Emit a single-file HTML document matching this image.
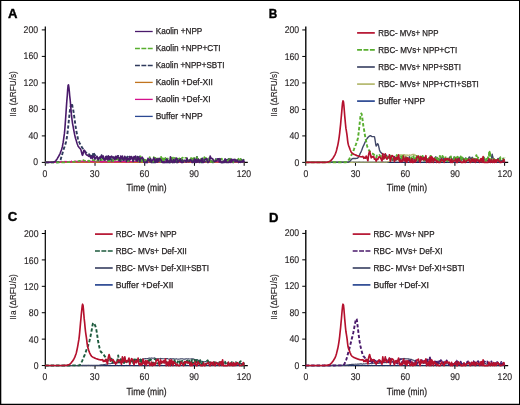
<!DOCTYPE html>
<html><head><meta charset="utf-8"><title>Figure</title>
<style>
html,body{margin:0;padding:0;background:#fff;}
body{width:520px;height:405px;overflow:hidden;position:relative;}
svg{display:block;position:absolute;left:0;top:0;}
svg text{font-family:"Liberation Sans",sans-serif;fill:#231f20;stroke:#231f20;stroke-width:0.25px;}
svg text.ti{text-rendering:geometricPrecision;}
svg text.tk{stroke-width:0.14px;text-rendering:geometricPrecision;}
</style></head><body>
<svg width="520" height="405" viewBox="0 0 520 405">
<rect x="0" y="0" width="520" height="405" fill="#fff"/>
<path d="M45.3,26.5 V162.4 H247.8" fill="none" stroke="#000" stroke-width="1.20"/>
<path d="M45.30,162.40 h-3.5 M45.30,135.90 h-3.5 M45.30,109.40 h-3.5 M45.30,82.90 h-3.5 M45.30,56.40 h-3.5 M45.30,29.90 h-3.5 M45.30,162.40 v3.4 M95.02,162.40 v3.4 M144.73,162.40 v3.4 M194.45,162.40 v3.4 M244.16,162.40 v3.4" fill="none" stroke="#000" stroke-width="1"/>
<path d="M45.3,162.4 L45.7,162.4 L46.1,162.4 L46.5,162.4 L47.0,162.4 L47.4,162.4 L47.8,162.4 L48.2,162.4 L48.6,162.4 L49.0,162.4 L49.4,162.4 L49.9,162.4 L50.3,162.4 L50.7,162.4 L51.1,162.4 L51.5,162.4 L51.9,162.4 L52.3,162.4 L52.8,162.4 L53.2,162.4 L53.6,162.4 L54.0,162.4 L54.4,162.4 L54.8,162.4 L55.2,162.4 L55.7,162.4 L56.1,162.4 L56.5,162.4 L56.9,162.4 L57.3,162.4 L57.7,162.3 L58.1,162.4 L58.6,162.4 L59.0,162.4 L59.4,162.4 L59.8,162.3 L60.2,162.3 L60.6,162.3 L61.0,162.3 L61.5,162.2 L61.9,162.4 L62.3,162.4 L62.7,162.3 L63.1,162.3 L63.5,162.3 L63.9,162.2 L64.4,162.2 L64.8,162.3 L65.2,162.3 L65.6,162.3 L66.0,162.2 L66.4,162.3 L66.8,162.4 L67.3,162.4 L67.7,162.4 L68.1,162.2 L68.5,162.3 L68.9,162.0 L69.3,162.2 L69.7,162.3 L70.2,162.3 L70.6,162.2 L71.0,162.3 L71.4,162.4 L71.8,162.2 L72.2,162.3 L72.6,162.1 L73.1,162.3 L73.5,162.4 L73.9,162.2 L74.3,162.4 L74.7,162.1 L75.1,162.0 L75.5,162.3 L76.0,162.4 L76.4,162.4 L76.8,162.2 L77.2,162.3 L77.6,162.4 L78.0,162.3 L78.4,162.0 L78.9,162.2 L79.3,162.2 L79.7,162.2 L80.1,162.1 L80.5,162.1 L80.9,162.4 L81.3,162.3 L81.8,162.4 L82.2,162.4 L82.6,162.1 L83.0,162.3 L83.4,162.3 L83.8,162.4 L84.2,162.3 L84.7,162.2 L85.1,162.3 L85.5,162.3 L85.9,162.2 L86.3,162.2 L86.7,162.2 L87.1,162.2 L87.6,162.4 L88.0,162.2 L88.4,162.2 L88.8,162.1 L89.2,162.4 L89.6,161.9 L90.0,162.4 L90.5,162.2 L90.9,162.3 L91.3,162.3 L91.7,162.2 L92.1,162.3 L92.5,162.4 L92.9,162.4 L93.4,162.2 L93.8,162.0 L94.2,162.4 L94.6,162.3 L95.0,162.1 L95.4,162.2 L95.8,162.3 L96.3,162.4 L96.7,162.4 L97.1,162.4 L97.5,162.3 L97.9,162.4 L98.3,162.4 L98.7,162.2 L99.2,162.3 L99.6,162.4 L100.0,162.3 L100.4,162.4 L100.8,162.1 L101.2,162.1 L101.6,162.0 L102.1,162.2 L102.5,162.2 L102.9,162.1 L103.3,162.0 L103.7,162.1 L104.1,162.1 L104.5,162.4 L105.0,162.4 L105.4,162.2 L105.8,162.3 L106.2,162.3 L106.6,162.4 L107.0,162.4 L107.4,162.1 L107.9,162.2 L108.3,162.4 L108.7,162.2 L109.1,162.2 L109.5,162.2 L109.9,162.0 L110.3,162.3 L110.8,162.4 L111.2,162.3 L111.6,162.4 L112.0,162.2 L112.4,162.2 L112.8,162.2 L113.2,162.3 L113.7,162.2 L114.1,162.3 L114.5,162.2 L114.9,162.3 L115.3,162.4 L115.7,162.2 L116.1,162.4 L116.6,162.1 L117.0,162.2 L117.4,162.2 L117.8,162.3 L118.2,162.3 L118.6,162.4 L119.0,162.1 L119.5,162.4 L119.9,162.1 L120.3,162.4 L120.7,162.3 L121.1,162.3 L121.5,162.4 L121.9,162.3 L122.4,162.2 L122.8,162.3 L123.2,162.4 L123.6,162.3 L124.0,162.2 L124.4,162.1 L124.8,162.2 L125.3,162.2 L125.7,162.4 L126.1,162.1 L126.5,162.3 L126.9,162.3 L127.3,162.1 L127.7,162.2 L128.2,162.2 L128.6,162.4 L129.0,162.3 L129.4,162.4 L129.8,162.2 L130.2,162.3 L130.6,162.1 L131.1,162.2 L131.5,162.3 L131.9,162.0 L132.3,162.4 L132.7,162.4 L133.1,162.3 L133.5,162.2 L134.0,162.3 L134.4,162.3 L134.8,162.4 L135.2,162.1 L135.6,162.4 L136.0,162.4 L136.4,162.3 L136.9,162.4 L137.3,162.3 L137.7,162.1 L138.1,162.3 L138.5,162.3 L138.9,162.3 L139.3,162.3 L139.8,162.2 L140.2,162.2 L140.6,162.3 L141.0,162.4 L141.4,162.3 L141.8,162.2 L142.2,162.3 L142.7,162.3 L143.1,162.4 L143.5,162.1 L143.9,162.4 L144.3,162.4 L144.7,162.3 L145.1,162.3 L145.6,162.3 L146.0,162.4 L146.4,162.3 L146.8,162.3 L147.2,162.4 L147.6,162.3 L148.0,162.4 L148.5,162.2 L148.9,162.3 L149.3,162.1 L149.7,162.2 L150.1,162.1 L150.5,162.1 L150.9,162.2 L151.4,162.3 L151.8,162.1 L152.2,162.4 L152.6,162.3 L153.0,162.2 L153.4,162.3 L153.8,162.2 L154.3,162.4 L154.7,162.3 L155.1,162.2 L155.5,162.2 L155.9,162.1 L156.3,162.3 L156.7,162.2 L157.2,162.2 L157.6,162.2 L158.0,162.4 L158.4,162.3 L158.8,162.1 L159.2,162.4 L159.6,162.2 L160.1,162.3 L160.5,162.1 L160.9,162.4 L161.3,162.3 L161.7,162.4 L162.1,162.3 L162.5,162.1 L163.0,162.4 L163.4,162.1 L163.8,162.4 L164.2,162.3 L164.6,162.4 L165.0,162.1 L165.4,162.4 L165.9,162.3 L166.3,162.4 L166.7,162.4 L167.1,162.1 L167.5,162.3 L167.9,162.1 L168.3,162.3 L168.8,162.2 L169.2,162.3 L169.6,162.2 L170.0,161.9 L170.4,162.2 L170.8,162.2 L171.2,162.3 L171.7,162.1 L172.1,162.1 L172.5,162.4 L172.9,162.4 L173.3,162.0 L173.7,162.2 L174.1,162.3 L174.6,162.2 L175.0,162.1 L175.4,162.2 L175.8,162.3 L176.2,162.0 L176.6,162.3 L177.0,162.4 L177.5,162.3 L177.9,162.3 L178.3,162.3 L178.7,162.3 L179.1,162.2 L179.5,162.4 L179.9,162.4 L180.4,162.1 L180.8,162.2 L181.2,162.4 L181.6,162.4 L182.0,162.1 L182.4,162.3 L182.8,162.3 L183.3,162.0 L183.7,162.3 L184.1,162.2 L184.5,162.3 L184.9,162.3 L185.3,162.4 L185.7,162.4 L186.2,162.1 L186.6,162.4 L187.0,162.2 L187.4,162.4 L187.8,162.3 L188.2,162.3 L188.6,162.4 L189.1,162.1 L189.5,162.3 L189.9,162.1 L190.3,162.4 L190.7,162.1 L191.1,162.0 L191.5,162.2 L192.0,162.4 L192.4,162.2 L192.8,162.2 L193.2,162.3 L193.6,162.3 L194.0,162.3 L194.4,162.2 L194.9,162.3 L195.3,162.4 L195.7,162.2 L196.1,162.3 L196.5,161.9 L196.9,162.3 L197.3,162.4 L197.8,162.3 L198.2,162.2 L198.6,162.4 L199.0,162.4 L199.4,162.1 L199.8,162.4 L200.2,162.1 L200.7,162.2 L201.1,162.4 L201.5,162.0 L201.9,162.3 L202.3,162.4 L202.7,162.3 L203.1,162.1 L203.6,162.2 L204.0,162.2 L204.4,162.0 L204.8,162.2 L205.2,162.2 L205.6,162.3 L206.0,162.4 L206.5,162.3 L206.9,162.1 L207.3,162.4 L207.7,162.1 L208.1,162.2 L208.5,162.4 L208.9,162.3 L209.4,162.0 L209.8,162.3 L210.2,162.2 L210.6,162.1 L211.0,162.4 L211.4,162.2 L211.8,162.2 L212.3,162.3 L212.7,162.2 L213.1,162.3 L213.5,162.3 L213.9,162.4 L214.3,162.2 L214.7,162.3 L215.2,162.3 L215.6,162.4 L216.0,162.4 L216.4,162.4 L216.8,162.2 L217.2,162.4 L217.6,162.1 L218.1,162.2 L218.5,162.2 L218.9,162.4 L219.3,162.0 L219.7,162.4 L220.1,162.2 L220.5,162.0 L221.0,162.3 L221.4,162.4 L221.8,162.3 L222.2,162.1 L222.6,162.1 L223.0,162.2 L223.4,162.4 L223.9,162.4 L224.3,162.2 L224.7,162.4 L225.1,162.3 L225.5,162.0 L225.9,162.4 L226.3,162.1 L226.8,162.4 L227.2,162.3 L227.6,162.3 L228.0,162.4 L228.4,162.3 L228.8,162.1 L229.2,162.2 L229.7,162.2 L230.1,162.4 L230.5,162.3 L230.9,162.2 L231.3,162.2 L231.7,162.1 L232.1,162.4 L232.6,162.0 L233.0,162.3 L233.4,162.3 L233.8,162.4 L234.2,162.3 L234.6,162.3 L235.0,162.4 L235.5,162.3 L235.9,162.3 L236.3,162.3 L236.7,162.2 L237.1,162.4 L237.5,162.1 L237.9,162.3 L238.4,162.2 L238.8,162.4 L239.2,162.3 L239.6,162.3 L240.0,162.1 L240.4,162.4 L240.8,162.1 L241.3,162.4 L241.7,162.1 L242.1,162.2 L242.5,162.4 L242.9,162.0 L243.3,162.4 L243.7,162.3 L244.2,162.2" fill="none" stroke="#2b4892" stroke-width="1.30" stroke-linejoin="round"/>
<path d="M45.3,162.4 L45.7,162.4 L46.1,162.4 L46.5,162.4 L47.0,162.4 L47.4,162.4 L47.8,162.4 L48.2,162.4 L48.6,162.4 L49.0,162.4 L49.4,162.4 L49.9,162.4 L50.3,162.4 L50.7,162.4 L51.1,162.4 L51.5,162.4 L51.9,162.4 L52.3,162.4 L52.8,162.4 L53.2,162.4 L53.6,162.4 L54.0,162.4 L54.4,162.4 L54.8,162.4 L55.2,162.4 L55.7,162.4 L56.1,162.4 L56.5,162.4 L56.9,162.4 L57.3,162.4 L57.7,162.4 L58.1,162.4 L58.6,162.4 L59.0,162.3 L59.4,162.4 L59.8,162.4 L60.2,162.4 L60.6,162.4 L61.0,162.4 L61.5,162.4 L61.9,162.3 L62.3,162.4 L62.7,162.4 L63.1,162.3 L63.5,162.4 L63.9,162.4 L64.4,162.2 L64.8,162.4 L65.2,162.4 L65.6,162.4 L66.0,162.3 L66.4,162.2 L66.8,162.4 L67.3,162.3 L67.7,162.4 L68.1,162.0 L68.5,162.1 L68.9,162.4 L69.3,162.3 L69.7,162.2 L70.2,162.3 L70.6,162.4 L71.0,162.4 L71.4,162.3 L71.8,162.3 L72.2,162.4 L72.6,162.3 L73.1,162.4 L73.5,162.4 L73.9,162.4 L74.3,162.2 L74.7,162.3 L75.1,162.1 L75.5,162.1 L76.0,162.3 L76.4,162.4 L76.8,162.4 L77.2,162.4 L77.6,162.4 L78.0,162.4 L78.4,162.4 L78.9,162.2 L79.3,162.4 L79.7,162.3 L80.1,162.4 L80.5,162.2 L80.9,162.4 L81.3,162.4 L81.8,162.2 L82.2,162.4 L82.6,162.3 L83.0,162.4 L83.4,162.4 L83.8,162.4 L84.2,162.0 L84.7,162.3 L85.1,162.4 L85.5,162.1 L85.9,162.4 L86.3,162.4 L86.7,162.4 L87.1,162.4 L87.6,162.4 L88.0,162.4 L88.4,162.4 L88.8,162.4 L89.2,162.4 L89.6,162.4 L90.0,162.4 L90.5,162.4 L90.9,162.4 L91.3,162.1 L91.7,162.4 L92.1,162.4 L92.5,162.3 L92.9,162.4 L93.4,161.9 L93.8,162.4 L94.2,162.4 L94.6,162.4 L95.0,162.3 L95.4,162.4 L95.8,162.4 L96.3,162.4 L96.7,162.4 L97.1,162.4 L97.5,162.4 L97.9,162.4 L98.3,162.4 L98.7,162.4 L99.2,162.4 L99.6,162.4 L100.0,162.3 L100.4,162.4 L100.8,162.4 L101.2,162.3 L101.6,162.4 L102.1,162.4 L102.5,162.3 L102.9,162.4 L103.3,162.3 L103.7,162.4 L104.1,162.4 L104.5,162.3 L105.0,162.4 L105.4,162.2 L105.8,162.4 L106.2,162.4 L106.6,162.3 L107.0,162.4 L107.4,162.4 L107.9,162.4 L108.3,162.1 L108.7,162.2 L109.1,162.1 L109.5,162.3 L109.9,162.3 L110.3,162.2 L110.8,162.3 L111.2,162.4 L111.6,162.2 L112.0,162.4 L112.4,162.4 L112.8,162.4 L113.2,162.4 L113.7,162.2 L114.1,162.3 L114.5,162.4 L114.9,162.4 L115.3,162.4 L115.7,162.4 L116.1,162.1 L116.6,162.3 L117.0,162.4 L117.4,162.4 L117.8,162.4 L118.2,162.4 L118.6,162.4 L119.0,162.3 L119.5,162.4 L119.9,162.3 L120.3,162.2 L120.7,162.3 L121.1,162.4 L121.5,162.4 L121.9,162.2 L122.4,162.2 L122.8,162.4 L123.2,162.4 L123.6,162.2 L124.0,162.4 L124.4,162.0 L124.8,162.3 L125.3,162.2 L125.7,162.4 L126.1,162.4 L126.5,162.4 L126.9,162.4 L127.3,162.2 L127.7,162.2 L128.2,162.4 L128.6,162.2 L129.0,162.4 L129.4,162.1 L129.8,162.3 L130.2,162.1 L130.6,162.4 L131.1,162.1 L131.5,162.2 L131.9,162.3 L132.3,162.4 L132.7,162.3 L133.1,162.3 L133.5,162.4 L134.0,162.4 L134.4,162.4 L134.8,162.4 L135.2,162.2 L135.6,162.2 L136.0,162.1 L136.4,162.3 L136.9,162.4 L137.3,162.4 L137.7,162.4 L138.1,162.4 L138.5,162.1 L138.9,162.4 L139.3,162.4 L139.8,162.3 L140.2,162.3 L140.6,162.2 L141.0,162.4 L141.4,162.4 L141.8,162.4 L142.2,162.3 L142.7,162.4 L143.1,162.4 L143.5,162.0 L143.9,162.4 L144.3,162.4 L144.7,162.4 L145.1,162.4 L145.6,162.4 L146.0,162.4 L146.4,162.3 L146.8,162.3 L147.2,162.4 L147.6,162.4 L148.0,162.2 L148.5,162.4 L148.9,162.2 L149.3,162.3 L149.7,161.9 L150.1,162.4 L150.5,162.4 L150.9,162.4 L151.4,162.2 L151.8,162.0 L152.2,162.1 L152.6,162.3 L153.0,162.1 L153.4,162.4 L153.8,162.4 L154.3,162.4 L154.7,162.3 L155.1,162.1 L155.5,162.4 L155.9,162.3 L156.3,162.4 L156.7,162.4 L157.2,162.4 L157.6,162.1 L158.0,162.3 L158.4,162.3 L158.8,162.2 L159.2,162.3 L159.6,162.4 L160.1,162.0 L160.5,162.4 L160.9,162.4 L161.3,162.4 L161.7,162.3 L162.1,162.4 L162.5,162.3 L163.0,162.1 L163.4,162.4 L163.8,162.4 L164.2,162.1 L164.6,162.3 L165.0,162.3 L165.4,162.3 L165.9,162.4 L166.3,162.4 L166.7,162.4 L167.1,162.4 L167.5,162.4 L167.9,162.4 L168.3,162.4 L168.8,162.4 L169.2,162.3 L169.6,162.4 L170.0,162.1 L170.4,162.3 L170.8,162.2 L171.2,162.4 L171.7,162.4 L172.1,162.4 L172.5,162.4 L172.9,162.4 L173.3,162.4 L173.7,162.4 L174.1,162.4 L174.6,162.4 L175.0,162.4 L175.4,162.4 L175.8,162.2 L176.2,162.3 L176.6,162.2 L177.0,162.3 L177.5,162.4 L177.9,162.4 L178.3,162.0 L178.7,162.4 L179.1,162.2 L179.5,162.4 L179.9,162.4 L180.4,162.4 L180.8,162.4 L181.2,162.4 L181.6,162.2 L182.0,162.4 L182.4,162.4 L182.8,162.1 L183.3,162.4 L183.7,162.4 L184.1,161.9 L184.5,162.3 L184.9,162.4 L185.3,162.4 L185.7,162.1 L186.2,162.2 L186.6,162.4 L187.0,162.4 L187.4,162.3 L187.8,162.3 L188.2,162.4 L188.6,162.4 L189.1,162.0 L189.5,162.2 L189.9,162.4 L190.3,162.3 L190.7,162.4 L191.1,162.2 L191.5,162.4 L192.0,162.2 L192.4,162.3 L192.8,162.2 L193.2,162.4 L193.6,162.4 L194.0,162.4 L194.4,162.3 L194.9,162.3 L195.3,162.0 L195.7,162.2 L196.1,162.4 L196.5,162.3 L196.9,162.4 L197.3,162.2 L197.8,162.2 L198.2,162.4 L198.6,162.4 L199.0,162.2 L199.4,162.4 L199.8,162.3 L200.2,162.4 L200.7,162.2 L201.1,162.1 L201.5,162.4 L201.9,162.4 L202.3,162.4 L202.7,162.4 L203.1,162.4 L203.6,162.3 L204.0,162.4 L204.4,162.4 L204.8,162.4 L205.2,162.2 L205.6,162.4 L206.0,162.4 L206.5,162.2 L206.9,162.4 L207.3,162.4 L207.7,162.4 L208.1,162.3 L208.5,162.3 L208.9,162.4 L209.4,162.4 L209.8,162.4 L210.2,162.4 L210.6,162.3 L211.0,162.4 L211.4,162.4 L211.8,162.1 L212.3,162.4 L212.7,162.4 L213.1,162.3 L213.5,162.2 L213.9,162.4 L214.3,162.4 L214.7,162.4 L215.2,162.3 L215.6,162.4 L216.0,162.2 L216.4,162.0 L216.8,162.4 L217.2,162.4 L217.6,162.0 L218.1,162.4 L218.5,162.2 L218.9,162.2 L219.3,162.4 L219.7,162.3 L220.1,162.1 L220.5,162.4 L221.0,162.4 L221.4,162.4 L221.8,162.0 L222.2,162.4 L222.6,162.2 L223.0,162.4 L223.4,162.4 L223.9,162.4 L224.3,162.4 L224.7,162.3 L225.1,162.4 L225.5,162.4 L225.9,162.4 L226.3,162.4 L226.8,162.4 L227.2,162.4 L227.6,162.4 L228.0,162.4 L228.4,162.0 L228.8,162.4 L229.2,162.4 L229.7,162.4 L230.1,162.4 L230.5,162.1 L230.9,162.4 L231.3,162.3 L231.7,162.2 L232.1,162.4 L232.6,162.2 L233.0,162.3 L233.4,162.3 L233.8,162.4 L234.2,162.4 L234.6,162.4 L235.0,162.4 L235.5,162.4 L235.9,162.4 L236.3,162.3 L236.7,162.4 L237.1,162.4 L237.5,162.4 L237.9,162.4 L238.4,162.4 L238.8,162.2 L239.2,162.4 L239.6,162.3 L240.0,162.4 L240.4,162.4 L240.8,162.3 L241.3,162.1 L241.7,162.2 L242.1,162.4 L242.5,162.3 L242.9,162.4 L243.3,162.4 L243.7,162.4 L244.2,162.2" fill="none" stroke="#c1741f" stroke-width="1.40" stroke-linejoin="round"/>
<path d="M45.3,162.4 L45.7,162.4 L46.1,162.4 L46.5,162.4 L47.0,162.4 L47.4,162.4 L47.8,162.4 L48.2,162.4 L48.6,162.3 L49.0,162.3 L49.4,162.3 L49.9,162.3 L50.3,162.3 L50.7,162.3 L51.1,162.3 L51.5,162.3 L51.9,162.3 L52.3,162.3 L52.8,162.3 L53.2,162.3 L53.6,162.2 L54.0,162.2 L54.4,162.3 L54.8,162.2 L55.2,162.2 L55.7,162.3 L56.1,162.2 L56.5,162.3 L56.9,162.1 L57.3,162.2 L57.7,162.2 L58.1,162.0 L58.6,162.3 L59.0,162.0 L59.4,162.3 L59.8,162.1 L60.2,162.2 L60.6,161.8 L61.0,161.7 L61.5,162.0 L61.9,161.8 L62.3,162.0 L62.7,161.8 L63.1,162.1 L63.5,162.3 L63.9,162.3 L64.4,161.8 L64.8,161.3 L65.2,161.8 L65.6,161.9 L66.0,161.3 L66.4,161.7 L66.8,161.7 L67.3,161.7 L67.7,161.8 L68.1,161.8 L68.5,162.1 L68.9,161.6 L69.3,161.7 L69.7,161.3 L70.2,161.8 L70.6,162.3 L71.0,161.7 L71.4,161.1 L71.8,161.8 L72.2,161.9 L72.6,162.0 L73.1,162.0 L73.5,161.7 L73.9,162.0 L74.3,161.1 L74.7,161.7 L75.1,161.6 L75.5,161.1 L76.0,161.1 L76.4,161.7 L76.8,161.5 L77.2,161.3 L77.6,161.6 L78.0,162.2 L78.4,161.4 L78.9,161.3 L79.3,161.4 L79.7,161.9 L80.1,161.6 L80.5,161.8 L80.9,161.7 L81.3,161.1 L81.8,161.0 L82.2,161.3 L82.6,161.4 L83.0,161.3 L83.4,161.6 L83.8,161.6 L84.2,161.8 L84.7,161.6 L85.1,160.8 L85.5,161.3 L85.9,161.7 L86.3,161.7 L86.7,161.8 L87.1,161.4 L87.6,161.4 L88.0,162.0 L88.4,161.4 L88.8,161.7 L89.2,161.1 L89.6,161.5 L90.0,161.0 L90.5,161.7 L90.9,161.6 L91.3,161.4 L91.7,161.2 L92.1,161.4 L92.5,161.9 L92.9,161.5 L93.4,161.5 L93.8,161.7 L94.2,161.8 L94.6,161.0 L95.0,161.7 L95.4,161.8 L95.8,161.3 L96.3,161.5 L96.7,161.6 L97.1,161.3 L97.5,161.4 L97.9,161.4 L98.3,161.2 L98.7,161.4 L99.2,161.7 L99.6,161.7 L100.0,161.7 L100.4,161.5 L100.8,161.9 L101.2,162.1 L101.6,161.5 L102.1,162.0 L102.5,162.2 L102.9,161.4 L103.3,161.8 L103.7,161.4 L104.1,161.7 L104.5,161.9 L105.0,162.0 L105.4,161.7 L105.8,161.6 L106.2,161.8 L106.6,161.6 L107.0,162.0 L107.4,161.5 L107.9,162.1 L108.3,161.6 L108.7,161.3 L109.1,161.2 L109.5,161.0 L109.9,162.1 L110.3,161.3 L110.8,161.1 L111.2,161.2 L111.6,161.8 L112.0,161.4 L112.4,160.9 L112.8,162.0 L113.2,161.4 L113.7,161.2 L114.1,161.8 L114.5,161.3 L114.9,161.9 L115.3,161.8 L115.7,161.8 L116.1,161.5 L116.6,161.6 L117.0,161.2 L117.4,161.9 L117.8,161.6 L118.2,161.2 L118.6,161.4 L119.0,162.0 L119.5,161.3 L119.9,161.7 L120.3,161.4 L120.7,161.4 L121.1,161.1 L121.5,161.5 L121.9,162.2 L122.4,162.0 L122.8,161.3 L123.2,161.6 L123.6,161.2 L124.0,161.4 L124.4,161.8 L124.8,161.2 L125.3,161.8 L125.7,162.2 L126.1,160.9 L126.5,162.2 L126.9,161.3 L127.3,161.2 L127.7,161.5 L128.2,162.1 L128.6,161.2 L129.0,162.0 L129.4,162.0 L129.8,161.7 L130.2,161.3 L130.6,161.4 L131.1,161.3 L131.5,161.7 L131.9,161.6 L132.3,161.9 L132.7,161.6 L133.1,161.3 L133.5,161.6 L134.0,161.4 L134.4,161.7 L134.8,161.7 L135.2,161.5 L135.6,161.6 L136.0,161.3 L136.4,161.5 L136.9,161.0 L137.3,161.6 L137.7,161.6 L138.1,161.9 L138.5,161.5 L138.9,161.3 L139.3,161.8 L139.8,161.6 L140.2,161.3 L140.6,161.6 L141.0,161.7 L141.4,161.2 L141.8,161.5 L142.2,161.4 L142.7,161.2 L143.1,161.2 L143.5,161.7 L143.9,161.7 L144.3,161.4 L144.7,161.6 L145.1,162.2 L145.6,161.1 L146.0,161.5 L146.4,161.3 L146.8,161.9 L147.2,161.1 L147.6,161.7 L148.0,161.6 L148.5,162.0 L148.9,161.6 L149.3,161.6 L149.7,161.6 L150.1,161.4 L150.5,161.5 L150.9,161.2 L151.4,161.7 L151.8,161.9 L152.2,161.5 L152.6,161.3 L153.0,161.1 L153.4,161.3 L153.8,162.1 L154.3,161.4 L154.7,161.1 L155.1,161.5 L155.5,161.7 L155.9,161.4 L156.3,161.7 L156.7,161.3 L157.2,161.5 L157.6,161.1 L158.0,161.4 L158.4,161.8 L158.8,161.3 L159.2,161.2 L159.6,161.7 L160.1,161.7 L160.5,162.3 L160.9,161.2 L161.3,161.7 L161.7,162.2 L162.1,162.1 L162.5,161.6 L163.0,161.3 L163.4,161.6 L163.8,161.4 L164.2,161.9 L164.6,162.0 L165.0,161.2 L165.4,161.4 L165.9,161.5 L166.3,161.1 L166.7,161.9 L167.1,161.7 L167.5,161.2 L167.9,160.9 L168.3,161.5 L168.8,161.0 L169.2,161.7 L169.6,161.4 L170.0,161.6 L170.4,162.1 L170.8,161.5 L171.2,161.2 L171.7,161.6 L172.1,161.6 L172.5,161.1 L172.9,162.0 L173.3,162.0 L173.7,161.8 L174.1,161.9 L174.6,161.1 L175.0,161.4 L175.4,161.8 L175.8,161.7 L176.2,160.6 L176.6,161.7 L177.0,161.8 L177.5,161.4 L177.9,161.3 L178.3,161.5 L178.7,161.8 L179.1,161.9 L179.5,161.3 L179.9,161.6 L180.4,162.1 L180.8,161.2 L181.2,161.3 L181.6,161.6 L182.0,161.6 L182.4,161.5 L182.8,161.8 L183.3,162.0 L183.7,161.4 L184.1,162.0 L184.5,161.4 L184.9,162.0 L185.3,161.6 L185.7,161.6 L186.2,160.9 L186.6,161.9 L187.0,162.0 L187.4,161.8 L187.8,161.9 L188.2,161.7 L188.6,161.4 L189.1,161.3 L189.5,161.0 L189.9,161.8 L190.3,160.7 L190.7,160.9 L191.1,161.6 L191.5,162.3 L192.0,161.6 L192.4,161.5 L192.8,162.3 L193.2,161.5 L193.6,161.6 L194.0,161.8 L194.4,161.3 L194.9,161.2 L195.3,161.7 L195.7,161.5 L196.1,161.8 L196.5,161.8 L196.9,161.5 L197.3,161.4 L197.8,161.7 L198.2,162.3 L198.6,161.3 L199.0,162.1 L199.4,161.5 L199.8,160.9 L200.2,161.5 L200.7,161.9 L201.1,162.0 L201.5,161.2 L201.9,161.5 L202.3,161.4 L202.7,161.2 L203.1,161.6 L203.6,161.6 L204.0,161.9 L204.4,162.4 L204.8,162.0 L205.2,161.6 L205.6,161.6 L206.0,161.4 L206.5,161.6 L206.9,161.5 L207.3,161.3 L207.7,161.8 L208.1,161.6 L208.5,162.1 L208.9,161.2 L209.4,161.5 L209.8,161.4 L210.2,161.0 L210.6,161.2 L211.0,161.6 L211.4,161.3 L211.8,162.0 L212.3,161.4 L212.7,161.5 L213.1,162.1 L213.5,161.1 L213.9,161.8 L214.3,161.3 L214.7,161.7 L215.2,161.2 L215.6,161.1 L216.0,161.8 L216.4,162.0 L216.8,161.6 L217.2,161.3 L217.6,161.7 L218.1,161.7 L218.5,161.4 L218.9,162.4 L219.3,161.8 L219.7,162.0 L220.1,161.4 L220.5,161.8 L221.0,161.9 L221.4,161.7 L221.8,162.0 L222.2,161.5 L222.6,161.8 L223.0,161.7 L223.4,161.8 L223.9,161.2 L224.3,161.6 L224.7,161.4 L225.1,161.4 L225.5,161.8 L225.9,161.3 L226.3,161.4 L226.8,161.4 L227.2,161.7 L227.6,161.7 L228.0,161.3 L228.4,160.8 L228.8,161.8 L229.2,161.4 L229.7,161.7 L230.1,161.3 L230.5,161.4 L230.9,161.2 L231.3,162.4 L231.7,161.7 L232.1,161.9 L232.6,161.6 L233.0,161.8 L233.4,161.8 L233.8,161.3 L234.2,160.9 L234.6,162.4 L235.0,161.6 L235.5,161.4 L235.9,161.5 L236.3,161.7 L236.7,162.0 L237.1,161.9 L237.5,161.3 L237.9,161.2 L238.4,161.5 L238.8,161.8 L239.2,161.5 L239.6,161.6 L240.0,161.4 L240.4,161.5 L240.8,161.7 L241.3,161.5 L241.7,161.9 L242.1,161.3 L242.5,161.1 L242.9,161.9 L243.3,161.4 L243.7,161.9 L244.2,161.2" fill="none" stroke="#d4118c" stroke-width="1.20" stroke-linejoin="round"/>
<path d="M45.3,162.4 L45.7,162.4 L46.1,162.4 L46.5,162.4 L47.0,162.4 L47.4,162.4 L47.8,162.4 L48.2,162.4 L48.6,162.4 L49.0,162.4 L49.4,162.4 L49.9,162.4 L50.3,162.4 L50.7,162.4 L51.1,162.4 L51.5,162.4 L51.9,162.4 L52.3,162.4 L52.8,162.4 L53.2,162.4 L53.6,162.4 L54.0,162.3 L54.4,162.3 L54.8,162.3 L55.2,162.3 L55.7,162.3 L56.1,162.3 L56.5,162.3 L56.9,162.3 L57.3,162.3 L57.7,162.3 L58.1,162.2 L58.6,162.1 L59.0,161.9 L59.4,161.6 L59.8,161.3 L60.2,160.9 L60.6,159.8 L61.0,158.3 L61.5,156.7 L61.9,155.4 L62.3,154.0 L62.7,152.6 L63.1,151.2 L63.5,149.8 L63.9,148.4 L64.4,147.1 L64.8,145.9 L65.2,144.7 L65.6,143.4 L66.0,142.0 L66.4,140.2 L66.8,137.8 L67.3,134.6 L67.7,131.3 L68.1,127.7 L68.5,123.8 L68.9,119.8 L69.3,116.0 L69.7,112.2 L70.2,108.9 L70.6,106.6 L71.0,104.6 L71.4,103.3 L71.8,103.4 L72.2,104.9 L72.6,107.0 L73.1,109.1 L73.5,111.6 L73.9,114.4 L74.3,117.1 L74.7,120.0 L75.1,122.9 L75.5,125.9 L76.0,128.6 L76.4,131.1 L76.8,133.3 L77.2,135.3 L77.6,137.1 L78.0,138.8 L78.4,140.1 L78.9,141.3 L79.3,142.3 L79.7,143.2 L80.1,144.0 L80.5,144.8 L80.9,145.6 L81.3,146.3 L81.8,147.0 L82.2,147.7 L82.6,148.3 L83.0,148.9 L83.4,149.6 L83.8,150.2 L84.2,150.7 L84.7,151.2 L85.1,151.6 L85.5,152.0 L85.9,152.3 L86.3,152.7 L86.7,153.0 L87.1,153.5 L87.6,154.0 L88.0,154.2 L88.4,154.4 L88.8,154.4 L89.2,154.2 L89.6,154.8 L90.0,155.6 L90.5,156.4 L90.9,157.4 L91.3,156.6 L91.7,155.7 L92.1,156.9 L92.5,158.2 L92.9,155.3 L93.4,152.2 L93.8,153.2 L94.2,154.2 L94.6,154.7 L95.0,155.2 L95.4,155.8 L95.8,156.4 L96.3,156.0 L96.7,155.7 L97.1,157.3 L97.5,158.9 L97.9,158.7 L98.3,158.4 L98.7,157.9 L99.2,157.3 L99.6,157.8 L100.0,158.3 L100.4,159.2 L100.8,160.1 L101.2,157.7 L101.6,155.3 L102.1,156.8 L102.5,158.3 L102.9,158.2 L103.3,158.1 L103.7,158.6 L104.1,159.1 L104.5,159.2 L105.0,159.4 L105.4,159.1 L105.8,158.8 L106.2,157.6 L106.6,156.4 L107.0,156.7 L107.4,156.9 L107.9,157.9 L108.3,158.9 L108.7,159.9 L109.1,160.8 L109.5,158.8 L109.9,156.7 L110.3,158.1 L110.8,159.5 L111.2,158.7 L111.6,157.9 L112.0,159.4 L112.4,160.9 L112.8,159.2 L113.2,157.5 L113.7,157.4 L114.1,157.3 L114.5,157.8 L114.9,158.4 L115.3,158.6 L115.7,158.9 L116.1,159.1 L116.6,159.2 L117.0,158.7 L117.4,158.2 L117.8,157.0 L118.2,155.9 L118.6,158.2 L119.0,160.6 L119.5,160.1 L119.9,159.5 L120.3,160.3 L120.7,161.0 L121.1,159.1 L121.5,157.2 L121.9,157.5 L122.4,157.7 L122.8,158.9 L123.2,160.2 L123.6,159.6 L124.0,159.1 L124.4,158.5 L124.8,157.8 L125.3,157.8 L125.7,157.8 L126.1,159.1 L126.5,160.5 L126.9,158.5 L127.3,156.6 L127.7,156.9 L128.2,157.2 L128.6,159.0 L129.0,160.8 L129.4,158.7 L129.8,156.7 L130.2,157.0 L130.6,157.4 L131.1,157.3 L131.5,157.1 L131.9,157.9 L132.3,158.6 L132.7,159.5 L133.1,160.4 L133.5,158.5 L134.0,156.5 L134.4,157.4 L134.8,158.4 L135.2,159.1 L135.6,159.8 L136.0,160.0 L136.4,160.3 L136.9,158.5 L137.3,156.7 L137.7,158.2 L138.1,159.6 L138.5,159.3 L138.9,159.0 L139.3,157.8 L139.8,156.6 L140.2,157.1 L140.6,157.6 L141.0,158.2 L141.4,158.9 L141.8,160.3 L142.2,161.7 L142.7,160.5 L143.1,159.3 L143.5,159.7 L143.9,160.1 L144.3,159.9 L144.7,159.8 L145.1,159.4 L145.6,159.0 L146.0,160.5 L146.4,161.9 L146.8,162.2 L147.2,162.4 L147.6,162.4 L148.0,162.4 L148.5,162.4 L148.9,162.0 L149.3,162.4 L149.7,162.4 L150.1,161.7 L150.5,159.8 L150.9,160.8 L151.4,161.9 L151.8,162.2 L152.2,162.4 L152.6,162.4 L153.0,162.4 L153.4,162.4 L153.8,162.0 L154.3,162.2 L154.7,162.4 L155.1,162.2 L155.5,162.0 L155.9,161.4 L156.3,160.8 L156.7,160.6 L157.2,160.4 L157.6,159.4 L158.0,158.5 L158.4,158.1 L158.8,157.6 L159.2,160.6 L159.6,162.4 L160.1,162.4 L160.5,162.4 L160.9,161.1 L161.3,159.8 L161.7,161.3 L162.1,162.4 L162.5,160.6 L163.0,158.4 L163.4,160.5 L163.8,162.4 L164.2,160.9 L164.6,159.2 L165.0,159.5 L165.4,159.8 L165.9,159.3 L166.3,158.9 L166.7,161.3 L167.1,162.4 L167.5,162.4 L167.9,162.4 L168.3,161.0 L168.8,159.5 L169.2,161.4 L169.6,162.4 L170.0,162.4 L170.4,162.4 L170.8,162.4 L171.2,161.7 L171.7,161.0 L172.1,160.3 L172.5,161.9 L172.9,162.4 L173.3,162.4 L173.7,161.9 L174.1,162.4 L174.6,162.4 L175.0,162.4 L175.4,161.5 L175.8,160.6 L176.2,159.8 L176.6,161.3 L177.0,162.4 L177.5,160.6 L177.9,158.6 L178.3,159.9 L178.7,161.3 L179.1,160.7 L179.5,160.1 L179.9,161.2 L180.4,162.2 L180.8,161.2 L181.2,160.2 L181.6,159.2 L182.0,158.1 L182.4,159.7 L182.8,161.2 L183.3,162.0 L183.7,162.4 L184.1,162.0 L184.5,161.4 L184.9,161.3 L185.3,161.3 L185.7,161.1 L186.2,160.9 L186.6,160.8 L187.0,160.8 L187.4,162.3 L187.8,162.4 L188.2,162.4 L188.6,162.4 L189.1,162.1 L189.5,161.3 L189.9,160.5 L190.3,159.7 L190.7,159.5 L191.1,159.3 L191.5,159.3 L192.0,159.3 L192.4,160.2 L192.8,161.0 L193.2,159.6 L193.6,158.2 L194.0,160.1 L194.4,162.0 L194.9,161.6 L195.3,161.1 L195.7,160.3 L196.1,159.5 L196.5,158.3 L196.9,157.0 L197.3,159.3 L197.8,161.6 L198.2,160.3 L198.6,159.0 L199.0,160.2 L199.4,161.4 L199.8,160.6 L200.2,159.8 L200.7,161.9 L201.1,162.4 L201.5,162.4 L201.9,162.4 L202.3,161.2 L202.7,158.5 L203.1,161.0 L203.6,162.4 L204.0,161.8 L204.4,160.2 L204.8,161.3 L205.2,162.4 L205.6,162.4 L206.0,162.4 L206.5,162.4 L206.9,161.8 L207.3,160.2 L207.7,158.7 L208.1,159.7 L208.5,160.8 L208.9,159.8 L209.4,158.7 L209.8,159.4 L210.2,160.0 L210.6,160.6 L211.0,161.2 L211.4,161.2 L211.8,161.2 L212.3,162.0 L212.7,162.4 L213.1,162.4 L213.5,162.4 L213.9,162.4 L214.3,161.8 L214.7,161.3 L215.2,160.9 L215.6,160.0 L216.0,159.1 L216.4,159.7 L216.8,160.3 L217.2,159.8 L217.6,159.4 L218.1,159.1 L218.5,158.9 L218.9,158.9 L219.3,158.8 L219.7,159.2 L220.1,159.6 L220.5,161.5 L221.0,162.4 L221.4,162.4 L221.8,162.3 L222.2,162.4 L222.6,162.4 L223.0,161.2 L223.4,159.3 L223.9,159.6 L224.3,159.8 L224.7,161.0 L225.1,162.3 L225.5,161.7 L225.9,161.1 L226.3,160.4 L226.8,159.8 L227.2,159.7 L227.6,159.6 L228.0,161.4 L228.4,162.4 L228.8,160.3 L229.2,157.4 L229.7,158.6 L230.1,159.8 L230.5,161.9 L230.9,162.4 L231.3,162.4 L231.7,162.4 L232.1,162.4 L232.6,161.9 L233.0,162.4 L233.4,162.4 L233.8,161.3 L234.2,159.5 L234.6,160.0 L235.0,160.4 L235.5,160.4 L235.9,160.5 L236.3,160.3 L236.7,160.2 L237.1,161.4 L237.5,162.4 L237.9,162.4 L238.4,162.4 L238.8,162.0 L239.2,161.0 L239.6,161.6 L240.0,162.1 L240.4,160.7 L240.8,159.3 L241.3,160.1 L241.7,160.9 L242.1,161.6 L242.5,162.3 L242.9,161.1 L243.3,159.8 L243.7,161.1 L244.2,162.4" fill="none" stroke="#2f3a5c" stroke-width="1.90" stroke-linejoin="round" stroke-dasharray="3.4 2.0"/>
<path d="M45.3,162.4 L45.7,162.4 L46.1,162.4 L46.5,162.4 L47.0,162.4 L47.4,162.4 L47.8,162.4 L48.2,162.4 L48.6,162.4 L49.0,162.4 L49.4,162.4 L49.9,162.4 L50.3,162.4 L50.7,162.4 L51.1,162.4 L51.5,162.4 L51.9,162.4 L52.3,162.4 L52.8,162.4 L53.2,162.4 L53.6,162.4 L54.0,162.4 L54.4,162.4 L54.8,162.4 L55.2,162.4 L55.7,162.4 L56.1,162.4 L56.5,162.4 L56.9,162.4 L57.3,162.3 L57.7,162.3 L58.1,162.3 L58.6,162.3 L59.0,162.3 L59.4,162.3 L59.8,162.3 L60.2,162.3 L60.6,162.3 L61.0,162.3 L61.5,162.3 L61.9,162.3 L62.3,162.3 L62.7,162.3 L63.1,162.3 L63.5,162.3 L63.9,162.3 L64.4,162.3 L64.8,162.3 L65.2,162.3 L65.6,162.2 L66.0,162.2 L66.4,162.2 L66.8,162.2 L67.3,162.2 L67.7,162.2 L68.1,162.2 L68.5,162.2 L68.9,162.2 L69.3,162.2 L69.7,162.1 L70.2,162.1 L70.6,162.1 L71.0,162.1 L71.4,162.0 L71.8,162.0 L72.2,161.9 L72.6,161.9 L73.1,161.8 L73.5,161.8 L73.9,161.8 L74.3,161.7 L74.7,161.6 L75.1,161.5 L75.5,161.5 L76.0,161.4 L76.4,161.4 L76.8,161.3 L77.2,161.3 L77.6,161.3 L78.0,161.2 L78.4,161.1 L78.9,161.0 L79.3,160.9 L79.7,160.9 L80.1,160.9 L80.5,160.8 L80.9,160.7 L81.3,160.6 L81.8,160.4 L82.2,160.2 L82.6,159.8 L83.0,160.0 L83.4,160.2 L83.8,160.4 L84.2,160.7 L84.7,160.7 L85.1,160.8 L85.5,160.7 L85.9,160.6 L86.3,160.8 L86.7,161.1 L87.1,161.1 L87.6,161.2 L88.0,160.9 L88.4,160.6 L88.8,161.0 L89.2,161.4 L89.6,161.0 L90.0,160.7 L90.5,160.8 L90.9,160.9 L91.3,160.6 L91.7,160.2 L92.1,160.1 L92.5,160.0 L92.9,160.1 L93.4,160.2 L93.8,160.2 L94.2,160.2 L94.6,160.5 L95.0,160.9 L95.4,160.5 L95.8,160.2 L96.3,160.6 L96.7,160.9 L97.1,160.7 L97.5,160.4 L97.9,160.7 L98.3,160.9 L98.7,160.8 L99.2,160.7 L99.6,161.0 L100.0,161.4 L100.4,161.2 L100.8,161.1 L101.2,160.1 L101.6,159.2 L102.1,160.1 L102.5,161.1 L102.9,160.5 L103.3,160.0 L103.7,160.0 L104.1,160.0 L104.5,159.9 L105.0,159.8 L105.4,159.4 L105.8,159.0 L106.2,159.5 L106.6,160.1 L107.0,160.7 L107.4,161.4 L107.9,161.4 L108.3,161.4 L108.7,161.3 L109.1,161.1 L109.5,161.2 L109.9,161.2 L110.3,161.3 L110.8,161.3 L111.2,161.3 L111.6,161.3 L112.0,160.6 L112.4,160.0 L112.8,160.6 L113.2,161.2 L113.7,159.7 L114.1,158.3 L114.5,158.8 L114.9,159.4 L115.3,159.7 L115.7,159.9 L116.1,159.6 L116.6,159.2 L117.0,160.1 L117.4,160.9 L117.8,159.5 L118.2,158.1 L118.6,158.2 L119.0,158.4 L119.5,158.7 L119.9,158.9 L120.3,159.5 L120.7,160.0 L121.1,159.1 L121.5,158.2 L121.9,158.5 L122.4,158.7 L122.8,158.9 L123.2,159.1 L123.6,158.4 L124.0,157.7 L124.4,158.4 L124.8,159.1 L125.3,159.8 L125.7,160.4 L126.1,160.0 L126.5,159.5 L126.9,160.3 L127.3,161.1 L127.7,161.1 L128.2,161.2 L128.6,159.8 L129.0,158.5 L129.4,158.3 L129.8,158.1 L130.2,157.5 L130.6,156.9 L131.1,157.3 L131.5,157.7 L131.9,158.6 L132.3,159.5 L132.7,160.5 L133.1,161.5 L133.5,160.7 L134.0,159.8 L134.4,158.5 L134.8,157.2 L135.2,157.7 L135.6,158.1 L136.0,159.0 L136.4,159.8 L136.9,159.9 L137.3,160.0 L137.7,160.5 L138.1,161.1 L138.5,161.2 L138.9,161.3 L139.3,161.5 L139.8,161.6 L140.2,159.0 L140.6,156.4 L141.0,157.7 L141.4,159.0 L141.8,160.2 L142.2,161.4 L142.7,160.8 L143.1,160.2 L143.5,161.0 L143.9,161.7 L144.3,161.4 L144.7,161.2 L145.1,159.8 L145.6,158.5 L146.0,158.7 L146.4,158.9 L146.8,159.4 L147.2,159.9 L147.6,160.4 L148.0,160.9 L148.5,159.9 L148.9,158.9 L149.3,158.0 L149.7,157.1 L150.1,158.6 L150.5,160.1 L150.9,160.9 L151.4,161.7 L151.8,161.7 L152.2,161.7 L152.6,161.7 L153.0,161.7 L153.4,159.4 L153.8,157.0 L154.3,158.3 L154.7,159.6 L155.1,158.7 L155.5,157.8 L155.9,159.6 L156.3,161.4 L156.7,161.2 L157.2,161.0 L157.6,159.9 L158.0,158.7 L158.4,158.1 L158.8,157.5 L159.2,159.1 L159.6,160.6 L160.1,161.2 L160.5,161.8 L160.9,158.8 L161.3,155.8 L161.7,158.3 L162.1,160.9 L162.5,159.7 L163.0,158.4 L163.4,160.0 L163.8,161.5 L164.2,160.1 L164.6,158.7 L165.0,158.3 L165.4,157.8 L165.9,158.2 L166.3,158.5 L166.7,159.6 L167.1,160.6 L167.5,159.6 L167.9,158.5 L168.3,160.1 L168.8,161.6 L169.2,161.2 L169.6,160.8 L170.0,160.6 L170.4,160.3 L170.8,158.9 L171.2,157.6 L171.7,159.6 L172.1,161.5 L172.5,159.5 L172.9,157.6 L173.3,157.8 L173.7,158.1 L174.1,157.5 L174.6,157.0 L175.0,158.8 L175.4,160.6 L175.8,161.0 L176.2,161.3 L176.6,161.3 L177.0,161.2 L177.5,159.6 L177.9,157.9 L178.3,157.5 L178.7,157.0 L179.1,157.9 L179.5,158.7 L179.9,159.4 L180.4,160.0 L180.8,160.5 L181.2,161.0 L181.6,159.4 L182.0,157.9 L182.4,157.8 L182.8,157.6 L183.3,159.7 L183.7,161.8 L184.1,161.6 L184.5,161.3 L184.9,159.6 L185.3,157.9 L185.7,157.8 L186.2,157.8 L186.6,159.3 L187.0,160.9 L187.4,161.0 L187.8,161.1 L188.2,160.7 L188.6,160.3 L189.1,160.0 L189.5,159.7 L189.9,160.8 L190.3,161.8 L190.7,159.9 L191.1,157.9 L191.5,158.8 L192.0,159.7 L192.4,159.0 L192.8,158.3 L193.2,159.8 L193.6,161.3 L194.0,159.2 L194.4,157.0 L194.9,157.7 L195.3,158.4 L195.7,159.6 L196.1,160.8 L196.5,159.0 L196.9,157.1 L197.3,157.9 L197.8,158.8 L198.2,158.3 L198.6,157.9 L199.0,160.0 L199.4,162.0 L199.8,162.0 L200.2,162.0 L200.7,160.3 L201.1,158.5 L201.5,159.8 L201.9,161.0 L202.3,160.4 L202.7,159.9 L203.1,160.8 L203.6,161.7 L204.0,159.3 L204.4,157.0 L204.8,158.5 L205.2,160.0 L205.6,159.0 L206.0,158.0 L206.5,160.0 L206.9,162.0 L207.3,161.1 L207.7,160.2 L208.1,161.1 L208.5,162.1 L208.9,159.9 L209.4,157.7 L209.8,159.0 L210.2,160.4 L210.6,161.2 L211.0,162.0 L211.4,162.0 L211.8,162.0 L212.3,161.0 L212.7,159.9 L213.1,161.0 L213.5,162.0 L213.9,160.9 L214.3,159.7 L214.7,160.1 L215.2,160.5 L215.6,160.3 L216.0,160.2 L216.4,159.9 L216.8,159.7 L217.2,159.6 L217.6,159.5 L218.1,160.2 L218.5,160.8 L218.9,160.2 L219.3,159.5 L219.7,160.7 L220.1,161.8 L220.5,161.6 L221.0,161.3 L221.4,159.9 L221.8,158.5 L222.2,160.2 L222.6,161.8 L223.0,161.7 L223.4,161.6 L223.9,161.5 L224.3,161.5 L224.7,160.9 L225.1,160.4 L225.5,161.3 L225.9,162.3 L226.3,162.3 L226.8,162.2 L227.2,161.4 L227.6,160.5 L228.0,161.2 L228.4,161.8 L228.8,160.6 L229.2,159.3 L229.7,159.0 L230.1,158.7 L230.5,159.3 L230.9,159.9 L231.3,159.6 L231.7,159.3 L232.1,160.1 L232.6,160.9 L233.0,161.6 L233.4,162.2 L233.8,161.5 L234.2,160.7 L234.6,160.9 L235.0,161.0 L235.5,160.5 L235.9,159.9 L236.3,161.0 L236.7,162.0 L237.1,161.8 L237.5,161.7 L237.9,160.2 L238.4,158.7 L238.8,160.1 L239.2,161.5 L239.6,161.2 L240.0,160.9 L240.4,159.5 L240.8,158.1 L241.3,159.8 L241.7,161.5 L242.1,161.8 L242.5,162.0 L242.9,160.7 L243.3,159.5 L243.7,159.8 L244.2,160.2" fill="none" stroke="#58ae2f" stroke-width="1.70" stroke-linejoin="round" stroke-dasharray="3.4 2.0"/>
<path d="M45.3,162.4 L45.7,162.4 L46.1,162.4 L46.5,162.4 L47.0,162.4 L47.4,162.4 L47.8,162.4 L48.2,162.4 L48.6,162.4 L49.0,162.4 L49.4,162.4 L49.9,162.3 L50.3,162.3 L50.7,162.3 L51.1,162.3 L51.5,162.3 L51.9,162.3 L52.3,162.2 L52.8,162.2 L53.2,162.1 L53.6,162.0 L54.0,161.9 L54.4,161.7 L54.8,161.5 L55.2,161.2 L55.7,160.8 L56.1,160.4 L56.5,159.8 L56.9,159.2 L57.3,158.6 L57.7,157.9 L58.1,157.2 L58.6,156.5 L59.0,155.7 L59.4,155.0 L59.8,154.1 L60.2,153.2 L60.6,152.1 L61.0,151.0 L61.5,149.8 L61.9,148.4 L62.3,146.9 L62.7,144.9 L63.1,142.7 L63.5,140.1 L63.9,137.2 L64.4,133.7 L64.8,129.5 L65.2,124.3 L65.6,118.7 L66.0,113.0 L66.4,106.9 L66.8,101.1 L67.3,95.3 L67.7,89.4 L68.1,85.3 L68.5,84.9 L68.9,87.3 L69.3,91.2 L69.7,95.8 L70.2,100.2 L70.6,104.7 L71.0,109.8 L71.4,114.4 L71.8,117.9 L72.2,121.0 L72.6,123.8 L73.1,126.3 L73.5,128.7 L73.9,130.9 L74.3,132.9 L74.7,134.9 L75.1,136.6 L75.5,138.3 L76.0,139.8 L76.4,141.1 L76.8,142.4 L77.2,143.7 L77.6,144.8 L78.0,145.8 L78.4,146.6 L78.9,147.2 L79.3,147.7 L79.7,148.1 L80.1,148.5 L80.5,149.1 L80.9,149.8 L81.3,151.2 L81.8,153.2 L82.2,154.9 L82.6,155.3 L83.0,154.1 L83.4,152.0 L83.8,150.3 L84.2,150.1 L84.7,150.9 L85.1,152.1 L85.5,153.3 L85.9,154.1 L86.3,154.6 L86.7,155.0 L87.1,155.1 L87.6,155.0 L88.0,155.5 L88.4,156.1 L88.8,156.3 L89.2,156.5 L89.6,156.4 L90.0,156.2 L90.5,157.1 L90.9,158.2 L91.3,157.3 L91.7,156.3 L92.1,157.4 L92.5,158.5 L92.9,157.5 L93.4,156.5 L93.8,156.2 L94.2,156.0 L94.6,157.6 L95.0,159.2 L95.4,158.5 L95.8,157.7 L96.3,157.0 L96.7,156.3 L97.1,157.1 L97.5,157.9 L97.9,158.9 L98.3,159.9 L98.7,158.7 L99.2,157.4 L99.6,157.2 L100.0,156.9 L100.4,157.3 L100.8,157.7 L101.2,156.6 L101.6,155.6 L102.1,156.5 L102.5,157.5 L102.9,156.7 L103.3,156.0 L103.7,158.0 L104.1,160.0 L104.5,160.0 L105.0,160.1 L105.4,158.3 L105.8,156.5 L106.2,157.6 L106.6,158.7 L107.0,159.4 L107.4,160.0 L107.9,158.0 L108.3,155.9 L108.7,157.5 L109.1,159.1 L109.5,158.0 L109.9,156.9 L110.3,157.0 L110.8,157.1 L111.2,156.7 L111.6,156.2 L112.0,156.9 L112.4,157.7 L112.8,157.3 L113.2,157.0 L113.7,158.1 L114.1,159.2 L114.5,159.4 L114.9,159.6 L115.3,157.9 L115.7,156.3 L116.1,157.5 L116.6,158.8 L117.0,157.4 L117.4,155.9 L117.8,156.7 L118.2,157.6 L118.6,157.7 L119.0,157.8 L119.5,159.2 L119.9,160.6 L120.3,158.3 L120.7,156.1 L121.1,157.4 L121.5,158.8 L121.9,157.4 L122.4,156.0 L122.8,157.6 L123.2,159.1 L123.6,159.6 L124.0,160.1 L124.4,158.2 L124.8,156.4 L125.3,157.3 L125.7,158.2 L126.1,159.8 L126.5,161.4 L126.9,159.7 L127.3,158.0 L127.7,158.9 L128.2,159.7 L128.6,159.1 L129.0,158.6 L129.4,157.6 L129.8,156.6 L130.2,158.1 L130.6,159.6 L131.1,158.0 L131.5,156.5 L131.9,157.3 L132.3,158.1 L132.7,159.8 L133.1,161.5 L133.5,159.0 L134.0,156.5 L134.4,157.1 L134.8,157.8 L135.2,157.0 L135.6,156.1 L136.0,158.4 L136.4,160.8 L136.9,160.9 L137.3,161.1 L137.7,158.9 L138.1,156.7 L138.5,157.4 L138.9,158.1 L139.3,160.0 L139.8,161.9 L140.2,160.0 L140.6,158.0 L141.0,158.1 L141.4,158.1 L141.8,157.7 L142.2,157.2 L142.7,157.9 L143.1,158.6 L143.5,160.4 L143.9,162.3 L144.3,162.4 L144.7,162.4 L145.1,162.4 L145.6,162.4 L146.0,162.4 L146.4,162.4 L146.8,162.4 L147.2,162.0 L147.6,160.2 L148.0,158.3 L148.5,159.3 L148.9,160.3 L149.3,160.3 L149.7,160.3 L150.1,159.4 L150.5,158.5 L150.9,160.7 L151.4,162.4 L151.8,161.5 L152.2,160.1 L152.6,160.1 L153.0,160.1 L153.4,158.9 L153.8,157.7 L154.3,159.0 L154.7,160.3 L155.1,162.0 L155.5,162.4 L155.9,161.2 L156.3,158.8 L156.7,160.6 L157.2,162.3 L157.6,160.5 L158.0,158.8 L158.4,160.1 L158.8,161.4 L159.2,159.9 L159.6,158.4 L160.1,158.8 L160.5,159.2 L160.9,159.8 L161.3,160.4 L161.7,161.7 L162.1,162.4 L162.5,162.4 L163.0,162.4 L163.4,162.4 L163.8,162.4 L164.2,162.4 L164.6,162.4 L165.0,162.4 L165.4,162.4 L165.9,162.4 L166.3,162.4 L166.7,160.9 L167.1,159.4 L167.5,159.9 L167.9,160.4 L168.3,162.1 L168.8,162.4 L169.2,162.4 L169.6,162.4 L170.0,160.1 L170.4,156.8 L170.8,158.6 L171.2,160.4 L171.7,161.5 L172.1,162.4 L172.5,162.4 L172.9,162.3 L173.3,160.8 L173.7,159.3 L174.1,161.0 L174.6,162.4 L175.0,161.5 L175.4,160.3 L175.8,159.1 L176.2,158.0 L176.6,158.3 L177.0,158.7 L177.5,160.6 L177.9,162.4 L178.3,161.7 L178.7,160.9 L179.1,160.5 L179.5,160.1 L179.9,159.5 L180.4,158.9 L180.8,160.9 L181.2,162.4 L181.6,162.4 L182.0,162.4 L182.4,162.4 L182.8,162.4 L183.3,162.3 L183.7,161.0 L184.1,160.6 L184.5,160.3 L184.9,160.4 L185.3,160.5 L185.7,161.3 L186.2,162.1 L186.6,160.0 L187.0,158.0 L187.4,159.2 L187.8,160.5 L188.2,161.1 L188.6,161.7 L189.1,161.2 L189.5,160.7 L189.9,160.1 L190.3,159.5 L190.7,159.7 L191.1,160.0 L191.5,161.2 L192.0,162.4 L192.4,162.4 L192.8,162.4 L193.2,162.4 L193.6,161.8 L194.0,160.3 L194.4,158.8 L194.9,160.8 L195.3,162.4 L195.7,161.1 L196.1,159.5 L196.5,161.6 L196.9,162.4 L197.3,161.7 L197.8,159.8 L198.2,159.5 L198.6,159.2 L199.0,161.1 L199.4,162.4 L199.8,161.6 L200.2,160.2 L200.7,160.6 L201.1,160.9 L201.5,159.7 L201.9,158.5 L202.3,160.5 L202.7,162.4 L203.1,162.4 L203.6,162.4 L204.0,161.7 L204.4,159.7 L204.8,159.6 L205.2,159.5 L205.6,159.1 L206.0,158.7 L206.5,158.7 L206.9,158.6 L207.3,161.3 L207.7,162.4 L208.1,162.4 L208.5,162.4 L208.9,161.6 L209.4,160.5 L209.8,158.3 L210.2,156.0 L210.6,157.3 L211.0,158.6 L211.4,158.5 L211.8,158.4 L212.3,158.6 L212.7,158.8 L213.1,159.6 L213.5,160.4 L213.9,161.2 L214.3,161.9 L214.7,161.6 L215.2,161.4 L215.6,161.0 L216.0,160.7 L216.4,160.9 L216.8,161.0 L217.2,160.0 L217.6,158.9 L218.1,158.9 L218.5,158.9 L218.9,160.4 L219.3,162.0 L219.7,160.3 L220.1,158.7 L220.5,161.0 L221.0,162.4 L221.4,162.4 L221.8,162.4 L222.2,162.4 L222.6,162.4 L223.0,162.4 L223.4,161.4 L223.9,162.4 L224.3,162.4 L224.7,161.5 L225.1,158.9 L225.5,159.3 L225.9,159.6 L226.3,161.9 L226.8,162.4 L227.2,162.4 L227.6,162.4 L228.0,162.4 L228.4,162.4 L228.8,162.4 L229.2,162.4 L229.7,161.7 L230.1,159.8 L230.5,161.1 L230.9,162.4 L231.3,160.8 L231.7,159.1 L232.1,160.1 L232.6,161.1 L233.0,160.3 L233.4,159.5 L233.8,159.6 L234.2,159.7 L234.6,159.5 L235.0,159.4 L235.5,160.6 L235.9,161.8 L236.3,161.6 L236.7,161.4 L237.1,160.7 L237.5,160.0 L237.9,161.4 L238.4,162.4 L238.8,162.3 L239.2,161.7 L239.6,161.4 L240.0,161.1 L240.4,161.8 L240.8,162.4 L241.3,161.8 L241.7,161.2 L242.1,161.6 L242.5,162.1 L242.9,161.1 L243.3,160.1 L243.7,161.4 L244.2,162.4" fill="none" stroke="#4a1a6b" stroke-width="1.60" stroke-linejoin="round"/>
<text x="38.1" y="165.3" font-size="9.80" text-anchor="end" textLength="4.8" lengthAdjust="spacingAndGlyphs" class="tk">0</text>
<text x="38.1" y="138.8" font-size="9.80" text-anchor="end" textLength="9.7" lengthAdjust="spacingAndGlyphs" class="tk">40</text>
<text x="38.1" y="112.3" font-size="9.80" text-anchor="end" textLength="9.7" lengthAdjust="spacingAndGlyphs" class="tk">80</text>
<text x="38.1" y="85.8" font-size="9.80" text-anchor="end" textLength="14.5" lengthAdjust="spacingAndGlyphs" class="tk">120</text>
<text x="38.1" y="59.4" font-size="9.80" text-anchor="end" textLength="14.5" lengthAdjust="spacingAndGlyphs" class="tk">160</text>
<text x="38.1" y="32.9" font-size="9.80" text-anchor="end" textLength="14.5" lengthAdjust="spacingAndGlyphs" class="tk">200</text>
<text x="45.0" y="176.7" font-size="9.80" text-anchor="middle" textLength="4.8" lengthAdjust="spacingAndGlyphs" class="tk">0</text>
<text x="94.7" y="176.7" font-size="9.80" text-anchor="middle" textLength="9.7" lengthAdjust="spacingAndGlyphs" class="tk">30</text>
<text x="144.4" y="176.7" font-size="9.80" text-anchor="middle" textLength="9.7" lengthAdjust="spacingAndGlyphs" class="tk">60</text>
<text x="194.1" y="176.7" font-size="9.80" text-anchor="middle" textLength="9.7" lengthAdjust="spacingAndGlyphs" class="tk">90</text>
<text x="243.9" y="176.7" font-size="9.80" text-anchor="middle" textLength="14.5" lengthAdjust="spacingAndGlyphs" class="tk">120</text>
<text x="146.5" y="190.7" font-size="10.20" text-anchor="middle" textLength="40.2" lengthAdjust="spacingAndGlyphs" class="ti">Time (min)</text>
<text transform="translate(16.3,94.0) rotate(-90)" font-size="9.6" text-anchor="middle" textLength="45.5" style="stroke-width:0.15px" lengthAdjust="spacingAndGlyphs">IIa (ΔRFU/s)</text>
<text x="8.00" y="18.10" font-size="13.1" font-weight="bold" style="fill:#000;stroke:#000;stroke-width:0.4px">A</text>
<path d="M135.0,31.5 h17.7" fill="none" stroke="#4a1a6b" stroke-width="1.30"/>
<text x="155.7" y="34.4" font-size="8.40" textLength="46.6" lengthAdjust="spacingAndGlyphs">Kaolin +NPP</text>
<path d="M135.0,48.5 h17.7" fill="none" stroke="#58ae2f" stroke-width="1.30" stroke-dasharray="4.9 1.5"/>
<text x="155.7" y="51.4" font-size="8.40" textLength="64.9" lengthAdjust="spacingAndGlyphs">Kaolin +NPP+CTI</text>
<path d="M135.0,65.5 h17.7" fill="none" stroke="#2f3a5c" stroke-width="1.30" stroke-dasharray="4.9 1.5"/>
<text x="155.7" y="68.4" font-size="8.40" textLength="68.7" lengthAdjust="spacingAndGlyphs">Kaolin +NPP+SBTI</text>
<path d="M135.0,82.4 h17.7" fill="none" stroke="#c1741f" stroke-width="1.30"/>
<text x="155.7" y="85.3" font-size="8.40" textLength="57.2" lengthAdjust="spacingAndGlyphs">Kaolin +Def-XII</text>
<path d="M135.0,99.4 h17.7" fill="none" stroke="#d4118c" stroke-width="1.30"/>
<text x="155.7" y="102.3" font-size="8.40" textLength="54.9" lengthAdjust="spacingAndGlyphs">Kaolin +Def-XI</text>
<path d="M135.0,116.4 h17.7" fill="none" stroke="#2b4892" stroke-width="1.30"/>
<text x="155.7" y="119.3" font-size="8.40" textLength="47.0" lengthAdjust="spacingAndGlyphs">Buffer +NPP</text>
<path d="M305.8,26.6 V162.4 H508.2" fill="none" stroke="#000" stroke-width="1.35"/>
<path d="M305.75,162.40 h-3.5 M305.75,135.91 h-3.5 M305.75,109.42 h-3.5 M305.75,82.93 h-3.5 M305.75,56.44 h-3.5 M305.75,29.95 h-3.5 M305.75,162.40 v3.4 M355.47,162.40 v3.4 M405.18,162.40 v3.4 M454.90,162.40 v3.4 M504.61,162.40 v3.4" fill="none" stroke="#000" stroke-width="1"/>
<path d="M305.8,162.4 L306.2,162.4 L306.6,162.4 L307.0,162.4 L307.4,162.4 L307.8,162.4 L308.2,162.4 L308.7,162.4 L309.1,162.4 L309.5,162.4 L309.9,162.4 L310.3,162.4 L310.7,162.4 L311.1,162.4 L311.6,162.4 L312.0,162.4 L312.4,162.4 L312.8,162.4 L313.2,162.4 L313.6,162.4 L314.0,162.4 L314.5,162.4 L314.9,162.4 L315.3,162.4 L315.7,162.4 L316.1,162.4 L316.5,162.4 L316.9,162.4 L317.4,162.4 L317.8,162.4 L318.2,162.4 L318.6,162.4 L319.0,162.4 L319.4,162.4 L319.8,162.4 L320.3,162.4 L320.7,162.4 L321.1,162.4 L321.5,162.4 L321.9,162.4 L322.3,162.4 L322.7,162.4 L323.2,162.4 L323.6,162.4 L324.0,162.4 L324.4,162.3 L324.8,162.3 L325.2,162.4 L325.6,162.4 L326.1,162.4 L326.5,162.4 L326.9,162.2 L327.3,162.3 L327.7,162.4 L328.1,162.3 L328.5,162.3 L329.0,162.4 L329.4,162.4 L329.8,162.4 L330.2,162.3 L330.6,162.4 L331.0,162.4 L331.4,162.4 L331.9,162.4 L332.3,162.3 L332.7,162.3 L333.1,162.4 L333.5,162.4 L333.9,162.3 L334.3,162.4 L334.8,162.4 L335.2,162.4 L335.6,162.4 L336.0,162.4 L336.4,162.4 L336.8,162.4 L337.2,162.4 L337.7,162.4 L338.1,162.4 L338.5,162.4 L338.9,162.3 L339.3,162.4 L339.7,162.4 L340.1,162.3 L340.6,162.3 L341.0,162.4 L341.4,162.4 L341.8,162.4 L342.2,162.3 L342.6,162.4 L343.0,162.4 L343.5,162.4 L343.9,162.4 L344.3,162.3 L344.7,162.2 L345.1,162.4 L345.5,162.2 L345.9,162.3 L346.4,162.2 L346.8,162.4 L347.2,162.4 L347.6,162.3 L348.0,162.4 L348.4,162.2 L348.8,162.3 L349.3,162.3 L349.7,162.3 L350.1,162.4 L350.5,162.3 L350.9,162.4 L351.3,162.4 L351.7,162.4 L352.2,162.3 L352.6,162.4 L353.0,162.3 L353.4,162.3 L353.8,162.4 L354.2,162.4 L354.6,162.4 L355.1,162.4 L355.5,162.4 L355.9,162.4 L356.3,162.4 L356.7,162.3 L357.1,162.4 L357.5,162.4 L358.0,162.2 L358.4,162.2 L358.8,162.4 L359.2,162.4 L359.6,162.2 L360.0,162.3 L360.4,162.4 L360.9,162.3 L361.3,162.4 L361.7,162.4 L362.1,162.3 L362.5,162.4 L362.9,162.3 L363.3,162.4 L363.8,162.2 L364.2,162.4 L364.6,162.4 L365.0,162.4 L365.4,162.4 L365.8,162.4 L366.2,162.3 L366.7,162.4 L367.1,162.4 L367.5,162.4 L367.9,162.4 L368.3,162.3 L368.7,162.4 L369.1,162.4 L369.6,162.4 L370.0,162.3 L370.4,162.3 L370.8,162.4 L371.2,162.3 L371.6,162.4 L372.0,162.4 L372.5,162.3 L372.9,162.4 L373.3,162.3 L373.7,162.4 L374.1,162.4 L374.5,162.4 L374.9,162.4 L375.4,162.4 L375.8,162.2 L376.2,162.4 L376.6,162.4 L377.0,162.4 L377.4,162.4 L377.8,162.4 L378.3,162.3 L378.7,162.4 L379.1,162.4 L379.5,162.4 L379.9,162.4 L380.3,162.3 L380.7,162.3 L381.2,162.4 L381.6,162.4 L382.0,162.4 L382.4,162.3 L382.8,162.3 L383.2,162.1 L383.6,162.3 L384.1,162.4 L384.5,162.4 L384.9,162.4 L385.3,162.3 L385.7,162.4 L386.1,162.4 L386.5,162.4 L387.0,162.3 L387.4,162.3 L387.8,162.3 L388.2,162.3 L388.6,162.4 L389.0,162.3 L389.4,162.4 L389.9,162.4 L390.3,162.3 L390.7,162.4 L391.1,162.4 L391.5,162.3 L391.9,162.4 L392.3,162.4 L392.8,162.3 L393.2,162.4 L393.6,162.4 L394.0,162.3 L394.4,162.4 L394.8,162.4 L395.2,162.4 L395.7,162.4 L396.1,162.4 L396.5,162.4 L396.9,162.3 L397.3,162.4 L397.7,162.3 L398.1,162.3 L398.6,162.4 L399.0,162.4 L399.4,162.4 L399.8,162.3 L400.2,162.4 L400.6,162.4 L401.0,162.4 L401.5,162.3 L401.9,162.4 L402.3,162.4 L402.7,162.3 L403.1,162.4 L403.5,162.4 L403.9,162.4 L404.4,162.4 L404.8,162.4 L405.2,162.4 L405.6,162.4 L406.0,162.4 L406.4,162.4 L406.8,162.4 L407.3,162.4 L407.7,162.4 L408.1,162.4 L408.5,162.4 L408.9,162.4 L409.3,162.4 L409.7,162.4 L410.2,162.3 L410.6,162.4 L411.0,162.3 L411.4,162.4 L411.8,162.3 L412.2,162.4 L412.6,162.4 L413.1,162.4 L413.5,162.4 L413.9,162.4 L414.3,162.4 L414.7,162.4 L415.1,162.4 L415.5,162.3 L416.0,162.3 L416.4,162.4 L416.8,162.4 L417.2,162.4 L417.6,162.3 L418.0,162.4 L418.4,162.3 L418.9,162.4 L419.3,162.4 L419.7,162.4 L420.1,162.4 L420.5,162.4 L420.9,162.4 L421.3,162.4 L421.8,162.2 L422.2,162.4 L422.6,162.4 L423.0,162.4 L423.4,162.4 L423.8,162.4 L424.2,162.4 L424.7,162.4 L425.1,162.4 L425.5,162.4 L425.9,162.3 L426.3,162.4 L426.7,162.4 L427.1,162.3 L427.6,162.4 L428.0,162.4 L428.4,162.3 L428.8,162.4 L429.2,162.4 L429.6,162.4 L430.0,162.3 L430.5,162.4 L430.9,162.4 L431.3,162.4 L431.7,162.4 L432.1,162.4 L432.5,162.4 L432.9,162.4 L433.4,162.4 L433.8,162.4 L434.2,162.3 L434.6,162.3 L435.0,162.4 L435.4,162.4 L435.8,162.4 L436.3,162.3 L436.7,162.4 L437.1,162.2 L437.5,162.3 L437.9,162.3 L438.3,162.4 L438.7,162.4 L439.2,162.4 L439.6,162.4 L440.0,162.4 L440.4,162.4 L440.8,162.4 L441.2,162.4 L441.6,162.2 L442.1,162.4 L442.5,162.4 L442.9,162.4 L443.3,162.3 L443.7,162.4 L444.1,162.4 L444.5,162.4 L445.0,162.4 L445.4,162.3 L445.8,162.4 L446.2,162.2 L446.6,162.3 L447.0,162.4 L447.4,162.4 L447.9,162.3 L448.3,162.4 L448.7,162.4 L449.1,162.3 L449.5,162.2 L449.9,162.4 L450.3,162.4 L450.8,162.4 L451.2,162.3 L451.6,162.4 L452.0,162.3 L452.4,162.2 L452.8,162.4 L453.2,162.4 L453.7,162.4 L454.1,162.4 L454.5,162.4 L454.9,162.4 L455.3,162.4 L455.7,162.4 L456.1,162.4 L456.6,162.3 L457.0,162.4 L457.4,162.4 L457.8,162.4 L458.2,162.3 L458.6,162.3 L459.0,162.4 L459.5,162.4 L459.9,162.3 L460.3,162.4 L460.7,162.3 L461.1,162.4 L461.5,162.3 L461.9,162.3 L462.4,162.4 L462.8,162.4 L463.2,162.4 L463.6,162.4 L464.0,162.2 L464.4,162.4 L464.8,162.4 L465.3,162.4 L465.7,162.4 L466.1,162.4 L466.5,162.4 L466.9,162.4 L467.3,162.3 L467.7,162.4 L468.2,162.4 L468.6,162.2 L469.0,162.4 L469.4,162.4 L469.8,162.4 L470.2,162.4 L470.6,162.4 L471.1,162.4 L471.5,162.4 L471.9,162.4 L472.3,162.4 L472.7,162.4 L473.1,162.4 L473.5,162.4 L474.0,162.4 L474.4,162.4 L474.8,162.4 L475.2,162.2 L475.6,162.4 L476.0,162.3 L476.4,162.3 L476.9,162.4 L477.3,162.4 L477.7,162.4 L478.1,162.4 L478.5,162.4 L478.9,162.4 L479.3,162.4 L479.8,162.4 L480.2,162.4 L480.6,162.4 L481.0,162.2 L481.4,162.4 L481.8,162.4 L482.2,162.4 L482.7,162.4 L483.1,162.4 L483.5,162.4 L483.9,162.4 L484.3,162.3 L484.7,162.4 L485.1,162.4 L485.6,162.4 L486.0,162.4 L486.4,162.4 L486.8,162.4 L487.2,162.4 L487.6,162.4 L488.0,162.4 L488.5,162.4 L488.9,162.4 L489.3,162.4 L489.7,162.4 L490.1,162.4 L490.5,162.4 L490.9,162.3 L491.4,162.4 L491.8,162.3 L492.2,162.3 L492.6,162.4 L493.0,162.3 L493.4,162.4 L493.8,162.4 L494.3,162.3 L494.7,162.4 L495.1,162.3 L495.5,162.4 L495.9,162.4 L496.3,162.4 L496.7,162.4 L497.2,162.4 L497.6,162.4 L498.0,162.3 L498.4,162.4 L498.8,162.3 L499.2,162.4 L499.6,162.3 L500.1,162.3 L500.5,162.3 L500.9,162.3 L501.3,162.4 L501.7,162.4 L502.1,162.4 L502.5,162.4 L503.0,162.4 L503.4,162.4 L503.8,162.3 L504.2,162.4 L504.6,162.4" fill="none" stroke="#2b4892" stroke-width="1.00" stroke-linejoin="round"/>
<path d="M305.8,162.4 L306.2,162.4 L306.6,162.4 L307.0,162.4 L307.4,162.4 L307.8,162.4 L308.2,162.4 L308.7,162.4 L309.1,162.4 L309.5,162.4 L309.9,162.4 L310.3,162.4 L310.7,162.4 L311.1,162.4 L311.6,162.4 L312.0,162.4 L312.4,162.4 L312.8,162.4 L313.2,162.4 L313.6,162.4 L314.0,162.4 L314.5,162.4 L314.9,162.4 L315.3,162.4 L315.7,162.4 L316.1,162.4 L316.5,162.4 L316.9,162.4 L317.4,162.4 L317.8,162.4 L318.2,162.4 L318.6,162.4 L319.0,162.4 L319.4,162.4 L319.8,162.4 L320.3,162.4 L320.7,162.4 L321.1,162.4 L321.5,162.4 L321.9,162.4 L322.3,162.4 L322.7,162.4 L323.2,162.4 L323.6,162.4 L324.0,162.4 L324.4,162.4 L324.8,162.4 L325.2,162.4 L325.6,162.4 L326.1,162.4 L326.5,162.4 L326.9,162.4 L327.3,162.4 L327.7,162.4 L328.1,162.4 L328.5,162.4 L329.0,162.4 L329.4,162.4 L329.8,162.4 L330.2,162.4 L330.6,162.4 L331.0,162.4 L331.4,162.4 L331.9,162.4 L332.3,162.4 L332.7,162.4 L333.1,162.4 L333.5,162.4 L333.9,162.4 L334.3,162.4 L334.8,162.4 L335.2,162.4 L335.6,162.4 L336.0,162.4 L336.4,162.4 L336.8,162.4 L337.2,162.4 L337.7,162.4 L338.1,162.4 L338.5,162.4 L338.9,162.4 L339.3,162.4 L339.7,162.4 L340.1,162.4 L340.6,162.4 L341.0,162.4 L341.4,162.4 L341.8,162.4 L342.2,162.4 L342.6,162.4 L343.0,162.4 L343.5,162.4 L343.9,162.4 L344.3,162.4 L344.7,162.4 L345.1,162.4 L345.5,162.4 L345.9,162.4 L346.4,162.4 L346.8,162.4 L347.2,162.4 L347.6,162.4 L348.0,162.4 L348.4,162.4 L348.8,162.4 L349.3,162.4 L349.7,162.4 L350.1,162.4 L350.5,162.4 L350.9,162.4 L351.3,162.4 L351.7,162.4 L352.2,162.4 L352.6,162.4 L353.0,162.4 L353.4,162.3 L353.8,162.3 L354.2,162.3 L354.6,162.3 L355.1,162.3 L355.5,162.3 L355.9,162.3 L356.3,162.3 L356.7,162.3 L357.1,162.3 L357.5,162.3 L358.0,162.3 L358.4,162.3 L358.8,162.3 L359.2,162.3 L359.6,162.3 L360.0,162.3 L360.4,162.3 L360.9,162.3 L361.3,162.3 L361.7,162.3 L362.1,162.3 L362.5,162.3 L362.9,162.3 L363.3,162.3 L363.8,162.3 L364.2,162.3 L364.6,162.3 L365.0,162.3 L365.4,162.3 L365.8,162.3 L366.2,162.3 L366.7,162.3 L367.1,162.3 L367.5,162.3 L367.9,162.3 L368.3,162.3 L368.7,162.3 L369.1,162.3 L369.6,162.3 L370.0,162.3 L370.4,162.3 L370.8,162.3 L371.2,162.3 L371.6,162.3 L372.0,162.3 L372.5,162.3 L372.9,162.3 L373.3,162.3 L373.7,162.3 L374.1,162.3 L374.5,162.3 L374.9,162.3 L375.4,162.3 L375.8,162.3 L376.2,162.3 L376.6,162.3 L377.0,162.3 L377.4,162.2 L377.8,162.2 L378.3,162.3 L378.7,162.2 L379.1,162.2 L379.5,162.2 L379.9,162.2 L380.3,162.2 L380.7,162.2 L381.2,162.2 L381.6,162.2 L382.0,162.2 L382.4,162.2 L382.8,162.2 L383.2,162.2 L383.6,162.2 L384.1,162.2 L384.5,162.2 L384.9,162.2 L385.3,162.2 L385.7,162.2 L386.1,162.2 L386.5,162.1 L387.0,162.1 L387.4,161.9 L387.8,161.9 L388.2,161.7 L388.6,161.6 L389.0,161.6 L389.4,161.4 L389.9,161.2 L390.3,161.2 L390.7,160.5 L391.1,160.7 L391.5,160.8 L391.9,160.6 L392.3,160.2 L392.8,160.0 L393.2,159.9 L393.6,159.6 L394.0,158.9 L394.4,158.6 L394.8,158.0 L395.2,157.7 L395.7,157.0 L396.1,157.4 L396.5,156.5 L396.9,156.7 L397.3,156.5 L397.7,155.8 L398.1,156.4 L398.6,155.7 L399.0,155.6 L399.4,155.0 L399.8,155.6 L400.2,154.9 L400.6,154.8 L401.0,154.9 L401.5,154.8 L401.9,154.8 L402.3,155.3 L402.7,155.0 L403.1,155.4 L403.5,154.5 L403.9,154.6 L404.4,155.3 L404.8,154.5 L405.2,155.0 L405.6,155.5 L406.0,155.2 L406.4,154.9 L406.8,155.1 L407.3,155.4 L407.7,154.9 L408.1,155.2 L408.5,155.3 L408.9,155.5 L409.3,154.9 L409.7,154.8 L410.2,155.4 L410.6,155.1 L411.0,155.0 L411.4,154.9 L411.8,155.2 L412.2,154.2 L412.6,154.7 L413.1,154.5 L413.5,154.9 L413.9,154.1 L414.3,154.7 L414.7,155.6 L415.1,154.8 L415.5,155.2 L416.0,155.7 L416.4,155.6 L416.8,156.0 L417.2,155.7 L417.6,155.9 L418.0,156.7 L418.4,156.2 L418.9,156.3 L419.3,157.6 L419.7,156.6 L420.1,157.0 L420.5,157.1 L420.9,157.1 L421.3,157.8 L421.8,158.3 L422.2,158.0 L422.6,158.3 L423.0,158.2 L423.4,159.2 L423.8,158.6 L424.2,157.6 L424.7,158.4 L425.1,158.2 L425.5,158.5 L425.9,158.7 L426.3,158.4 L426.7,158.4 L427.1,158.8 L427.6,158.8 L428.0,158.5 L428.4,159.0 L428.8,159.1 L429.2,158.4 L429.6,158.4 L430.0,158.9 L430.5,158.3 L430.9,158.6 L431.3,158.8 L431.7,159.1 L432.1,158.7 L432.5,159.1 L432.9,159.0 L433.4,159.2 L433.8,158.6 L434.2,158.9 L434.6,159.0 L435.0,158.8 L435.4,158.2 L435.8,158.7 L436.3,159.5 L436.7,159.0 L437.1,159.0 L437.5,159.2 L437.9,159.4 L438.3,158.5 L438.7,158.8 L439.2,158.8 L439.6,159.0 L440.0,158.9 L440.4,159.0 L440.8,159.1 L441.2,159.2 L441.6,159.5 L442.1,159.4 L442.5,159.2 L442.9,159.5 L443.3,159.1 L443.7,159.5 L444.1,159.0 L444.5,159.7 L445.0,159.2 L445.4,158.9 L445.8,159.0 L446.2,159.5 L446.6,158.9 L447.0,159.3 L447.4,159.2 L447.9,159.4 L448.3,160.0 L448.7,159.2 L449.1,159.3 L449.5,159.2 L449.9,159.8 L450.3,159.2 L450.8,159.7 L451.2,159.9 L451.6,159.8 L452.0,159.4 L452.4,159.6 L452.8,159.0 L453.2,159.3 L453.7,159.2 L454.1,159.6 L454.5,159.9 L454.9,160.1 L455.3,159.7 L455.7,159.2 L456.1,159.2 L456.6,160.2 L457.0,159.5 L457.4,159.4 L457.8,160.0 L458.2,159.7 L458.6,159.9 L459.0,159.6 L459.5,159.6 L459.9,159.8 L460.3,159.8 L460.7,160.0 L461.1,159.7 L461.5,160.8 L461.9,159.6 L462.4,159.4 L462.8,160.2 L463.2,159.9 L463.6,159.6 L464.0,160.1 L464.4,160.1 L464.8,159.9 L465.3,159.6 L465.7,160.3 L466.1,159.8 L466.5,159.7 L466.9,160.3 L467.3,159.9 L467.7,159.4 L468.2,159.9 L468.6,160.0 L469.0,159.5 L469.4,160.1 L469.8,160.0 L470.2,159.5 L470.6,159.4 L471.1,160.3 L471.5,160.1 L471.9,159.8 L472.3,159.6 L472.7,159.9 L473.1,160.2 L473.5,159.8 L474.0,160.8 L474.4,160.0 L474.8,159.8 L475.2,159.7 L475.6,159.9 L476.0,160.6 L476.4,159.8 L476.9,160.3 L477.3,160.3 L477.7,159.7 L478.1,160.8 L478.5,159.4 L478.9,159.9 L479.3,159.9 L479.8,160.2 L480.2,159.9 L480.6,160.0 L481.0,160.1 L481.4,160.7 L481.8,160.1 L482.2,160.1 L482.7,159.9 L483.1,160.1 L483.5,160.1 L483.9,160.2 L484.3,160.7 L484.7,160.9 L485.1,160.3 L485.6,160.5 L486.0,160.1 L486.4,160.7 L486.8,160.5 L487.2,160.1 L487.6,160.3 L488.0,160.6 L488.5,160.1 L488.9,160.2 L489.3,160.7 L489.7,160.5 L490.1,160.3 L490.5,160.4 L490.9,160.4 L491.4,160.5 L491.8,161.2 L492.2,160.2 L492.6,160.2 L493.0,160.4 L493.4,161.0 L493.8,160.5 L494.3,160.4 L494.7,160.4 L495.1,160.4 L495.5,161.1 L495.9,160.2 L496.3,160.2 L496.7,160.2 L497.2,160.0 L497.6,160.3 L498.0,160.0 L498.4,160.8 L498.8,160.2 L499.2,160.5 L499.6,160.0 L500.1,160.6 L500.5,160.6 L500.9,160.6 L501.3,160.3 L501.7,160.7 L502.1,160.1 L502.5,160.2 L503.0,160.4 L503.4,160.4 L503.8,160.6 L504.2,159.8 L504.6,160.2" fill="none" stroke="#b4b86e" stroke-width="1.10" stroke-linejoin="round"/>
<path d="M305.8,162.4 L306.2,162.4 L306.6,162.4 L307.0,162.4 L307.4,162.4 L307.8,162.4 L308.2,162.4 L308.7,162.4 L309.1,162.4 L309.5,162.4 L309.9,162.4 L310.3,162.4 L310.7,162.4 L311.1,162.4 L311.6,162.4 L312.0,162.4 L312.4,162.4 L312.8,162.4 L313.2,162.4 L313.6,162.4 L314.0,162.4 L314.5,162.4 L314.9,162.4 L315.3,162.4 L315.7,162.4 L316.1,162.4 L316.5,162.4 L316.9,162.4 L317.4,162.4 L317.8,162.4 L318.2,162.4 L318.6,162.4 L319.0,162.4 L319.4,162.4 L319.8,162.4 L320.3,162.4 L320.7,162.4 L321.1,162.4 L321.5,162.4 L321.9,162.4 L322.3,162.4 L322.7,162.4 L323.2,162.4 L323.6,162.4 L324.0,162.4 L324.4,162.4 L324.8,162.4 L325.2,162.4 L325.6,162.4 L326.1,162.4 L326.5,162.4 L326.9,162.4 L327.3,162.4 L327.7,162.4 L328.1,162.4 L328.5,162.4 L329.0,162.4 L329.4,162.4 L329.8,162.4 L330.2,162.4 L330.6,162.4 L331.0,162.3 L331.4,162.3 L331.9,162.3 L332.3,162.3 L332.7,162.3 L333.1,162.3 L333.5,162.3 L333.9,162.3 L334.3,162.3 L334.8,162.3 L335.2,162.3 L335.6,162.3 L336.0,162.3 L336.4,162.3 L336.8,162.3 L337.2,162.3 L337.7,162.3 L338.1,162.3 L338.5,162.3 L338.9,162.3 L339.3,162.3 L339.7,162.3 L340.1,162.3 L340.6,162.3 L341.0,162.3 L341.4,162.3 L341.8,162.3 L342.2,162.3 L342.6,162.3 L343.0,162.3 L343.5,162.3 L343.9,162.3 L344.3,162.2 L344.7,162.2 L345.1,162.2 L345.5,162.2 L345.9,162.2 L346.4,162.2 L346.8,162.2 L347.2,162.2 L347.6,162.2 L348.0,162.2 L348.4,162.2 L348.8,162.0 L349.3,161.7 L349.7,161.4 L350.1,160.9 L350.5,160.5 L350.9,160.0 L351.3,159.5 L351.7,159.1 L352.2,158.8 L352.6,158.6 L353.0,158.5 L353.4,158.5 L353.8,158.5 L354.2,158.5 L354.6,158.5 L355.1,158.5 L355.5,158.5 L355.9,158.5 L356.3,158.4 L356.7,158.4 L357.1,158.4 L357.5,158.2 L358.0,157.8 L358.4,157.2 L358.8,156.4 L359.2,155.6 L359.6,154.8 L360.0,153.9 L360.4,153.0 L360.9,152.2 L361.3,151.3 L361.7,150.3 L362.1,149.2 L362.5,148.1 L362.9,147.1 L363.3,146.1 L363.8,145.2 L364.2,144.2 L364.6,143.3 L365.0,142.4 L365.4,141.5 L365.8,140.7 L366.2,139.9 L366.7,139.2 L367.1,138.5 L367.5,138.0 L367.9,137.5 L368.3,137.1 L368.7,136.7 L369.1,136.3 L369.6,136.0 L370.0,135.8 L370.4,135.7 L370.8,135.8 L371.2,136.1 L371.6,136.4 L372.0,136.6 L372.5,136.6 L372.9,136.6 L373.3,136.6 L373.7,136.6 L374.1,136.6 L374.5,136.8 L374.9,138.8 L375.4,142.0 L375.8,144.8 L376.2,146.0 L376.6,145.6 L377.0,144.7 L377.4,143.8 L377.8,143.8 L378.3,144.7 L378.7,146.3 L379.1,148.2 L379.5,150.0 L379.9,151.2 L380.3,151.8 L380.7,152.4 L381.2,152.8 L381.6,153.2 L382.0,153.6 L382.4,153.9 L382.8,154.1 L383.2,154.3 L383.6,154.4 L384.1,154.5 L384.5,154.6 L384.9,154.7 L385.3,154.8 L385.7,154.9 L386.1,155.1 L386.5,155.5 L387.0,156.2 L387.4,156.9 L387.8,157.3 L388.2,157.7 L388.6,158.0 L389.0,158.0 L389.4,157.8 L389.9,157.9 L390.3,157.9 L390.7,157.5 L391.1,157.1 L391.5,158.2 L391.9,159.4 L392.3,159.8 L392.8,160.3 L393.2,158.7 L393.6,157.1 L394.0,156.8 L394.4,156.4 L394.8,158.2 L395.2,160.0 L395.7,160.0 L396.1,160.0 L396.5,159.7 L396.9,159.3 L397.3,159.3 L397.7,159.2 L398.1,158.0 L398.6,156.7 L399.0,158.4 L399.4,160.1 L399.8,159.7 L400.2,159.2 L400.6,158.7 L401.0,158.1 L401.5,158.4 L401.9,158.8 L402.3,159.3 L402.7,159.7 L403.1,158.5 L403.5,157.4 L403.9,159.0 L404.4,160.5 L404.8,160.4 L405.2,160.3 L405.6,159.9 L406.0,159.5 L406.4,158.4 L406.8,157.4 L407.3,158.8 L407.7,160.2 L408.1,160.5 L408.5,160.7 L408.9,158.7 L409.3,156.6 L409.7,158.7 L410.2,160.7 L410.6,159.6 L411.0,158.6 L411.4,159.3 L411.8,160.1 L412.2,159.3 L412.6,158.5 L413.1,158.4 L413.5,158.3 L413.9,159.1 L414.3,159.9 L414.7,159.9 L415.1,159.9 L415.5,160.0 L416.0,160.0 L416.4,160.4 L416.8,160.7 L417.2,161.0 L417.6,161.3 L418.0,161.3 L418.4,161.3 L418.9,160.0 L419.3,158.8 L419.7,160.0 L420.1,161.2 L420.5,160.7 L420.9,160.3 L421.3,158.5 L421.8,156.6 L422.2,156.9 L422.6,157.2 L423.0,157.1 L423.4,157.0 L423.8,159.0 L424.2,160.9 L424.7,160.6 L425.1,160.3 L425.5,160.5 L425.9,160.7 L426.3,160.1 L426.7,159.5 L427.1,159.3 L427.6,159.2 L428.0,159.6 L428.4,159.9 L428.8,159.0 L429.2,158.1 L429.6,158.4 L430.0,158.7 L430.5,158.7 L430.9,158.6 L431.3,159.8 L431.7,161.1 L432.1,159.6 L432.5,158.1 L432.9,158.4 L433.4,158.7 L433.8,159.6 L434.2,160.5 L434.6,160.3 L435.0,160.1 L435.4,158.4 L435.8,156.7 L436.3,158.5 L436.7,160.3 L437.1,160.3 L437.5,160.3 L437.9,159.6 L438.3,158.9 L438.7,158.9 L439.2,158.9 L439.6,160.2 L440.0,161.5 L440.4,160.4 L440.8,159.2 L441.2,158.6 L441.6,158.0 L442.1,157.5 L442.5,157.0 L442.9,157.7 L443.3,158.5 L443.7,159.9 L444.1,161.3 L444.5,161.0 L445.0,160.8 L445.4,160.4 L445.8,160.0 L446.2,159.5 L446.6,158.9 L447.0,160.2 L447.4,161.4 L447.9,160.8 L448.3,160.2 L448.7,160.3 L449.1,160.5 L449.5,158.7 L449.9,157.0 L450.3,157.0 L450.8,157.0 L451.2,157.7 L451.6,158.3 L452.0,159.0 L452.4,159.6 L452.8,160.4 L453.2,161.2 L453.7,159.2 L454.1,157.1 L454.5,157.2 L454.9,157.3 L455.3,157.4 L455.7,157.6 L456.1,159.6 L456.6,161.6 L457.0,159.9 L457.4,158.2 L457.8,159.8 L458.2,161.4 L458.6,159.5 L459.0,157.5 L459.5,158.4 L459.9,159.3 L460.3,158.1 L460.7,157.0 L461.1,158.6 L461.5,160.1 L461.9,159.6 L462.4,159.1 L462.8,158.7 L463.2,158.3 L463.6,159.6 L464.0,160.9 L464.4,160.0 L464.8,159.1 L465.3,158.5 L465.7,158.0 L466.1,158.9 L466.5,159.7 L466.9,160.0 L467.3,160.2 L467.7,159.9 L468.2,159.7 L468.6,158.5 L469.0,157.3 L469.4,157.2 L469.8,157.0 L470.2,158.0 L470.6,159.0 L471.1,158.6 L471.5,158.3 L471.9,157.7 L472.3,157.2 L472.7,159.3 L473.1,161.4 L473.5,161.6 L474.0,161.8 L474.4,160.2 L474.8,158.6 L475.2,158.9 L475.6,159.3 L476.0,160.5 L476.4,161.6 L476.9,160.7 L477.3,159.8 L477.7,159.9 L478.1,159.9 L478.5,160.4 L478.9,160.9 L479.3,161.0 L479.8,161.1 L480.2,161.2 L480.6,161.4 L481.0,160.5 L481.4,159.5 L481.8,160.5 L482.2,161.5 L482.7,160.2 L483.1,158.9 L483.5,158.4 L483.9,158.0 L484.3,158.5 L484.7,159.0 L485.1,160.0 L485.6,161.1 L486.0,160.8 L486.4,160.5 L486.8,160.2 L487.2,160.0 L487.6,160.4 L488.0,160.8 L488.5,160.3 L488.9,159.8 L489.3,159.4 L489.7,159.1 L490.1,160.0 L490.5,160.9 L490.9,160.8 L491.4,159.6 L491.8,155.9 L492.2,154.2 L492.6,155.9 L493.0,157.4 L493.4,159.8 L493.8,161.8 L494.3,160.6 L494.7,159.3 L495.1,160.5 L495.5,161.7 L495.9,160.8 L496.3,159.9 L496.7,160.5 L497.2,161.1 L497.6,159.7 L498.0,158.4 L498.4,160.1 L498.8,161.8 L499.2,159.9 L499.6,158.0 L500.1,159.4 L500.5,160.9 L500.9,161.3 L501.3,161.7 L501.7,161.0 L502.1,160.4 L502.5,161.1 L503.0,161.9 L503.4,160.4 L503.8,158.9 L504.2,159.9 L504.6,160.8" fill="none" stroke="#424868" stroke-width="1.40" stroke-linejoin="round"/>
<path d="M305.8,162.4 L306.2,162.4 L306.6,162.4 L307.0,162.4 L307.4,162.4 L307.8,162.4 L308.2,162.4 L308.7,162.4 L309.1,162.4 L309.5,162.4 L309.9,162.4 L310.3,162.4 L310.7,162.4 L311.1,162.4 L311.6,162.4 L312.0,162.4 L312.4,162.4 L312.8,162.4 L313.2,162.4 L313.6,162.4 L314.0,162.4 L314.5,162.4 L314.9,162.4 L315.3,162.4 L315.7,162.4 L316.1,162.4 L316.5,162.4 L316.9,162.4 L317.4,162.4 L317.8,162.4 L318.2,162.4 L318.6,162.4 L319.0,162.4 L319.4,162.4 L319.8,162.4 L320.3,162.4 L320.7,162.4 L321.1,162.4 L321.5,162.4 L321.9,162.4 L322.3,162.4 L322.7,162.4 L323.2,162.4 L323.6,162.4 L324.0,162.4 L324.4,162.4 L324.8,162.4 L325.2,162.4 L325.6,162.4 L326.1,162.4 L326.5,162.4 L326.9,162.4 L327.3,162.4 L327.7,162.4 L328.1,162.4 L328.5,162.4 L329.0,162.4 L329.4,162.4 L329.8,162.4 L330.2,162.3 L330.6,162.3 L331.0,162.3 L331.4,162.3 L331.9,162.3 L332.3,162.3 L332.7,162.3 L333.1,162.3 L333.5,162.3 L333.9,162.3 L334.3,162.3 L334.8,162.3 L335.2,162.3 L335.6,162.3 L336.0,162.3 L336.4,162.3 L336.8,162.3 L337.2,162.3 L337.7,162.3 L338.1,162.3 L338.5,162.3 L338.9,162.3 L339.3,162.3 L339.7,162.3 L340.1,162.3 L340.6,162.3 L341.0,162.3 L341.4,162.3 L341.8,162.3 L342.2,162.3 L342.6,162.2 L343.0,162.2 L343.5,162.2 L343.9,162.2 L344.3,162.2 L344.7,162.2 L345.1,162.2 L345.5,162.2 L345.9,162.2 L346.4,162.2 L346.8,162.1 L347.2,161.8 L347.6,161.4 L348.0,160.9 L348.4,160.3 L348.8,159.7 L349.3,158.9 L349.7,158.2 L350.1,157.5 L350.5,156.8 L350.9,156.1 L351.3,155.3 L351.7,154.5 L352.2,153.6 L352.6,152.7 L353.0,151.8 L353.4,150.8 L353.8,149.8 L354.2,148.7 L354.6,147.7 L355.1,146.6 L355.5,145.5 L355.9,144.5 L356.3,143.4 L356.7,142.4 L357.1,141.1 L357.5,139.7 L358.0,137.9 L358.4,135.0 L358.8,131.1 L359.2,127.6 L359.6,124.0 L360.0,120.2 L360.4,116.8 L360.9,114.3 L361.3,113.4 L361.7,114.2 L362.1,116.4 L362.5,119.3 L362.9,122.5 L363.3,125.5 L363.8,128.1 L364.2,130.7 L364.6,133.3 L365.0,135.6 L365.4,137.6 L365.8,139.6 L366.2,141.6 L366.7,143.7 L367.1,145.8 L367.5,147.3 L367.9,148.3 L368.3,149.1 L368.7,149.8 L369.1,150.5 L369.6,151.0 L370.0,151.5 L370.4,152.0 L370.8,152.3 L371.2,152.5 L371.6,152.9 L372.0,153.4 L372.5,153.6 L372.9,153.9 L373.3,154.1 L373.7,154.3 L374.1,154.8 L374.5,155.5 L374.9,155.9 L375.4,156.3 L375.8,156.9 L376.2,157.5 L376.6,156.6 L377.0,155.4 L377.4,155.4 L377.8,155.3 L378.3,155.6 L378.7,155.9 L379.1,155.5 L379.5,155.0 L379.9,155.7 L380.3,156.5 L380.7,156.3 L381.2,156.2 L381.6,157.6 L382.0,159.0 L382.4,157.4 L382.8,155.8 L383.2,157.1 L383.6,158.5 L384.1,158.2 L384.5,157.9 L384.9,158.3 L385.3,158.6 L385.7,157.9 L386.1,157.3 L386.5,157.0 L387.0,156.7 L387.4,157.0 L387.8,157.3 L388.2,158.1 L388.6,158.8 L389.0,159.1 L389.4,159.4 L389.9,157.5 L390.3,155.6 L390.7,157.3 L391.1,159.0 L391.5,158.7 L391.9,158.3 L392.3,159.2 L392.8,160.1 L393.2,159.6 L393.6,159.2 L394.0,159.7 L394.4,160.2 L394.8,159.6 L395.2,159.0 L395.7,157.9 L396.1,156.8 L396.5,155.9 L396.9,155.0 L397.3,156.2 L397.7,157.5 L398.1,158.5 L398.6,159.6 L399.0,158.5 L399.4,157.3 L399.8,157.5 L400.2,157.6 L400.6,156.9 L401.0,156.2 L401.5,157.3 L401.9,158.3 L402.3,157.0 L402.7,155.7 L403.1,157.4 L403.5,159.1 L403.9,159.5 L404.4,159.9 L404.8,159.2 L405.2,158.5 L405.6,157.1 L406.0,155.7 L406.4,156.5 L406.8,157.2 L407.3,158.0 L407.7,158.7 L408.1,158.7 L408.5,158.7 L408.9,158.2 L409.3,157.7 L409.7,158.4 L410.2,159.0 L410.6,158.7 L411.0,158.4 L411.4,156.9 L411.8,155.5 L412.2,155.6 L412.6,155.8 L413.1,156.1 L413.5,156.5 L413.9,158.6 L414.3,160.7 L414.7,159.6 L415.1,158.4 L415.5,159.0 L416.0,159.6 L416.4,157.8 L416.8,156.0 L417.2,157.9 L417.6,159.9 L418.0,157.9 L418.4,155.9 L418.9,158.1 L419.3,160.3 L419.7,159.8 L420.1,159.3 L420.5,157.5 L420.9,155.7 L421.3,157.0 L421.8,158.3 L422.2,157.1 L422.6,156.0 L423.0,157.3 L423.4,158.6 L423.8,159.5 L424.2,160.4 L424.7,159.0 L425.1,157.5 L425.5,158.2 L425.9,158.8 L426.3,158.8 L426.7,158.9 L427.1,159.8 L427.6,160.8 L428.0,160.8 L428.4,160.8 L428.8,158.4 L429.2,156.1 L429.6,156.0 L430.0,155.9 L430.5,155.9 L430.9,155.9 L431.3,157.8 L431.7,159.8 L432.1,160.5 L432.5,161.2 L432.9,159.9 L433.4,158.7 L433.8,158.1 L434.2,157.5 L434.6,157.8 L435.0,158.1 L435.4,159.6 L435.8,161.2 L436.3,160.8 L436.7,160.5 L437.1,159.1 L437.5,157.8 L437.9,159.5 L438.3,161.2 L438.7,159.0 L439.2,156.9 L439.6,156.4 L440.0,155.9 L440.4,158.2 L440.8,160.4 L441.2,160.8 L441.6,161.2 L442.1,158.6 L442.5,156.0 L442.9,156.7 L443.3,157.5 L443.7,158.4 L444.1,159.4 L444.5,159.3 L445.0,159.3 L445.4,157.9 L445.8,156.5 L446.2,158.2 L446.6,159.9 L447.0,160.6 L447.4,161.2 L447.9,159.9 L448.3,158.5 L448.7,159.3 L449.1,160.2 L449.5,159.1 L449.9,158.1 L450.3,157.2 L450.8,156.4 L451.2,158.2 L451.6,160.0 L452.0,160.2 L452.4,160.5 L452.8,160.9 L453.2,161.3 L453.7,159.3 L454.1,157.2 L454.5,159.2 L454.9,161.2 L455.3,158.8 L455.7,156.5 L456.1,157.3 L456.6,158.1 L457.0,157.4 L457.4,156.8 L457.8,157.1 L458.2,157.4 L458.6,159.1 L459.0,160.8 L459.5,160.9 L459.9,160.9 L460.3,158.7 L460.7,156.5 L461.1,158.4 L461.5,160.4 L461.9,159.0 L462.4,157.6 L462.8,159.3 L463.2,160.9 L463.6,160.7 L464.0,160.4 L464.4,159.4 L464.8,158.4 L465.3,159.5 L465.7,160.6 L466.1,159.3 L466.5,157.9 L466.9,157.5 L467.3,157.1 L467.7,158.7 L468.2,160.3 L468.6,160.4 L469.0,160.4 L469.4,160.9 L469.8,161.5 L470.2,160.7 L470.6,159.9 L471.1,160.6 L471.5,161.4 L471.9,160.2 L472.3,159.1 L472.7,158.7 L473.1,158.4 L473.5,158.8 L474.0,159.1 L474.4,159.0 L474.8,158.9 L475.2,158.3 L475.6,157.7 L476.0,156.4 L476.4,155.1 L476.9,157.2 L477.3,159.4 L477.7,158.4 L478.1,157.5 L478.5,158.9 L478.9,160.3 L479.3,160.7 L479.8,161.2 L480.2,161.0 L480.6,160.9 L481.0,159.4 L481.4,157.9 L481.8,159.4 L482.2,160.9 L482.7,159.5 L483.1,158.1 L483.5,157.7 L483.9,157.3 L484.3,158.3 L484.7,159.4 L485.1,160.3 L485.6,161.2 L486.0,160.1 L486.4,159.0 L486.8,159.6 L487.2,160.2 L487.6,158.8 L488.0,157.2 L488.5,157.9 L488.9,156.4 L489.3,152.0 L489.7,151.6 L490.1,154.2 L490.5,156.6 L490.9,158.4 L491.4,159.2 L491.8,160.3 L492.2,161.1 L492.6,160.7 L493.0,160.3 L493.4,159.6 L493.8,158.8 L494.3,159.4 L494.7,159.9 L495.1,160.7 L495.5,161.6 L495.9,160.9 L496.3,160.2 L496.7,160.2 L497.2,160.2 L497.6,160.1 L498.0,160.0 L498.4,160.8 L498.8,161.7 L499.2,161.2 L499.6,160.8 L500.1,159.1 L500.5,157.3 L500.9,157.5 L501.3,157.7 L501.7,157.6 L502.1,157.4 L502.5,157.9 L503.0,158.5 L503.4,159.3 L503.8,160.2 L504.2,158.8 L504.6,157.5" fill="none" stroke="#58ae2f" stroke-width="1.90" stroke-linejoin="round" stroke-dasharray="3.4 2.0"/>
<path d="M488.9,156.4 L489.3,152.0 L489.7,151.6 L490.1,154.2 L490.5,156.6" fill="none" stroke="#58ae2f" stroke-width="1.50" stroke-linejoin="round"/>
<path d="M305.8,162.4 L306.2,162.4 L306.6,162.4 L307.0,162.4 L307.4,162.4 L307.8,162.4 L308.2,162.4 L308.7,162.4 L309.1,162.4 L309.5,162.4 L309.9,162.4 L310.3,162.4 L310.7,162.4 L311.1,162.4 L311.6,162.4 L312.0,162.4 L312.4,162.4 L312.8,162.4 L313.2,162.4 L313.6,162.4 L314.0,162.4 L314.5,162.4 L314.9,162.4 L315.3,162.4 L315.7,162.4 L316.1,162.4 L316.5,162.4 L316.9,162.4 L317.4,162.4 L317.8,162.4 L318.2,162.4 L318.6,162.4 L319.0,162.4 L319.4,162.4 L319.8,162.3 L320.3,162.3 L320.7,162.3 L321.1,162.3 L321.5,162.3 L321.9,162.3 L322.3,162.3 L322.7,162.3 L323.2,162.3 L323.6,162.3 L324.0,162.3 L324.4,162.3 L324.8,162.3 L325.2,162.3 L325.6,162.3 L326.1,162.3 L326.5,162.3 L326.9,162.2 L327.3,162.2 L327.7,162.1 L328.1,162.0 L328.5,161.8 L329.0,161.7 L329.4,161.5 L329.8,161.3 L330.2,161.1 L330.6,160.8 L331.0,160.4 L331.4,159.9 L331.9,159.5 L332.3,159.0 L332.7,158.4 L333.1,157.9 L333.5,157.3 L333.9,156.6 L334.3,155.9 L334.8,155.1 L335.2,154.2 L335.6,153.2 L336.0,152.1 L336.4,150.8 L336.8,149.3 L337.2,147.5 L337.7,145.6 L338.1,143.6 L338.5,141.4 L338.9,138.9 L339.3,136.1 L339.7,132.9 L340.1,128.8 L340.6,124.3 L341.0,119.8 L341.4,115.7 L341.8,111.1 L342.2,106.4 L342.6,102.7 L343.0,100.9 L343.5,101.9 L343.9,105.5 L344.3,110.5 L344.7,115.6 L345.1,119.9 L345.5,124.3 L345.9,128.2 L346.4,131.1 L346.8,133.7 L347.2,136.6 L347.6,140.3 L348.0,143.1 L348.4,144.8 L348.8,146.1 L349.3,147.3 L349.7,148.4 L350.1,149.5 L350.5,150.5 L350.9,151.4 L351.3,152.2 L351.7,152.7 L352.2,153.1 L352.6,153.4 L353.0,153.7 L353.4,154.0 L353.8,154.2 L354.2,154.4 L354.6,154.6 L355.1,154.8 L355.5,155.0 L355.9,155.1 L356.3,155.3 L356.7,155.5 L357.1,155.7 L357.5,155.8 L358.0,156.0 L358.4,156.1 L358.8,156.3 L359.2,156.4 L359.6,156.5 L360.0,156.6 L360.4,156.7 L360.9,156.7 L361.3,156.7 L361.7,156.8 L362.1,156.8 L362.5,156.7 L362.9,156.4 L363.3,157.1 L363.8,158.3 L364.2,158.0 L364.6,157.3 L365.0,157.8 L365.4,158.2 L365.8,157.2 L366.2,156.1 L366.7,157.2 L367.1,158.3 L367.5,159.5 L367.9,160.6 L368.3,157.4 L368.7,154.2 L369.1,152.8 L369.6,151.4 L370.0,152.8 L370.4,154.3 L370.8,156.1 L371.2,157.9 L371.6,157.2 L372.0,156.4 L372.5,156.8 L372.9,157.2 L373.3,156.8 L373.7,156.5 L374.1,157.9 L374.5,159.2 L374.9,159.1 L375.4,158.9 L375.8,160.0 L376.2,161.1 L376.6,160.0 L377.0,158.9 L377.4,159.2 L377.8,159.5 L378.3,158.2 L378.7,157.0 L379.1,157.0 L379.5,156.9 L379.9,157.3 L380.3,157.7 L380.7,158.4 L381.2,159.2 L381.6,160.1 L382.0,161.0 L382.4,157.4 L382.8,153.7 L383.2,156.3 L383.6,158.9 L384.1,158.2 L384.5,157.6 L384.9,155.7 L385.3,153.8 L385.7,155.9 L386.1,158.1 L386.5,158.6 L387.0,159.1 L387.4,158.3 L387.8,157.5 L388.2,157.3 L388.6,157.1 L389.0,156.0 L389.4,154.8 L389.9,158.1 L390.3,161.3 L390.7,159.7 L391.1,158.1 L391.5,156.8 L391.9,155.5 L392.3,155.8 L392.8,156.0 L393.2,156.6 L393.6,157.1 L394.0,159.4 L394.4,161.7 L394.8,160.4 L395.2,159.1 L395.7,158.3 L396.1,157.4 L396.5,158.5 L396.9,159.6 L397.3,158.8 L397.7,158.0 L398.1,156.4 L398.6,154.9 L399.0,158.0 L399.4,161.0 L399.8,161.5 L400.2,162.0 L400.6,160.9 L401.0,159.8 L401.5,160.8 L401.9,161.7 L402.3,161.5 L402.7,161.3 L403.1,158.6 L403.5,156.0 L403.9,158.0 L404.4,160.1 L404.8,160.7 L405.2,161.3 L405.6,159.4 L406.0,157.4 L406.4,159.9 L406.8,162.3 L407.3,160.0 L407.7,157.8 L408.1,158.8 L408.5,159.9 L408.9,159.5 L409.3,159.0 L409.7,160.7 L410.2,162.3 L410.6,162.2 L411.0,162.1 L411.4,160.5 L411.8,158.8 L412.2,161.1 L412.6,162.4 L413.1,162.4 L413.5,161.9 L413.9,160.8 L414.3,159.7 L414.7,160.9 L415.1,162.1 L415.5,161.5 L416.0,160.9 L416.4,159.0 L416.8,157.0 L417.2,157.0 L417.6,157.0 L418.0,156.5 L418.4,156.0 L418.9,157.9 L419.3,159.9 L419.7,161.8 L420.1,162.4 L420.5,160.2 L420.9,156.7 L421.3,158.2 L421.8,159.7 L422.2,158.9 L422.6,158.1 L423.0,158.9 L423.4,159.8 L423.8,158.7 L424.2,157.5 L424.7,158.6 L425.1,159.7 L425.5,157.7 L425.9,155.7 L426.3,159.2 L426.7,162.4 L427.1,161.8 L427.6,160.8 L428.0,159.9 L428.4,159.0 L428.8,161.0 L429.2,162.4 L429.6,160.0 L430.0,156.9 L430.5,159.8 L430.9,162.4 L431.3,159.7 L431.7,156.6 L432.1,157.4 L432.5,158.2 L432.9,160.7 L433.4,162.4 L433.8,160.8 L434.2,158.4 L434.6,159.2 L435.0,160.0 L435.4,160.0 L435.8,159.9 L436.3,161.2 L436.7,162.4 L437.1,161.8 L437.5,161.0 L437.9,161.4 L438.3,161.9 L438.7,162.4 L439.2,162.4 L439.6,162.4 L440.0,162.4 L440.4,162.3 L440.8,160.9 L441.2,159.9 L441.6,159.0 L442.1,159.6 L442.5,160.2 L442.9,160.8 L443.3,161.4 L443.7,162.1 L444.1,162.4 L444.5,160.7 L445.0,158.5 L445.4,159.3 L445.8,160.1 L446.2,159.5 L446.6,158.9 L447.0,158.7 L447.4,158.5 L447.9,159.3 L448.3,160.1 L448.7,159.5 L449.1,159.0 L449.5,159.5 L449.9,160.0 L450.3,162.0 L450.8,162.4 L451.2,161.5 L451.6,159.2 L452.0,161.1 L452.4,162.4 L452.8,162.0 L453.2,161.1 L453.7,161.0 L454.1,160.8 L454.5,160.9 L454.9,161.0 L455.3,159.9 L455.7,158.8 L456.1,160.9 L456.6,162.4 L457.0,162.4 L457.4,162.4 L457.8,161.4 L458.2,158.8 L458.6,159.1 L459.0,159.4 L459.5,160.3 L459.9,161.2 L460.3,161.4 L460.7,161.5 L461.1,162.4 L461.5,162.4 L461.9,162.4 L462.4,162.0 L462.8,162.4 L463.2,162.4 L463.6,161.6 L464.0,159.7 L464.4,161.7 L464.8,162.4 L465.3,162.4 L465.7,162.4 L466.1,161.7 L466.5,160.6 L466.9,160.6 L467.3,160.6 L467.7,160.3 L468.2,160.1 L468.6,159.7 L469.0,159.2 L469.4,160.6 L469.8,162.0 L470.2,162.4 L470.6,162.4 L471.1,161.4 L471.5,159.2 L471.9,159.3 L472.3,159.4 L472.7,160.6 L473.1,161.8 L473.5,160.4 L474.0,159.0 L474.4,160.4 L474.8,161.9 L475.2,162.2 L475.6,162.4 L476.0,160.9 L476.4,159.2 L476.9,159.5 L477.3,159.8 L477.7,160.5 L478.1,161.2 L478.5,160.8 L478.9,160.4 L479.3,161.7 L479.8,162.4 L480.2,160.9 L480.6,158.9 L481.0,158.7 L481.4,158.5 L481.8,160.4 L482.2,162.3 L482.7,159.5 L483.1,156.6 L483.5,159.5 L483.9,162.4 L484.3,162.4 L484.7,162.4 L485.1,162.4 L485.6,162.4 L486.0,162.4 L486.4,162.4 L486.8,162.4 L487.2,162.4 L487.6,162.4 L488.0,162.4 L488.5,160.9 L488.9,158.9 L489.3,160.3 L489.7,161.6 L490.1,162.4 L490.5,162.4 L490.9,161.6 L491.4,159.6 L491.8,160.8 L492.2,162.0 L492.6,162.4 L493.0,162.4 L493.4,161.8 L493.8,159.4 L494.3,161.1 L494.7,162.4 L495.1,161.5 L495.5,160.2 L495.9,161.3 L496.3,162.3 L496.7,161.0 L497.2,159.8 L497.6,159.6 L498.0,159.5 L498.4,160.4 L498.8,161.3 L499.2,161.2 L499.6,161.2 L500.1,162.4 L500.5,162.4 L500.9,162.4 L501.3,162.2 L501.7,162.1 L502.1,161.9 L502.5,161.7 L503.0,161.5 L503.4,160.4 L503.8,159.4 L504.2,161.0 L504.6,162.4" fill="none" stroke="#b5112e" stroke-width="1.65" stroke-linejoin="round"/>
<text x="299.2" y="165.5" font-size="9.80" text-anchor="end" textLength="4.8" lengthAdjust="spacingAndGlyphs" class="tk">0</text>
<text x="299.2" y="139.0" font-size="9.80" text-anchor="end" textLength="9.7" lengthAdjust="spacingAndGlyphs" class="tk">40</text>
<text x="299.2" y="112.5" font-size="9.80" text-anchor="end" textLength="9.7" lengthAdjust="spacingAndGlyphs" class="tk">80</text>
<text x="299.2" y="86.0" font-size="9.80" text-anchor="end" textLength="14.5" lengthAdjust="spacingAndGlyphs" class="tk">120</text>
<text x="299.2" y="59.5" font-size="9.80" text-anchor="end" textLength="14.5" lengthAdjust="spacingAndGlyphs" class="tk">160</text>
<text x="299.2" y="33.0" font-size="9.80" text-anchor="end" textLength="14.5" lengthAdjust="spacingAndGlyphs" class="tk">200</text>
<text x="305.9" y="176.7" font-size="9.80" text-anchor="middle" textLength="4.8" lengthAdjust="spacingAndGlyphs" class="tk">0</text>
<text x="355.6" y="176.7" font-size="9.80" text-anchor="middle" textLength="9.7" lengthAdjust="spacingAndGlyphs" class="tk">30</text>
<text x="405.3" y="176.7" font-size="9.80" text-anchor="middle" textLength="9.7" lengthAdjust="spacingAndGlyphs" class="tk">60</text>
<text x="455.0" y="176.7" font-size="9.80" text-anchor="middle" textLength="9.7" lengthAdjust="spacingAndGlyphs" class="tk">90</text>
<text x="504.8" y="176.7" font-size="9.80" text-anchor="middle" textLength="14.5" lengthAdjust="spacingAndGlyphs" class="tk">120</text>
<text x="406.9" y="190.7" font-size="10.20" text-anchor="middle" textLength="40.2" lengthAdjust="spacingAndGlyphs" class="ti">Time (min)</text>
<text transform="translate(276.8,94.0) rotate(-90)" font-size="9.6" text-anchor="middle" textLength="45.5" style="stroke-width:0.15px" lengthAdjust="spacingAndGlyphs">IIa (ΔRFU/s)</text>
<text x="268.80" y="18.30" font-size="13.1" font-weight="bold" textLength="8.5" lengthAdjust="spacingAndGlyphs" style="fill:#000;stroke:#000;stroke-width:0.4px">B</text>
<path d="M357.1,32.9 h17.7" fill="none" stroke="#b5112e" stroke-width="1.70"/>
<text x="378.3" y="35.8" font-size="8.40" textLength="60.1" lengthAdjust="spacingAndGlyphs">RBC- MVs+ NPP</text>
<path d="M357.1,49.9 h17.7" fill="none" stroke="#58ae2f" stroke-width="1.70" stroke-dasharray="4.9 1.5"/>
<text x="378.3" y="52.8" font-size="8.40" textLength="78.9" lengthAdjust="spacingAndGlyphs">RBC- MVs+ NPP+CTI</text>
<path d="M357.1,67.0 h17.7" fill="none" stroke="#424868" stroke-width="1.70"/>
<text x="378.3" y="69.9" font-size="8.40" textLength="82.6" lengthAdjust="spacingAndGlyphs">RBC- MVs+ NPP+SBTI</text>
<path d="M357.1,84.1 h17.7" fill="none" stroke="#b4b86e" stroke-width="1.70"/>
<text x="378.3" y="87.0" font-size="8.40" textLength="100.5" lengthAdjust="spacingAndGlyphs">RBC- MVs+ NPP+CTI+SBTI</text>
<path d="M357.1,101.1 h17.7" fill="none" stroke="#2b4892" stroke-width="1.70"/>
<text x="378.3" y="104.0" font-size="8.40" textLength="46.8" lengthAdjust="spacingAndGlyphs">Buffer +NPP</text>
<path d="M45.3,230.1 V365.6 H247.8" fill="none" stroke="#000" stroke-width="1.20"/>
<path d="M45.30,365.55 h-3.5 M45.30,339.14 h-3.5 M45.30,312.73 h-3.5 M45.30,286.32 h-3.5 M45.30,259.91 h-3.5 M45.30,233.50 h-3.5 M45.30,365.55 v3.4 M95.02,365.55 v3.4 M144.73,365.55 v3.4 M194.45,365.55 v3.4 M244.16,365.55 v3.4" fill="none" stroke="#000" stroke-width="1"/>
<path d="M45.3,365.5 L45.7,365.5 L46.1,365.6 L46.5,365.6 L47.0,365.6 L47.4,365.6 L47.8,365.6 L48.2,365.5 L48.6,365.6 L49.0,365.5 L49.4,365.6 L49.9,365.6 L50.3,365.5 L50.7,365.6 L51.1,365.5 L51.5,365.6 L51.9,365.5 L52.3,365.6 L52.8,365.5 L53.2,365.6 L53.6,365.5 L54.0,365.6 L54.4,365.5 L54.8,365.5 L55.2,365.6 L55.7,365.6 L56.1,365.5 L56.5,365.6 L56.9,365.6 L57.3,365.5 L57.7,365.5 L58.1,365.6 L58.6,365.5 L59.0,365.5 L59.4,365.5 L59.8,365.5 L60.2,365.5 L60.6,365.6 L61.0,365.5 L61.5,365.6 L61.9,365.5 L62.3,365.6 L62.7,365.5 L63.1,365.6 L63.5,365.5 L63.9,365.6 L64.4,365.6 L64.8,365.6 L65.2,365.5 L65.6,365.4 L66.0,365.5 L66.4,365.4 L66.8,365.6 L67.3,365.4 L67.7,365.5 L68.1,365.6 L68.5,365.6 L68.9,365.5 L69.3,365.6 L69.7,365.4 L70.2,365.5 L70.6,365.6 L71.0,365.6 L71.4,365.5 L71.8,365.6 L72.2,365.5 L72.6,365.5 L73.1,365.5 L73.5,365.5 L73.9,365.6 L74.3,365.6 L74.7,365.6 L75.1,365.5 L75.5,365.4 L76.0,365.5 L76.4,365.6 L76.8,365.5 L77.2,365.6 L77.6,365.6 L78.0,365.4 L78.4,365.6 L78.9,365.6 L79.3,365.5 L79.7,365.6 L80.1,365.6 L80.5,365.6 L80.9,365.5 L81.3,365.6 L81.8,365.4 L82.2,365.6 L82.6,365.6 L83.0,365.6 L83.4,365.6 L83.8,365.5 L84.2,365.6 L84.7,365.6 L85.1,365.6 L85.5,365.6 L85.9,365.5 L86.3,365.6 L86.7,365.6 L87.1,365.5 L87.6,365.5 L88.0,365.6 L88.4,365.4 L88.8,365.6 L89.2,365.5 L89.6,365.5 L90.0,365.4 L90.5,365.6 L90.9,365.6 L91.3,365.5 L91.7,365.5 L92.1,365.6 L92.5,365.6 L92.9,365.6 L93.4,365.6 L93.8,365.6 L94.2,365.5 L94.6,365.5 L95.0,365.4 L95.4,365.6 L95.8,365.5 L96.3,365.5 L96.7,365.4 L97.1,365.3 L97.5,365.6 L97.9,365.5 L98.3,365.6 L98.7,365.5 L99.2,365.5 L99.6,365.6 L100.0,365.6 L100.4,365.6 L100.8,365.6 L101.2,365.4 L101.6,365.6 L102.1,365.6 L102.5,365.5 L102.9,365.6 L103.3,365.3 L103.7,365.6 L104.1,365.5 L104.5,365.6 L105.0,365.5 L105.4,365.6 L105.8,365.6 L106.2,365.6 L106.6,365.6 L107.0,365.4 L107.4,365.5 L107.9,365.4 L108.3,365.6 L108.7,365.5 L109.1,365.6 L109.5,365.6 L109.9,365.5 L110.3,365.6 L110.8,365.6 L111.2,365.6 L111.6,365.6 L112.0,365.5 L112.4,365.6 L112.8,365.5 L113.2,365.5 L113.7,365.6 L114.1,365.6 L114.5,365.6 L114.9,365.6 L115.3,365.6 L115.7,365.5 L116.1,365.6 L116.6,365.5 L117.0,365.5 L117.4,365.3 L117.8,365.5 L118.2,365.6 L118.6,365.6 L119.0,365.5 L119.5,365.4 L119.9,365.6 L120.3,365.4 L120.7,365.4 L121.1,365.6 L121.5,365.6 L121.9,365.6 L122.4,365.6 L122.8,365.4 L123.2,365.6 L123.6,365.6 L124.0,365.4 L124.4,365.6 L124.8,365.6 L125.3,365.5 L125.7,365.5 L126.1,365.6 L126.5,365.4 L126.9,365.6 L127.3,365.5 L127.7,365.5 L128.2,365.4 L128.6,365.4 L129.0,365.6 L129.4,365.6 L129.8,365.5 L130.2,365.6 L130.6,365.5 L131.1,365.5 L131.5,365.5 L131.9,365.4 L132.3,365.5 L132.7,365.5 L133.1,365.6 L133.5,365.6 L134.0,365.6 L134.4,365.6 L134.8,365.6 L135.2,365.5 L135.6,365.6 L136.0,365.6 L136.4,365.6 L136.9,365.4 L137.3,365.5 L137.7,365.6 L138.1,365.6 L138.5,365.6 L138.9,365.6 L139.3,365.6 L139.8,365.6 L140.2,365.4 L140.6,365.5 L141.0,365.4 L141.4,365.6 L141.8,365.4 L142.2,365.5 L142.7,365.5 L143.1,365.6 L143.5,365.6 L143.9,365.6 L144.3,365.5 L144.7,365.6 L145.1,365.6 L145.6,365.6 L146.0,365.5 L146.4,365.6 L146.8,365.4 L147.2,365.6 L147.6,365.6 L148.0,365.5 L148.5,365.5 L148.9,365.4 L149.3,365.5 L149.7,365.5 L150.1,365.6 L150.5,365.5 L150.9,365.5 L151.4,365.6 L151.8,365.5 L152.2,365.6 L152.6,365.6 L153.0,365.5 L153.4,365.4 L153.8,365.5 L154.3,365.4 L154.7,365.5 L155.1,365.6 L155.5,365.5 L155.9,365.6 L156.3,365.6 L156.7,365.5 L157.2,365.6 L157.6,365.6 L158.0,365.6 L158.4,365.4 L158.8,365.5 L159.2,365.6 L159.6,365.6 L160.1,365.4 L160.5,365.6 L160.9,365.6 L161.3,365.4 L161.7,365.5 L162.1,365.5 L162.5,365.4 L163.0,365.5 L163.4,365.5 L163.8,365.5 L164.2,365.4 L164.6,365.4 L165.0,365.5 L165.4,365.6 L165.9,365.6 L166.3,365.3 L166.7,365.6 L167.1,365.5 L167.5,365.6 L167.9,365.6 L168.3,365.6 L168.8,365.5 L169.2,365.5 L169.6,365.4 L170.0,365.6 L170.4,365.6 L170.8,365.6 L171.2,365.5 L171.7,365.6 L172.1,365.5 L172.5,365.5 L172.9,365.6 L173.3,365.5 L173.7,365.4 L174.1,365.5 L174.6,365.6 L175.0,365.6 L175.4,365.5 L175.8,365.5 L176.2,365.5 L176.6,365.5 L177.0,365.5 L177.5,365.6 L177.9,365.5 L178.3,365.6 L178.7,365.5 L179.1,365.4 L179.5,365.6 L179.9,365.6 L180.4,365.5 L180.8,365.6 L181.2,365.5 L181.6,365.5 L182.0,365.6 L182.4,365.6 L182.8,365.4 L183.3,365.5 L183.7,365.6 L184.1,365.6 L184.5,365.6 L184.9,365.4 L185.3,365.6 L185.7,365.5 L186.2,365.5 L186.6,365.6 L187.0,365.6 L187.4,365.3 L187.8,365.4 L188.2,365.5 L188.6,365.5 L189.1,365.5 L189.5,365.6 L189.9,365.4 L190.3,365.4 L190.7,365.6 L191.1,365.6 L191.5,365.5 L192.0,365.6 L192.4,365.5 L192.8,365.5 L193.2,365.6 L193.6,365.6 L194.0,365.5 L194.4,365.6 L194.9,365.6 L195.3,365.2 L195.7,365.5 L196.1,365.5 L196.5,365.6 L196.9,365.5 L197.3,365.6 L197.8,365.6 L198.2,365.4 L198.6,365.6 L199.0,365.6 L199.4,365.5 L199.8,365.5 L200.2,365.5 L200.7,365.4 L201.1,365.5 L201.5,365.6 L201.9,365.6 L202.3,365.6 L202.7,365.6 L203.1,365.5 L203.6,365.5 L204.0,365.6 L204.4,365.6 L204.8,365.6 L205.2,365.5 L205.6,365.5 L206.0,365.5 L206.5,365.5 L206.9,365.6 L207.3,365.5 L207.7,365.5 L208.1,365.6 L208.5,365.4 L208.9,365.5 L209.4,365.6 L209.8,365.6 L210.2,365.5 L210.6,365.6 L211.0,365.6 L211.4,365.6 L211.8,365.4 L212.3,365.6 L212.7,365.5 L213.1,365.5 L213.5,365.5 L213.9,365.6 L214.3,365.6 L214.7,365.4 L215.2,365.4 L215.6,365.6 L216.0,365.4 L216.4,365.5 L216.8,365.5 L217.2,365.5 L217.6,365.5 L218.1,365.4 L218.5,365.5 L218.9,365.5 L219.3,365.5 L219.7,365.6 L220.1,365.6 L220.5,365.6 L221.0,365.6 L221.4,365.4 L221.8,365.5 L222.2,365.6 L222.6,365.6 L223.0,365.5 L223.4,365.6 L223.9,365.6 L224.3,365.4 L224.7,365.5 L225.1,365.3 L225.5,365.6 L225.9,365.5 L226.3,365.6 L226.8,365.5 L227.2,365.5 L227.6,365.4 L228.0,365.5 L228.4,365.6 L228.8,365.6 L229.2,365.6 L229.7,365.4 L230.1,365.5 L230.5,365.4 L230.9,365.4 L231.3,365.6 L231.7,365.5 L232.1,365.4 L232.6,365.5 L233.0,365.6 L233.4,365.5 L233.8,365.6 L234.2,365.6 L234.6,365.4 L235.0,365.6 L235.5,365.6 L235.9,365.6 L236.3,365.6 L236.7,365.4 L237.1,365.6 L237.5,365.5 L237.9,365.5 L238.4,365.5 L238.8,365.5 L239.2,365.5 L239.6,365.6 L240.0,365.4 L240.4,365.3 L240.8,365.6 L241.3,365.6 L241.7,365.6 L242.1,365.6 L242.5,365.5 L242.9,365.6 L243.3,365.5 L243.7,365.5 L244.2,365.6" fill="none" stroke="#2b4892" stroke-width="1.00" stroke-linejoin="round"/>
<path d="M45.3,365.6 L45.7,365.5 L46.1,365.5 L46.5,365.5 L47.0,365.5 L47.4,365.5 L47.8,365.5 L48.2,365.5 L48.6,365.5 L49.0,365.5 L49.4,365.5 L49.9,365.5 L50.3,365.5 L50.7,365.5 L51.1,365.5 L51.5,365.5 L51.9,365.5 L52.3,365.5 L52.8,365.5 L53.2,365.5 L53.6,365.5 L54.0,365.5 L54.4,365.5 L54.8,365.5 L55.2,365.5 L55.7,365.5 L56.1,365.5 L56.5,365.5 L56.9,365.5 L57.3,365.5 L57.7,365.5 L58.1,365.5 L58.6,365.5 L59.0,365.5 L59.4,365.5 L59.8,365.5 L60.2,365.5 L60.6,365.5 L61.0,365.5 L61.5,365.5 L61.9,365.5 L62.3,365.5 L62.7,365.5 L63.1,365.5 L63.5,365.5 L63.9,365.5 L64.4,365.5 L64.8,365.5 L65.2,365.5 L65.6,365.5 L66.0,365.5 L66.4,365.5 L66.8,365.5 L67.3,365.5 L67.7,365.5 L68.1,365.5 L68.5,365.5 L68.9,365.5 L69.3,365.5 L69.7,365.5 L70.2,365.5 L70.6,365.5 L71.0,365.5 L71.4,365.5 L71.8,365.5 L72.2,365.5 L72.6,365.5 L73.1,365.5 L73.5,365.5 L73.9,365.5 L74.3,365.5 L74.7,365.5 L75.1,365.5 L75.5,365.5 L76.0,365.5 L76.4,365.5 L76.8,365.5 L77.2,365.5 L77.6,365.5 L78.0,365.5 L78.4,365.5 L78.9,365.5 L79.3,365.5 L79.7,365.5 L80.1,365.5 L80.5,365.5 L80.9,365.5 L81.3,365.5 L81.8,365.5 L82.2,365.4 L82.6,365.4 L83.0,365.4 L83.4,365.4 L83.8,365.4 L84.2,365.4 L84.7,365.4 L85.1,365.4 L85.5,365.4 L85.9,365.4 L86.3,365.4 L86.7,365.4 L87.1,365.4 L87.6,365.4 L88.0,365.4 L88.4,365.4 L88.8,365.4 L89.2,365.4 L89.6,365.4 L90.0,365.4 L90.5,365.4 L90.9,365.4 L91.3,365.4 L91.7,365.4 L92.1,365.4 L92.5,365.4 L92.9,365.4 L93.4,365.4 L93.8,365.4 L94.2,365.4 L94.6,365.4 L95.0,365.3 L95.4,365.3 L95.8,365.3 L96.3,365.3 L96.7,365.3 L97.1,365.3 L97.5,365.3 L97.9,365.2 L98.3,365.2 L98.7,365.2 L99.2,365.2 L99.6,365.1 L100.0,365.0 L100.4,365.0 L100.8,364.9 L101.2,364.9 L101.6,364.9 L102.1,364.9 L102.5,364.8 L102.9,364.7 L103.3,364.7 L103.7,364.6 L104.1,364.6 L104.5,364.5 L105.0,364.4 L105.4,364.3 L105.8,364.3 L106.2,364.3 L106.6,364.2 L107.0,364.2 L107.4,364.1 L107.9,364.0 L108.3,363.8 L108.7,363.8 L109.1,363.8 L109.5,363.8 L109.9,363.7 L110.3,363.7 L110.8,363.6 L111.2,363.5 L111.6,363.5 L112.0,363.5 L112.4,363.5 L112.8,363.4 L113.2,363.2 L113.7,363.3 L114.1,363.1 L114.5,363.2 L114.9,363.2 L115.3,363.2 L115.7,363.2 L116.1,363.1 L116.6,363.0 L117.0,362.8 L117.4,362.8 L117.8,362.8 L118.2,362.7 L118.6,362.6 L119.0,362.6 L119.5,362.6 L119.9,362.6 L120.3,362.6 L120.7,362.5 L121.1,362.5 L121.5,362.3 L121.9,362.4 L122.4,362.3 L122.8,362.0 L123.2,361.9 L123.6,361.7 L124.0,362.0 L124.4,362.1 L124.8,362.2 L125.3,362.0 L125.7,361.9 L126.1,361.6 L126.5,361.5 L126.9,361.5 L127.3,361.6 L127.7,361.7 L128.2,361.6 L128.6,361.6 L129.0,361.5 L129.4,361.7 L129.8,361.2 L130.2,361.3 L130.6,361.4 L131.1,361.5 L131.5,361.2 L131.9,361.0 L132.3,361.0 L132.7,361.2 L133.1,361.1 L133.5,361.0 L134.0,360.7 L134.4,360.7 L134.8,360.7 L135.2,360.6 L135.6,360.3 L136.0,360.1 L136.4,360.2 L136.9,360.3 L137.3,360.5 L137.7,360.3 L138.1,360.2 L138.5,359.8 L138.9,359.7 L139.3,359.6 L139.8,359.9 L140.2,359.8 L140.6,359.9 L141.0,359.7 L141.4,359.6 L141.8,359.4 L142.2,359.3 L142.7,359.0 L143.1,358.9 L143.5,358.9 L143.9,359.0 L144.3,358.9 L144.7,358.8 L145.1,358.6 L145.6,358.6 L146.0,358.7 L146.4,358.7 L146.8,358.6 L147.2,358.6 L147.6,358.6 L148.0,358.5 L148.5,358.3 L148.9,358.1 L149.3,358.1 L149.7,358.0 L150.1,358.4 L150.5,358.3 L150.9,358.3 L151.4,357.9 L151.8,358.1 L152.2,358.1 L152.6,358.3 L153.0,358.2 L153.4,358.3 L153.8,358.1 L154.3,357.9 L154.7,357.9 L155.1,358.2 L155.5,358.5 L155.9,358.8 L156.3,358.9 L156.7,358.7 L157.2,358.7 L157.6,358.7 L158.0,358.9 L158.4,358.8 L158.8,358.8 L159.2,358.8 L159.6,358.8 L160.1,358.6 L160.5,358.4 L160.9,358.4 L161.3,358.6 L161.7,358.7 L162.1,358.6 L162.5,358.7 L163.0,358.8 L163.4,358.8 L163.8,358.8 L164.2,358.8 L164.6,358.8 L165.0,358.8 L165.4,358.8 L165.9,358.7 L166.3,358.6 L166.7,358.6 L167.1,358.7 L167.5,358.6 L167.9,358.6 L168.3,358.9 L168.8,359.2 L169.2,359.2 L169.6,358.9 L170.0,358.7 L170.4,358.6 L170.8,358.7 L171.2,358.7 L171.7,358.9 L172.1,358.8 L172.5,359.0 L172.9,358.8 L173.3,358.9 L173.7,358.7 L174.1,358.9 L174.6,359.0 L175.0,359.1 L175.4,359.1 L175.8,358.9 L176.2,358.9 L176.6,358.9 L177.0,358.9 L177.5,359.1 L177.9,359.2 L178.3,359.3 L178.7,359.1 L179.1,359.1 L179.5,359.0 L179.9,359.0 L180.4,358.9 L180.8,358.9 L181.2,358.7 L181.6,358.8 L182.0,358.8 L182.4,358.7 L182.8,358.8 L183.3,359.1 L183.7,359.2 L184.1,359.1 L184.5,359.1 L184.9,359.0 L185.3,359.2 L185.7,358.8 L186.2,358.8 L186.6,358.8 L187.0,358.9 L187.4,359.1 L187.8,358.9 L188.2,358.8 L188.6,358.7 L189.1,359.0 L189.5,359.0 L189.9,359.0 L190.3,359.0 L190.7,359.0 L191.1,358.9 L191.5,358.8 L192.0,358.8 L192.4,358.9 L192.8,358.9 L193.2,358.9 L193.6,359.0 L194.0,359.4 L194.4,359.6 L194.9,359.5 L195.3,359.6 L195.7,359.8 L196.1,359.9 L196.5,360.0 L196.9,360.1 L197.3,360.0 L197.8,359.9 L198.2,360.2 L198.6,360.5 L199.0,360.8 L199.4,360.9 L199.8,361.0 L200.2,361.0 L200.7,361.0 L201.1,361.1 L201.5,361.2 L201.9,361.4 L202.3,361.4 L202.7,361.5 L203.1,361.6 L203.6,361.7 L204.0,361.8 L204.4,361.7 L204.8,361.7 L205.2,361.6 L205.6,361.6 L206.0,361.7 L206.5,361.9 L206.9,362.0 L207.3,362.0 L207.7,362.0 L208.1,362.0 L208.5,361.9 L208.9,362.0 L209.4,362.0 L209.8,362.2 L210.2,362.4 L210.6,362.6 L211.0,362.6 L211.4,362.7 L211.8,362.7 L212.3,362.7 L212.7,362.3 L213.1,362.3 L213.5,362.3 L213.9,362.4 L214.3,362.6 L214.7,362.6 L215.2,362.8 L215.6,362.6 L216.0,362.8 L216.4,362.6 L216.8,362.8 L217.2,362.8 L217.6,363.0 L218.1,363.0 L218.5,363.0 L218.9,363.0 L219.3,363.2 L219.7,363.2 L220.1,363.3 L220.5,363.0 L221.0,362.9 L221.4,362.9 L221.8,362.6 L222.2,362.8 L222.6,362.8 L223.0,363.0 L223.4,362.9 L223.9,362.9 L224.3,363.1 L224.7,363.0 L225.1,362.8 L225.5,362.9 L225.9,363.1 L226.3,363.3 L226.8,363.3 L227.2,363.2 L227.6,363.1 L228.0,363.2 L228.4,363.0 L228.8,363.1 L229.2,363.2 L229.7,363.6 L230.1,363.6 L230.5,363.7 L230.9,363.6 L231.3,363.6 L231.7,363.5 L232.1,363.4 L232.6,363.7 L233.0,363.7 L233.4,363.7 L233.8,363.4 L234.2,363.4 L234.6,363.5 L235.0,363.4 L235.5,363.5 L235.9,363.5 L236.3,363.5 L236.7,363.3 L237.1,363.2 L237.5,363.4 L237.9,363.6 L238.4,363.7 L238.8,363.6 L239.2,363.4 L239.6,363.2 L240.0,363.4 L240.4,363.5 L240.8,363.6 L241.3,363.6 L241.7,363.6 L242.1,363.5 L242.5,363.5 L242.9,363.5 L243.3,363.6 L243.7,364.0 L244.2,363.9" fill="none" stroke="#424868" stroke-width="1.10" stroke-linejoin="round"/>
<path d="M45.3,365.6 L45.7,365.5 L46.1,365.5 L46.5,365.5 L47.0,365.5 L47.4,365.5 L47.8,365.5 L48.2,365.5 L48.6,365.5 L49.0,365.5 L49.4,365.5 L49.9,365.5 L50.3,365.5 L50.7,365.5 L51.1,365.5 L51.5,365.5 L51.9,365.5 L52.3,365.5 L52.8,365.5 L53.2,365.5 L53.6,365.5 L54.0,365.5 L54.4,365.5 L54.8,365.5 L55.2,365.5 L55.7,365.5 L56.1,365.5 L56.5,365.5 L56.9,365.5 L57.3,365.5 L57.7,365.5 L58.1,365.5 L58.6,365.5 L59.0,365.5 L59.4,365.5 L59.8,365.5 L60.2,365.5 L60.6,365.5 L61.0,365.5 L61.5,365.5 L61.9,365.5 L62.3,365.5 L62.7,365.5 L63.1,365.5 L63.5,365.5 L63.9,365.5 L64.4,365.5 L64.8,365.5 L65.2,365.5 L65.6,365.5 L66.0,365.5 L66.4,365.5 L66.8,365.5 L67.3,365.5 L67.7,365.5 L68.1,365.5 L68.5,365.5 L68.9,365.5 L69.3,365.5 L69.7,365.5 L70.2,365.5 L70.6,365.5 L71.0,365.5 L71.4,365.5 L71.8,365.4 L72.2,365.4 L72.6,365.4 L73.1,365.4 L73.5,365.4 L73.9,365.4 L74.3,365.4 L74.7,365.4 L75.1,365.4 L75.5,365.4 L76.0,365.4 L76.4,365.4 L76.8,365.4 L77.2,365.4 L77.6,365.4 L78.0,365.4 L78.4,365.4 L78.9,365.4 L79.3,365.4 L79.7,365.2 L80.1,364.8 L80.5,364.1 L80.9,363.4 L81.3,362.5 L81.8,361.6 L82.2,360.8 L82.6,359.9 L83.0,359.0 L83.4,358.1 L83.8,357.0 L84.2,356.0 L84.7,354.9 L85.1,353.7 L85.5,352.6 L85.9,351.5 L86.3,350.4 L86.7,349.3 L87.1,348.2 L87.6,347.1 L88.0,345.9 L88.4,344.7 L88.8,343.4 L89.2,342.0 L89.6,340.4 L90.0,338.5 L90.5,336.4 L90.9,334.3 L91.3,332.3 L91.7,330.1 L92.1,327.7 L92.5,325.3 L92.9,323.6 L93.4,322.9 L93.8,323.1 L94.2,323.6 L94.6,324.3 L95.0,325.2 L95.4,326.1 L95.8,327.7 L96.3,329.7 L96.7,331.9 L97.1,334.4 L97.5,337.2 L97.9,340.0 L98.3,342.2 L98.7,344.4 L99.2,346.4 L99.6,348.2 L100.0,349.8 L100.4,350.9 L100.8,351.6 L101.2,352.2 L101.6,352.6 L102.1,353.0 L102.5,353.4 L102.9,353.8 L103.3,354.2 L103.7,354.7 L104.1,355.3 L104.5,355.9 L105.0,356.6 L105.4,357.5 L105.8,358.4 L106.2,359.0 L106.6,359.5 L107.0,360.1 L107.4,360.8 L107.9,360.4 L108.3,359.6 L108.7,359.3 L109.1,359.0 L109.5,358.7 L109.9,358.4 L110.3,360.3 L110.8,362.2 L111.2,360.5 L111.6,358.7 L112.0,360.5 L112.4,362.4 L112.8,362.0 L113.2,361.5 L113.7,361.5 L114.1,361.5 L114.5,361.0 L114.9,360.5 L115.3,360.7 L115.7,360.9 L116.1,360.8 L116.6,360.8 L117.0,360.8 L117.4,360.8 L117.8,358.1 L118.2,355.4 L118.6,358.8 L119.0,362.3 L119.5,362.4 L119.9,362.5 L120.3,360.8 L120.7,359.1 L121.1,360.6 L121.5,362.0 L121.9,361.0 L122.4,360.0 L122.8,359.2 L123.2,358.4 L123.6,360.7 L124.0,363.0 L124.4,361.2 L124.8,359.4 L125.3,361.3 L125.7,363.2 L126.1,362.1 L126.5,361.1 L126.9,361.3 L127.3,361.5 L127.7,360.7 L128.2,360.0 L128.6,359.7 L129.0,359.5 L129.4,361.3 L129.8,363.2 L130.2,363.2 L130.6,363.1 L131.1,361.9 L131.5,360.6 L131.9,360.3 L132.3,360.0 L132.7,361.4 L133.1,362.9 L133.5,360.6 L134.0,358.3 L134.4,360.6 L134.8,362.9 L135.2,362.2 L135.6,361.5 L136.0,359.9 L136.4,358.3 L136.9,358.7 L137.3,359.2 L137.7,359.7 L138.1,360.2 L138.5,360.9 L138.9,361.5 L139.3,360.1 L139.8,358.8 L140.2,359.4 L140.6,360.0 L141.0,361.7 L141.4,363.5 L141.8,361.9 L142.2,360.4 L142.7,360.7 L143.1,360.9 L143.5,361.2 L143.9,361.5 L144.3,361.6 L144.7,361.8 L145.1,362.0 L145.6,362.2 L146.0,362.4 L146.4,362.6 L146.8,361.2 L147.2,359.9 L147.6,360.0 L148.0,360.2 L148.5,361.7 L148.9,363.2 L149.3,361.6 L149.7,360.0 L150.1,359.9 L150.5,359.9 L150.9,360.0 L151.4,360.2 L151.8,361.6 L152.2,363.0 L152.6,362.8 L153.0,362.5 L153.4,362.7 L153.8,362.8 L154.3,361.0 L154.7,359.2 L155.1,359.2 L155.5,359.1 L155.9,360.1 L156.3,361.0 L156.7,362.3 L157.2,363.5 L157.6,363.5 L158.0,363.5 L158.4,363.0 L158.8,362.5 L159.2,363.1 L159.6,363.6 L160.1,362.7 L160.5,361.8 L160.9,362.4 L161.3,363.1 L161.7,363.4 L162.1,363.7 L162.5,363.6 L163.0,363.5 L163.4,363.2 L163.8,362.9 L164.2,361.9 L164.6,361.0 L165.0,362.0 L165.4,363.0 L165.9,362.4 L166.3,361.9 L166.7,362.4 L167.1,362.9 L167.5,363.4 L167.9,364.0 L168.3,364.0 L168.8,364.0 L169.2,363.7 L169.6,363.3 L170.0,363.4 L170.4,363.5 L170.8,363.8 L171.2,364.1 L171.7,362.3 L172.1,360.5 L172.5,361.3 L172.9,362.2 L173.3,362.8 L173.7,363.4 L174.1,361.9 L174.6,360.3 L175.0,361.7 L175.4,363.1 L175.8,363.4 L176.2,363.8 L176.6,363.4 L177.0,363.1 L177.5,362.2 L177.9,361.3 L178.3,362.4 L178.7,363.4 L179.1,363.5 L179.5,363.6 L179.9,361.8 L180.4,360.0 L180.8,361.1 L181.2,362.2 L181.6,361.6 L182.0,361.0 L182.4,360.5 L182.8,360.0 L183.3,361.8 L183.7,363.6 L184.1,363.0 L184.5,362.3 L184.9,363.3 L185.3,364.3 L185.7,362.0 L186.2,359.6 L186.6,360.2 L187.0,360.7 L187.4,361.2 L187.8,361.7 L188.2,362.9 L188.6,364.1 L189.1,361.9 L189.5,359.7 L189.9,362.2 L190.3,364.7 L190.7,363.9 L191.1,363.1 L191.5,361.5 L192.0,359.9 L192.4,361.8 L192.8,363.6 L193.2,362.4 L193.6,361.1 L194.0,360.4 L194.4,359.8 L194.9,360.7 L195.3,361.6 L195.7,362.7 L196.1,363.8 L196.5,361.9 L196.9,359.9 L197.3,361.6 L197.8,363.4 L198.2,361.7 L198.6,360.1 L199.0,362.3 L199.4,364.6 L199.8,362.4 L200.2,360.2 L200.7,360.8 L201.1,361.4 L201.5,363.1 L201.9,364.9 L202.3,363.4 L202.7,362.0 L203.1,363.1 L203.6,364.3 L204.0,363.6 L204.4,362.9 L204.8,362.9 L205.2,362.9 L205.6,363.8 L206.0,364.8 L206.5,363.0 L206.9,361.2 L207.3,360.7 L207.7,360.3 L208.1,361.4 L208.5,362.6 L208.9,363.1 L209.4,363.6 L209.8,362.9 L210.2,362.2 L210.6,362.9 L211.0,363.6 L211.4,363.1 L211.8,362.6 L212.3,363.0 L212.7,363.5 L213.1,364.1 L213.5,364.7 L213.9,362.9 L214.3,361.2 L214.7,362.5 L215.2,363.9 L215.6,364.4 L216.0,364.9 L216.4,365.0 L216.8,365.1 L217.2,364.3 L217.6,363.5 L218.1,364.2 L218.5,364.9 L218.9,363.5 L219.3,362.2 L219.7,363.6 L220.1,365.1 L220.5,365.2 L221.0,365.2 L221.4,365.1 L221.8,365.0 L222.2,363.4 L222.6,361.7 L223.0,362.0 L223.4,362.3 L223.9,361.9 L224.3,361.4 L224.7,361.6 L225.1,361.8 L225.5,363.2 L225.9,364.6 L226.3,364.0 L226.8,363.4 L227.2,363.3 L227.6,363.3 L228.0,363.8 L228.4,364.4 L228.8,364.2 L229.2,364.1 L229.7,364.3 L230.1,364.5 L230.5,364.8 L230.9,365.2 L231.3,363.7 L231.7,362.2 L232.1,362.3 L232.6,362.4 L233.0,363.9 L233.4,365.4 L233.8,365.1 L234.2,364.7 L234.6,364.7 L235.0,364.6 L235.5,363.4 L235.9,362.2 L236.3,362.9 L236.7,363.6 L237.1,363.7 L237.5,363.8 L237.9,364.3 L238.4,364.7 L238.8,364.0 L239.2,363.2 L239.6,362.5 L240.0,361.8 L240.4,361.5 L240.8,361.2 L241.3,363.3 L241.7,365.5 L242.1,364.6 L242.5,363.7 L242.9,364.6 L243.3,365.5 L243.7,363.8 L244.2,362.1" fill="none" stroke="#1c5a3c" stroke-width="1.90" stroke-linejoin="round" stroke-dasharray="3.4 2.0"/>
<path d="M45.3,365.6 L45.7,365.5 L46.1,365.5 L46.5,365.5 L47.0,365.5 L47.4,365.5 L47.8,365.5 L48.2,365.5 L48.6,365.5 L49.0,365.5 L49.4,365.5 L49.9,365.5 L50.3,365.5 L50.7,365.5 L51.1,365.5 L51.5,365.5 L51.9,365.5 L52.3,365.5 L52.8,365.5 L53.2,365.5 L53.6,365.5 L54.0,365.5 L54.4,365.5 L54.8,365.5 L55.2,365.5 L55.7,365.5 L56.1,365.5 L56.5,365.5 L56.9,365.5 L57.3,365.5 L57.7,365.5 L58.1,365.5 L58.6,365.5 L59.0,365.5 L59.4,365.5 L59.8,365.5 L60.2,365.5 L60.6,365.5 L61.0,365.5 L61.5,365.5 L61.9,365.5 L62.3,365.5 L62.7,365.5 L63.1,365.5 L63.5,365.5 L63.9,365.4 L64.4,365.4 L64.8,365.4 L65.2,365.4 L65.6,365.4 L66.0,365.4 L66.4,365.4 L66.8,365.3 L67.3,365.2 L67.7,365.1 L68.1,365.0 L68.5,364.8 L68.9,364.7 L69.3,364.5 L69.7,364.2 L70.2,363.9 L70.6,363.5 L71.0,363.1 L71.4,362.6 L71.8,362.1 L72.2,361.6 L72.6,361.0 L73.1,360.4 L73.5,359.8 L73.9,359.0 L74.3,358.2 L74.7,357.3 L75.1,356.4 L75.5,355.3 L76.0,354.0 L76.4,352.5 L76.8,350.7 L77.2,348.8 L77.6,346.8 L78.0,344.6 L78.4,342.2 L78.9,339.4 L79.3,336.1 L79.7,332.1 L80.1,327.6 L80.5,323.1 L80.9,319.0 L81.3,314.4 L81.8,309.7 L82.2,306.0 L82.6,304.2 L83.0,305.2 L83.4,308.9 L83.8,313.9 L84.2,318.9 L84.7,323.2 L85.1,327.6 L85.5,331.5 L85.9,334.4 L86.3,336.9 L86.7,339.8 L87.1,343.5 L87.6,346.3 L88.0,348.0 L88.4,349.3 L88.8,350.5 L89.2,351.6 L89.6,352.7 L90.0,353.7 L90.5,354.6 L90.9,355.3 L91.3,355.9 L91.7,356.3 L92.1,356.6 L92.5,356.9 L92.9,357.2 L93.4,357.4 L93.8,357.6 L94.2,357.8 L94.6,358.0 L95.0,358.2 L95.4,358.3 L95.8,358.5 L96.3,358.7 L96.7,358.8 L97.1,359.0 L97.5,359.1 L97.9,359.3 L98.3,359.4 L98.7,359.5 L99.2,359.6 L99.6,359.7 L100.0,359.8 L100.4,359.9 L100.8,359.9 L101.2,359.9 L101.6,360.0 L102.1,359.9 L102.5,359.6 L102.9,360.2 L103.3,361.5 L103.7,361.2 L104.1,360.5 L104.5,360.9 L105.0,361.4 L105.4,360.4 L105.8,359.3 L106.2,360.3 L106.6,361.4 L107.0,362.6 L107.4,363.8 L107.9,360.6 L108.3,357.4 L108.7,356.0 L109.1,354.6 L109.5,356.0 L109.9,357.4 L110.3,359.2 L110.8,361.0 L111.2,360.3 L111.6,359.6 L112.0,360.0 L112.4,360.3 L112.8,360.0 L113.2,359.7 L113.7,361.0 L114.1,362.4 L114.5,362.2 L114.9,362.1 L115.3,363.2 L115.7,364.3 L116.1,363.2 L116.6,362.1 L117.0,362.4 L117.4,362.6 L117.8,361.4 L118.2,360.1 L118.6,360.1 L119.0,360.1 L119.5,360.5 L119.9,360.8 L120.3,361.6 L120.7,362.3 L121.1,363.2 L121.5,364.2 L121.9,360.5 L122.4,356.9 L122.8,359.4 L123.2,362.0 L123.6,361.4 L124.0,360.8 L124.4,358.9 L124.8,356.9 L125.3,359.1 L125.7,361.3 L126.1,361.8 L126.5,362.3 L126.9,361.5 L127.3,360.7 L127.7,360.5 L128.2,360.2 L128.6,359.1 L129.0,358.0 L129.4,361.2 L129.8,364.4 L130.2,362.8 L130.6,361.2 L131.1,359.9 L131.5,358.7 L131.9,358.9 L132.3,359.2 L132.7,359.7 L133.1,360.3 L133.5,362.6 L134.0,364.8 L134.4,363.6 L134.8,362.3 L135.2,361.4 L135.6,360.6 L136.0,361.6 L136.4,362.7 L136.9,361.9 L137.3,361.1 L137.7,359.6 L138.1,358.1 L138.5,361.1 L138.9,364.2 L139.3,364.7 L139.8,365.2 L140.2,364.1 L140.6,363.0 L141.0,363.9 L141.4,364.9 L141.8,364.7 L142.2,364.4 L142.7,361.8 L143.1,359.2 L143.5,361.2 L143.9,363.2 L144.3,363.8 L144.7,364.4 L145.1,362.5 L145.6,360.6 L146.0,363.0 L146.4,365.4 L146.8,363.2 L147.2,360.9 L147.6,362.0 L148.0,363.0 L148.5,362.6 L148.9,362.2 L149.3,363.8 L149.7,365.5 L150.1,365.4 L150.5,365.3 L150.9,363.6 L151.4,362.0 L151.8,364.2 L152.2,365.6 L152.6,365.6 L153.0,365.0 L153.4,363.9 L153.8,362.9 L154.3,364.0 L154.7,365.2 L155.1,364.6 L155.5,364.1 L155.9,362.1 L156.3,360.1 L156.7,360.1 L157.2,360.1 L157.6,359.7 L158.0,359.2 L158.4,361.1 L158.8,363.0 L159.2,364.9 L159.6,365.6 L160.1,363.3 L160.5,359.9 L160.9,361.3 L161.3,362.8 L161.7,362.0 L162.1,361.3 L162.5,362.1 L163.0,362.9 L163.4,361.8 L163.8,360.7 L164.2,361.8 L164.6,362.8 L165.0,360.8 L165.4,358.9 L165.9,362.4 L166.3,365.6 L166.7,364.9 L167.1,364.0 L167.5,363.0 L167.9,362.1 L168.3,364.2 L168.8,365.6 L169.2,363.2 L169.6,360.1 L170.0,363.0 L170.4,365.6 L170.8,362.8 L171.2,359.8 L171.7,360.6 L172.1,361.4 L172.5,363.9 L172.9,365.6 L173.3,364.0 L173.7,361.6 L174.1,362.4 L174.6,363.2 L175.0,363.1 L175.4,363.0 L175.8,364.4 L176.2,365.6 L176.6,364.9 L177.0,364.1 L177.5,364.6 L177.9,365.1 L178.3,365.6 L178.7,365.6 L179.1,365.6 L179.5,365.6 L179.9,365.5 L180.4,364.1 L180.8,363.1 L181.2,362.1 L181.6,362.8 L182.0,363.4 L182.4,364.0 L182.8,364.6 L183.3,365.3 L183.7,365.6 L184.1,363.8 L184.5,361.6 L184.9,362.4 L185.3,363.2 L185.7,362.6 L186.2,362.0 L186.6,361.8 L187.0,361.6 L187.4,362.4 L187.8,363.2 L188.2,362.7 L188.6,362.1 L189.1,362.7 L189.5,363.2 L189.9,365.1 L190.3,365.6 L190.7,364.7 L191.1,362.4 L191.5,364.2 L192.0,365.6 L192.4,365.2 L192.8,364.3 L193.2,364.1 L193.6,363.9 L194.0,364.0 L194.4,364.1 L194.9,363.0 L195.3,361.9 L195.7,364.0 L196.1,365.6 L196.5,365.6 L196.9,365.6 L197.3,364.5 L197.8,361.9 L198.2,362.3 L198.6,362.6 L199.0,363.5 L199.4,364.4 L199.8,364.5 L200.2,364.6 L200.7,365.6 L201.1,365.6 L201.5,365.6 L201.9,365.1 L202.3,365.6 L202.7,365.6 L203.1,364.8 L203.6,362.9 L204.0,364.8 L204.4,365.6 L204.8,365.6 L205.2,365.6 L205.6,364.9 L206.0,363.8 L206.5,363.7 L206.9,363.7 L207.3,363.5 L207.7,363.3 L208.1,362.8 L208.5,362.4 L208.9,363.8 L209.4,365.2 L209.8,365.6 L210.2,365.6 L210.6,364.6 L211.0,362.4 L211.4,362.5 L211.8,362.6 L212.3,363.8 L212.7,364.9 L213.1,363.5 L213.5,362.1 L213.9,363.6 L214.3,365.0 L214.7,365.4 L215.2,365.6 L215.6,364.1 L216.0,362.4 L216.4,362.7 L216.8,362.9 L217.2,363.6 L217.6,364.3 L218.1,363.9 L218.5,363.5 L218.9,364.8 L219.3,365.6 L219.7,364.1 L220.1,362.1 L220.5,361.9 L221.0,361.7 L221.4,363.6 L221.8,365.5 L222.2,362.6 L222.6,359.8 L223.0,362.7 L223.4,365.6 L223.9,365.6 L224.3,365.6 L224.7,365.6 L225.1,365.6 L225.5,365.6 L225.9,365.6 L226.3,365.6 L226.8,365.6 L227.2,365.6 L227.6,365.6 L228.0,364.0 L228.4,362.1 L228.8,363.4 L229.2,364.8 L229.7,365.6 L230.1,365.6 L230.5,364.7 L230.9,362.8 L231.3,363.9 L231.7,365.1 L232.1,365.6 L232.6,365.6 L233.0,364.9 L233.4,362.5 L233.8,364.2 L234.2,365.6 L234.6,364.6 L235.0,363.4 L235.5,364.4 L235.9,365.4 L236.3,364.2 L236.7,362.9 L237.1,362.8 L237.5,362.7 L237.9,363.6 L238.4,364.4 L238.8,364.4 L239.2,364.3 L239.6,365.6 L240.0,365.6 L240.4,365.6 L240.8,365.4 L241.3,365.2 L241.7,365.1 L242.1,364.9 L242.5,364.6 L242.9,363.6 L243.3,362.5 L243.7,364.2 L244.2,365.6" fill="none" stroke="#b5112e" stroke-width="1.65" stroke-linejoin="round"/>
<text x="38.5" y="369.3" font-size="9.80" text-anchor="end" textLength="4.8" lengthAdjust="spacingAndGlyphs" class="tk">0</text>
<text x="38.5" y="342.8" font-size="9.80" text-anchor="end" textLength="9.7" lengthAdjust="spacingAndGlyphs" class="tk">40</text>
<text x="38.5" y="316.4" font-size="9.80" text-anchor="end" textLength="9.7" lengthAdjust="spacingAndGlyphs" class="tk">80</text>
<text x="38.5" y="290.0" font-size="9.80" text-anchor="end" textLength="14.5" lengthAdjust="spacingAndGlyphs" class="tk">120</text>
<text x="38.5" y="263.6" font-size="9.80" text-anchor="end" textLength="14.5" lengthAdjust="spacingAndGlyphs" class="tk">160</text>
<text x="38.5" y="237.2" font-size="9.80" text-anchor="end" textLength="14.5" lengthAdjust="spacingAndGlyphs" class="tk">200</text>
<text x="45.0" y="379.9" font-size="9.80" text-anchor="middle" textLength="4.8" lengthAdjust="spacingAndGlyphs" class="tk">0</text>
<text x="94.7" y="379.9" font-size="9.80" text-anchor="middle" textLength="9.7" lengthAdjust="spacingAndGlyphs" class="tk">30</text>
<text x="144.4" y="379.9" font-size="9.80" text-anchor="middle" textLength="9.7" lengthAdjust="spacingAndGlyphs" class="tk">60</text>
<text x="194.1" y="379.9" font-size="9.80" text-anchor="middle" textLength="9.7" lengthAdjust="spacingAndGlyphs" class="tk">90</text>
<text x="243.9" y="379.9" font-size="9.80" text-anchor="middle" textLength="14.5" lengthAdjust="spacingAndGlyphs" class="tk">120</text>
<text x="146.5" y="394.5" font-size="10.20" text-anchor="middle" textLength="40.2" lengthAdjust="spacingAndGlyphs" class="ti">Time (min)</text>
<text transform="translate(16.3,296.9) rotate(-90)" font-size="9.6" text-anchor="middle" textLength="45.5" style="stroke-width:0.15px" lengthAdjust="spacingAndGlyphs">IIa (ΔRFU/s)</text>
<text x="7.70" y="221.10" font-size="13.1" font-weight="bold" style="fill:#000;stroke:#000;stroke-width:0.4px">C</text>
<path d="M95.0,234.1 h17.7" fill="none" stroke="#b5112e" stroke-width="1.70"/>
<text x="115.7" y="237.0" font-size="8.40" textLength="61.0" lengthAdjust="spacingAndGlyphs">RBC- MVs+ NPP</text>
<path d="M95.0,251.0 h17.7" fill="none" stroke="#1c5a3c" stroke-width="1.70" stroke-dasharray="4.9 1.5"/>
<text x="115.7" y="253.9" font-size="8.40" textLength="71.2" lengthAdjust="spacingAndGlyphs">RBC- MVs+ Def-XII</text>
<path d="M95.0,268.0 h17.7" fill="none" stroke="#424868" stroke-width="1.70"/>
<text x="115.7" y="270.9" font-size="8.40" textLength="93.3" lengthAdjust="spacingAndGlyphs">RBC- MVs+ Def-XII+SBTI</text>
<path d="M95.0,284.9 h17.7" fill="none" stroke="#2b4892" stroke-width="1.70"/>
<text x="115.7" y="287.8" font-size="8.40" textLength="57.8" lengthAdjust="spacingAndGlyphs">Buffer +Def-XII</text>
<path d="M305.8,230.0 V365.6 H508.2" fill="none" stroke="#000" stroke-width="1.35"/>
<path d="M305.75,365.55 h-3.5 M305.75,339.12 h-3.5 M305.75,312.69 h-3.5 M305.75,286.26 h-3.5 M305.75,259.83 h-3.5 M305.75,233.40 h-3.5 M305.75,365.55 v3.4 M355.47,365.55 v3.4 M405.18,365.55 v3.4 M454.90,365.55 v3.4 M504.61,365.55 v3.4" fill="none" stroke="#000" stroke-width="1"/>
<path d="M305.8,365.6 L306.2,365.6 L306.6,365.6 L307.0,365.6 L307.4,365.6 L307.8,365.5 L308.2,365.5 L308.7,365.5 L309.1,365.6 L309.5,365.5 L309.9,365.5 L310.3,365.6 L310.7,365.6 L311.1,365.6 L311.6,365.5 L312.0,365.5 L312.4,365.6 L312.8,365.5 L313.2,365.5 L313.6,365.5 L314.0,365.5 L314.5,365.6 L314.9,365.5 L315.3,365.5 L315.7,365.6 L316.1,365.5 L316.5,365.6 L316.9,365.5 L317.4,365.5 L317.8,365.6 L318.2,365.6 L318.6,365.6 L319.0,365.5 L319.4,365.5 L319.8,365.6 L320.3,365.6 L320.7,365.5 L321.1,365.5 L321.5,365.5 L321.9,365.6 L322.3,365.5 L322.7,365.5 L323.2,365.6 L323.6,365.6 L324.0,365.5 L324.4,365.6 L324.8,365.6 L325.2,365.5 L325.6,365.6 L326.1,365.6 L326.5,365.6 L326.9,365.5 L327.3,365.6 L327.7,365.5 L328.1,365.6 L328.5,365.4 L329.0,365.4 L329.4,365.6 L329.8,365.5 L330.2,365.6 L330.6,365.3 L331.0,365.6 L331.4,365.6 L331.9,365.6 L332.3,365.4 L332.7,365.3 L333.1,365.5 L333.5,365.5 L333.9,365.4 L334.3,365.5 L334.8,365.5 L335.2,365.5 L335.6,365.6 L336.0,365.6 L336.4,365.6 L336.8,365.6 L337.2,365.6 L337.7,365.6 L338.1,365.5 L338.5,365.6 L338.9,365.5 L339.3,365.6 L339.7,365.4 L340.1,365.5 L340.6,365.5 L341.0,365.6 L341.4,365.4 L341.8,365.6 L342.2,365.5 L342.6,365.6 L343.0,365.6 L343.5,365.5 L343.9,365.4 L344.3,365.4 L344.7,365.6 L345.1,365.4 L345.5,365.6 L345.9,365.5 L346.4,365.5 L346.8,365.5 L347.2,365.4 L347.6,365.4 L348.0,365.5 L348.4,365.6 L348.8,365.6 L349.3,365.4 L349.7,365.6 L350.1,365.6 L350.5,365.5 L350.9,365.6 L351.3,365.5 L351.7,365.6 L352.2,365.5 L352.6,365.5 L353.0,365.6 L353.4,365.6 L353.8,365.5 L354.2,365.6 L354.6,365.4 L355.1,365.3 L355.5,365.5 L355.9,365.6 L356.3,365.4 L356.7,365.6 L357.1,365.6 L357.5,365.4 L358.0,365.6 L358.4,365.5 L358.8,365.6 L359.2,365.5 L359.6,365.5 L360.0,365.4 L360.4,365.4 L360.9,365.5 L361.3,365.6 L361.7,365.5 L362.1,365.5 L362.5,365.5 L362.9,365.5 L363.3,365.5 L363.8,365.5 L364.2,365.6 L364.6,365.5 L365.0,365.5 L365.4,365.6 L365.8,365.6 L366.2,365.5 L366.7,365.6 L367.1,365.6 L367.5,365.6 L367.9,365.6 L368.3,365.6 L368.7,365.6 L369.1,365.4 L369.6,365.5 L370.0,365.5 L370.4,365.6 L370.8,365.6 L371.2,365.5 L371.6,365.5 L372.0,365.4 L372.5,365.6 L372.9,365.6 L373.3,365.6 L373.7,365.5 L374.1,365.6 L374.5,365.4 L374.9,365.6 L375.4,365.5 L375.8,365.3 L376.2,365.4 L376.6,365.6 L377.0,365.5 L377.4,365.5 L377.8,365.6 L378.3,365.6 L378.7,365.6 L379.1,365.6 L379.5,365.6 L379.9,365.5 L380.3,365.4 L380.7,365.4 L381.2,365.5 L381.6,365.4 L382.0,365.3 L382.4,365.6 L382.8,365.6 L383.2,365.5 L383.6,365.6 L384.1,365.5 L384.5,365.6 L384.9,365.6 L385.3,365.5 L385.7,365.5 L386.1,365.5 L386.5,365.5 L387.0,365.6 L387.4,365.6 L387.8,365.5 L388.2,365.6 L388.6,365.5 L389.0,365.5 L389.4,365.5 L389.9,365.6 L390.3,365.6 L390.7,365.6 L391.1,365.4 L391.5,365.6 L391.9,365.5 L392.3,365.6 L392.8,365.4 L393.2,365.5 L393.6,365.5 L394.0,365.6 L394.4,365.3 L394.8,365.6 L395.2,365.6 L395.7,365.5 L396.1,365.4 L396.5,365.6 L396.9,365.6 L397.3,365.5 L397.7,365.6 L398.1,365.6 L398.6,365.5 L399.0,365.5 L399.4,365.6 L399.8,365.5 L400.2,365.6 L400.6,365.5 L401.0,365.6 L401.5,365.6 L401.9,365.6 L402.3,365.6 L402.7,365.5 L403.1,365.6 L403.5,365.6 L403.9,365.4 L404.4,365.4 L404.8,365.5 L405.2,365.6 L405.6,365.6 L406.0,365.5 L406.4,365.6 L406.8,365.6 L407.3,365.5 L407.7,365.6 L408.1,365.5 L408.5,365.5 L408.9,365.6 L409.3,365.6 L409.7,365.6 L410.2,365.6 L410.6,365.6 L411.0,365.6 L411.4,365.5 L411.8,365.6 L412.2,365.6 L412.6,365.6 L413.1,365.6 L413.5,365.6 L413.9,365.6 L414.3,365.6 L414.7,365.5 L415.1,365.6 L415.5,365.6 L416.0,365.4 L416.4,365.5 L416.8,365.5 L417.2,365.4 L417.6,365.6 L418.0,365.6 L418.4,365.6 L418.9,365.5 L419.3,365.5 L419.7,365.5 L420.1,365.4 L420.5,365.5 L420.9,365.6 L421.3,365.5 L421.8,365.5 L422.2,365.6 L422.6,365.3 L423.0,365.5 L423.4,365.5 L423.8,365.4 L424.2,365.5 L424.7,365.5 L425.1,365.5 L425.5,365.6 L425.9,365.3 L426.3,365.6 L426.7,365.6 L427.1,365.6 L427.6,365.5 L428.0,365.6 L428.4,365.6 L428.8,365.5 L429.2,365.5 L429.6,365.5 L430.0,365.5 L430.5,365.4 L430.9,365.5 L431.3,365.6 L431.7,365.6 L432.1,365.5 L432.5,365.5 L432.9,365.4 L433.4,365.5 L433.8,365.5 L434.2,365.6 L434.6,365.5 L435.0,365.4 L435.4,365.5 L435.8,365.6 L436.3,365.5 L436.7,365.6 L437.1,365.3 L437.5,365.3 L437.9,365.6 L438.3,365.6 L438.7,365.6 L439.2,365.6 L439.6,365.6 L440.0,365.6 L440.4,365.6 L440.8,365.5 L441.2,365.6 L441.6,365.5 L442.1,365.6 L442.5,365.5 L442.9,365.6 L443.3,365.6 L443.7,365.6 L444.1,365.6 L444.5,365.6 L445.0,365.5 L445.4,365.5 L445.8,365.6 L446.2,365.5 L446.6,365.4 L447.0,365.6 L447.4,365.5 L447.9,365.5 L448.3,365.6 L448.7,365.4 L449.1,365.5 L449.5,365.6 L449.9,365.6 L450.3,365.5 L450.8,365.6 L451.2,365.6 L451.6,365.5 L452.0,365.6 L452.4,365.4 L452.8,365.6 L453.2,365.6 L453.7,365.6 L454.1,365.6 L454.5,365.6 L454.9,365.5 L455.3,365.6 L455.7,365.5 L456.1,365.6 L456.6,365.6 L457.0,365.6 L457.4,365.6 L457.8,365.6 L458.2,365.6 L458.6,365.6 L459.0,365.6 L459.5,365.6 L459.9,365.6 L460.3,365.5 L460.7,365.5 L461.1,365.6 L461.5,365.6 L461.9,365.4 L462.4,365.6 L462.8,365.5 L463.2,365.5 L463.6,365.5 L464.0,365.4 L464.4,365.3 L464.8,365.6 L465.3,365.6 L465.7,365.5 L466.1,365.5 L466.5,365.6 L466.9,365.6 L467.3,365.6 L467.7,365.5 L468.2,365.5 L468.6,365.6 L469.0,365.6 L469.4,365.6 L469.8,365.5 L470.2,365.6 L470.6,365.4 L471.1,365.6 L471.5,365.6 L471.9,365.4 L472.3,365.6 L472.7,365.6 L473.1,365.6 L473.5,365.5 L474.0,365.5 L474.4,365.6 L474.8,365.6 L475.2,365.6 L475.6,365.6 L476.0,365.6 L476.4,365.6 L476.9,365.6 L477.3,365.5 L477.7,365.6 L478.1,365.6 L478.5,365.6 L478.9,365.6 L479.3,365.5 L479.8,365.6 L480.2,365.6 L480.6,365.6 L481.0,365.6 L481.4,365.6 L481.8,365.5 L482.2,365.6 L482.7,365.6 L483.1,365.6 L483.5,365.4 L483.9,365.5 L484.3,365.5 L484.7,365.6 L485.1,365.4 L485.6,365.6 L486.0,365.6 L486.4,365.4 L486.8,365.5 L487.2,365.6 L487.6,365.6 L488.0,365.6 L488.5,365.6 L488.9,365.6 L489.3,365.5 L489.7,365.5 L490.1,365.6 L490.5,365.6 L490.9,365.5 L491.4,365.4 L491.8,365.6 L492.2,365.4 L492.6,365.4 L493.0,365.5 L493.4,365.5 L493.8,365.5 L494.3,365.5 L494.7,365.5 L495.1,365.5 L495.5,365.3 L495.9,365.3 L496.3,365.4 L496.7,365.5 L497.2,365.5 L497.6,365.4 L498.0,365.5 L498.4,365.6 L498.8,365.5 L499.2,365.5 L499.6,365.5 L500.1,365.5 L500.5,365.6 L500.9,365.6 L501.3,365.6 L501.7,365.6 L502.1,365.6 L502.5,365.6 L503.0,365.5 L503.4,365.5 L503.8,365.5 L504.2,365.5 L504.6,365.5" fill="none" stroke="#2b4892" stroke-width="1.00" stroke-linejoin="round"/>
<path d="M305.8,365.5 L306.2,365.5 L306.6,365.5 L307.0,365.5 L307.4,365.5 L307.8,365.5 L308.2,365.5 L308.7,365.5 L309.1,365.5 L309.5,365.5 L309.9,365.5 L310.3,365.5 L310.7,365.5 L311.1,365.5 L311.6,365.5 L312.0,365.5 L312.4,365.5 L312.8,365.5 L313.2,365.5 L313.6,365.5 L314.0,365.5 L314.5,365.5 L314.9,365.5 L315.3,365.5 L315.7,365.5 L316.1,365.5 L316.5,365.5 L316.9,365.5 L317.4,365.5 L317.8,365.5 L318.2,365.5 L318.6,365.5 L319.0,365.5 L319.4,365.5 L319.8,365.5 L320.3,365.5 L320.7,365.5 L321.1,365.5 L321.5,365.5 L321.9,365.5 L322.3,365.5 L322.7,365.5 L323.2,365.5 L323.6,365.5 L324.0,365.5 L324.4,365.5 L324.8,365.5 L325.2,365.5 L325.6,365.5 L326.1,365.5 L326.5,365.5 L326.9,365.5 L327.3,365.5 L327.7,365.5 L328.1,365.5 L328.5,365.5 L329.0,365.4 L329.4,365.4 L329.8,365.4 L330.2,365.5 L330.6,365.4 L331.0,365.5 L331.4,365.4 L331.9,365.4 L332.3,365.4 L332.7,365.4 L333.1,365.4 L333.5,365.4 L333.9,365.4 L334.3,365.4 L334.8,365.4 L335.2,365.4 L335.6,365.4 L336.0,365.4 L336.4,365.4 L336.8,365.4 L337.2,365.3 L337.7,365.3 L338.1,365.3 L338.5,365.3 L338.9,365.3 L339.3,365.3 L339.7,365.3 L340.1,365.3 L340.6,365.3 L341.0,365.3 L341.4,365.3 L341.8,365.3 L342.2,365.3 L342.6,365.2 L343.0,365.1 L343.5,365.1 L343.9,365.1 L344.3,365.1 L344.7,365.1 L345.1,365.1 L345.5,365.0 L345.9,365.0 L346.4,365.0 L346.8,365.0 L347.2,365.0 L347.6,365.0 L348.0,364.8 L348.4,364.8 L348.8,364.7 L349.3,364.6 L349.7,364.5 L350.1,364.5 L350.5,364.7 L350.9,364.5 L351.3,364.5 L351.7,364.3 L352.2,364.4 L352.6,364.4 L353.0,364.4 L353.4,364.4 L353.8,364.3 L354.2,364.3 L354.6,364.2 L355.1,364.3 L355.5,364.3 L355.9,364.1 L356.3,364.2 L356.7,364.2 L357.1,364.2 L357.5,364.0 L358.0,364.1 L358.4,364.1 L358.8,364.0 L359.2,364.1 L359.6,364.0 L360.0,363.9 L360.4,363.8 L360.9,363.9 L361.3,363.9 L361.7,363.9 L362.1,364.2 L362.5,364.2 L362.9,364.0 L363.3,363.8 L363.8,363.9 L364.2,364.0 L364.6,364.0 L365.0,363.9 L365.4,363.7 L365.8,363.7 L366.2,363.7 L366.7,363.7 L367.1,363.6 L367.5,363.6 L367.9,363.7 L368.3,363.6 L368.7,363.7 L369.1,363.7 L369.6,363.7 L370.0,363.5 L370.4,363.5 L370.8,363.5 L371.2,363.7 L371.6,363.7 L372.0,363.8 L372.5,363.4 L372.9,363.3 L373.3,363.2 L373.7,363.3 L374.1,363.3 L374.5,363.3 L374.9,363.4 L375.4,363.3 L375.8,363.2 L376.2,363.3 L376.6,363.4 L377.0,363.5 L377.4,363.5 L377.8,363.4 L378.3,363.4 L378.7,363.3 L379.1,363.2 L379.5,363.1 L379.9,363.0 L380.3,362.9 L380.7,362.8 L381.2,362.8 L381.6,362.9 L382.0,362.9 L382.4,362.6 L382.8,362.6 L383.2,362.6 L383.6,362.8 L384.1,362.7 L384.5,362.6 L384.9,362.5 L385.3,362.5 L385.7,362.6 L386.1,362.6 L386.5,362.6 L387.0,362.5 L387.4,362.2 L387.8,362.3 L388.2,362.3 L388.6,362.2 L389.0,362.2 L389.4,362.2 L389.9,361.9 L390.3,361.8 L390.7,361.9 L391.1,362.0 L391.5,362.1 L391.9,361.9 L392.3,361.8 L392.8,361.5 L393.2,361.3 L393.6,361.2 L394.0,361.1 L394.4,361.2 L394.8,361.2 L395.2,361.0 L395.7,360.9 L396.1,360.9 L396.5,360.7 L396.9,360.6 L397.3,360.5 L397.7,360.5 L398.1,360.4 L398.6,360.2 L399.0,360.1 L399.4,359.8 L399.8,359.6 L400.2,359.6 L400.6,359.6 L401.0,359.5 L401.5,359.3 L401.9,359.1 L402.3,358.8 L402.7,358.8 L403.1,358.6 L403.5,358.6 L403.9,358.4 L404.4,358.5 L404.8,358.5 L405.2,358.7 L405.6,358.7 L406.0,358.9 L406.4,358.7 L406.8,358.8 L407.3,358.8 L407.7,359.0 L408.1,358.9 L408.5,358.8 L408.9,359.1 L409.3,359.0 L409.7,359.3 L410.2,359.2 L410.6,359.5 L411.0,359.3 L411.4,359.4 L411.8,359.5 L412.2,359.9 L412.6,360.1 L413.1,360.1 L413.5,360.2 L413.9,360.3 L414.3,360.8 L414.7,361.1 L415.1,361.2 L415.5,361.2 L416.0,361.4 L416.4,361.6 L416.8,361.8 L417.2,362.0 L417.6,362.0 L418.0,362.1 L418.4,362.1 L418.9,362.2 L419.3,362.3 L419.7,362.4 L420.1,362.4 L420.5,362.4 L420.9,362.4 L421.3,362.6 L421.8,362.8 L422.2,362.8 L422.6,362.9 L423.0,363.1 L423.4,363.2 L423.8,363.0 L424.2,363.0 L424.7,362.9 L425.1,362.9 L425.5,363.0 L425.9,363.2 L426.3,363.3 L426.7,363.1 L427.1,363.1 L427.6,363.1 L428.0,363.0 L428.4,363.1 L428.8,363.0 L429.2,363.1 L429.6,363.3 L430.0,363.4 L430.5,363.5 L430.9,363.4 L431.3,363.6 L431.7,363.6 L432.1,363.7 L432.5,363.5 L432.9,363.5 L433.4,363.6 L433.8,363.4 L434.2,363.4 L434.6,363.4 L435.0,363.6 L435.4,363.6 L435.8,363.5 L436.3,363.3 L436.7,363.3 L437.1,363.2 L437.5,363.4 L437.9,363.5 L438.3,363.5 L438.7,363.5 L439.2,363.4 L439.6,363.6 L440.0,363.6 L440.4,363.5 L440.8,363.4 L441.2,363.6 L441.6,363.7 L442.1,363.8 L442.5,363.7 L442.9,363.8 L443.3,363.9 L443.7,363.6 L444.1,363.6 L444.5,363.6 L445.0,363.7 L445.4,363.6 L445.8,363.5 L446.2,363.7 L446.6,363.9 L447.0,363.8 L447.4,363.7 L447.9,363.6 L448.3,363.5 L448.7,363.7 L449.1,363.7 L449.5,363.8 L449.9,363.5 L450.3,363.5 L450.8,363.5 L451.2,363.7 L451.6,363.7 L452.0,363.8 L452.4,363.9 L452.8,364.1 L453.2,363.9 L453.7,363.7 L454.1,363.7 L454.5,364.0 L454.9,364.2 L455.3,364.0 L455.7,364.0 L456.1,363.9 L456.6,363.8 L457.0,363.6 L457.4,363.4 L457.8,363.6 L458.2,363.6 L458.6,363.7 L459.0,363.7 L459.5,363.7 L459.9,363.7 L460.3,363.7 L460.7,363.9 L461.1,363.9 L461.5,364.0 L461.9,363.9 L462.4,363.9 L462.8,363.9 L463.2,363.8 L463.6,363.8 L464.0,363.8 L464.4,363.8 L464.8,363.8 L465.3,363.9 L465.7,364.0 L466.1,363.9 L466.5,363.9 L466.9,363.9 L467.3,364.0 L467.7,364.0 L468.2,363.8 L468.6,363.8 L469.0,363.9 L469.4,364.0 L469.8,364.0 L470.2,364.0 L470.6,364.1 L471.1,364.0 L471.5,364.0 L471.9,364.1 L472.3,364.0 L472.7,364.0 L473.1,364.0 L473.5,364.1 L474.0,364.1 L474.4,363.9 L474.8,363.8 L475.2,363.8 L475.6,363.9 L476.0,363.9 L476.4,363.7 L476.9,363.7 L477.3,363.8 L477.7,363.9 L478.1,364.0 L478.5,363.9 L478.9,363.9 L479.3,363.7 L479.8,363.7 L480.2,364.0 L480.6,364.1 L481.0,364.1 L481.4,363.8 L481.8,363.7 L482.2,363.6 L482.7,363.7 L483.1,363.9 L483.5,363.9 L483.9,363.8 L484.3,363.8 L484.7,363.6 L485.1,363.6 L485.6,363.5 L486.0,363.9 L486.4,364.1 L486.8,364.2 L487.2,364.0 L487.6,363.8 L488.0,363.6 L488.5,363.8 L488.9,363.8 L489.3,363.7 L489.7,363.7 L490.1,363.7 L490.5,363.9 L490.9,363.9 L491.4,363.9 L491.8,363.6 L492.2,363.5 L492.6,363.7 L493.0,363.9 L493.4,364.0 L493.8,363.8 L494.3,363.7 L494.7,363.7 L495.1,363.8 L495.5,363.7 L495.9,363.8 L496.3,363.7 L496.7,364.0 L497.2,363.9 L497.6,363.8 L498.0,363.7 L498.4,363.8 L498.8,364.0 L499.2,364.1 L499.6,364.2 L500.1,364.2 L500.5,364.0 L500.9,363.7 L501.3,363.7 L501.7,363.7 L502.1,363.9 L502.5,363.8 L503.0,363.8 L503.4,363.8 L503.8,363.8 L504.2,364.0 L504.6,363.9" fill="none" stroke="#424868" stroke-width="1.10" stroke-linejoin="round"/>
<path d="M305.8,365.6 L306.2,365.5 L306.6,365.5 L307.0,365.5 L307.4,365.5 L307.8,365.5 L308.2,365.5 L308.7,365.5 L309.1,365.5 L309.5,365.5 L309.9,365.5 L310.3,365.5 L310.7,365.5 L311.1,365.5 L311.6,365.5 L312.0,365.5 L312.4,365.5 L312.8,365.5 L313.2,365.5 L313.6,365.5 L314.0,365.5 L314.5,365.5 L314.9,365.5 L315.3,365.5 L315.7,365.5 L316.1,365.5 L316.5,365.5 L316.9,365.5 L317.4,365.5 L317.8,365.5 L318.2,365.5 L318.6,365.5 L319.0,365.5 L319.4,365.5 L319.8,365.5 L320.3,365.5 L320.7,365.5 L321.1,365.5 L321.5,365.5 L321.9,365.5 L322.3,365.5 L322.7,365.5 L323.2,365.5 L323.6,365.5 L324.0,365.5 L324.4,365.5 L324.8,365.5 L325.2,365.5 L325.6,365.5 L326.1,365.5 L326.5,365.5 L326.9,365.5 L327.3,365.5 L327.7,365.5 L328.1,365.5 L328.5,365.5 L329.0,365.5 L329.4,365.5 L329.8,365.5 L330.2,365.5 L330.6,365.5 L331.0,365.5 L331.4,365.5 L331.9,365.5 L332.3,365.5 L332.7,365.5 L333.1,365.5 L333.5,365.5 L333.9,365.5 L334.3,365.5 L334.8,365.5 L335.2,365.4 L335.6,365.4 L336.0,365.4 L336.4,365.4 L336.8,365.4 L337.2,365.4 L337.7,365.4 L338.1,365.4 L338.5,365.4 L338.9,365.4 L339.3,365.4 L339.7,365.4 L340.1,365.4 L340.6,365.4 L341.0,365.4 L341.4,365.4 L341.8,365.4 L342.2,365.4 L342.6,365.4 L343.0,365.4 L343.5,365.2 L343.9,364.7 L344.3,364.1 L344.7,363.3 L345.1,362.3 L345.5,361.4 L345.9,360.4 L346.4,359.3 L346.8,358.0 L347.2,356.6 L347.6,355.1 L348.0,353.5 L348.4,351.9 L348.8,350.4 L349.3,348.9 L349.7,347.3 L350.1,345.7 L350.5,344.0 L350.9,342.4 L351.3,340.7 L351.7,339.0 L352.2,337.4 L352.6,335.7 L353.0,333.9 L353.4,332.2 L353.8,330.3 L354.2,328.0 L354.6,325.6 L355.1,323.2 L355.5,321.1 L355.9,319.6 L356.3,318.7 L356.7,319.1 L357.1,321.5 L357.5,325.2 L358.0,329.1 L358.4,332.5 L358.8,335.6 L359.2,338.7 L359.6,341.4 L360.0,343.7 L360.4,345.9 L360.9,348.0 L361.3,349.8 L361.7,351.3 L362.1,352.8 L362.5,354.2 L362.9,355.2 L363.3,356.0 L363.8,356.5 L364.2,357.0 L364.6,357.5 L365.0,357.9 L365.4,358.3 L365.8,358.5 L366.2,358.6 L366.7,358.8 L367.1,359.0 L367.5,359.4 L367.9,359.8 L368.3,360.4 L368.7,360.9 L369.1,361.7 L369.6,362.5 L370.0,362.6 L370.4,362.7 L370.8,361.0 L371.2,359.2 L371.6,360.8 L372.0,362.5 L372.5,362.0 L372.9,361.5 L373.3,360.2 L373.7,359.0 L374.1,360.2 L374.5,361.4 L374.9,361.1 L375.4,360.8 L375.8,362.0 L376.2,363.2 L376.6,362.3 L377.0,361.5 L377.4,361.4 L377.8,361.3 L378.3,361.7 L378.7,362.1 L379.1,361.3 L379.5,360.5 L379.9,361.5 L380.3,362.6 L380.7,362.8 L381.2,362.9 L381.6,362.4 L382.0,361.9 L382.4,361.2 L382.8,360.5 L383.2,361.3 L383.6,362.1 L384.1,361.6 L384.5,361.1 L384.9,360.4 L385.3,359.7 L385.7,360.0 L386.1,360.4 L386.5,359.7 L387.0,359.0 L387.4,359.4 L387.8,359.9 L388.2,361.1 L388.6,362.3 L389.0,360.4 L389.4,358.5 L389.9,358.8 L390.3,359.1 L390.7,360.2 L391.1,361.3 L391.5,361.2 L391.9,361.1 L392.3,361.5 L392.8,361.8 L393.2,362.2 L393.6,362.6 L394.0,363.1 L394.4,363.7 L394.8,363.2 L395.2,362.8 L395.7,363.3 L396.1,363.8 L396.5,363.3 L396.9,362.8 L397.3,363.1 L397.7,363.5 L398.1,361.7 L398.6,360.0 L399.0,359.7 L399.4,359.5 L399.8,359.4 L400.2,359.4 L400.6,359.2 L401.0,359.0 L401.5,360.6 L401.9,362.2 L402.3,362.2 L402.7,362.2 L403.1,360.6 L403.5,359.0 L403.9,361.0 L404.4,363.0 L404.8,362.5 L405.2,362.0 L405.6,362.7 L406.0,363.4 L406.4,363.0 L406.8,362.7 L407.3,362.2 L407.7,361.7 L408.1,362.4 L408.5,363.1 L408.9,361.2 L409.3,359.3 L409.7,359.2 L410.2,359.2 L410.6,361.5 L411.0,363.9 L411.4,363.6 L411.8,363.4 L412.2,362.9 L412.6,362.5 L413.1,363.4 L413.5,364.3 L413.9,364.1 L414.3,363.9 L414.7,363.8 L415.1,363.7 L415.5,362.0 L416.0,360.4 L416.4,362.4 L416.8,364.3 L417.2,362.7 L417.6,361.1 L418.0,361.8 L418.4,362.4 L418.9,362.2 L419.3,362.1 L419.7,362.5 L420.1,362.9 L420.5,361.7 L420.9,360.4 L421.3,360.4 L421.8,360.3 L422.2,362.0 L422.6,363.7 L423.0,362.6 L423.4,361.5 L423.8,362.6 L424.2,363.7 L424.7,362.2 L425.1,360.8 L425.5,362.4 L425.9,363.9 L426.3,361.1 L426.7,358.3 L427.1,359.0 L427.6,359.8 L428.0,362.1 L428.4,364.5 L428.8,364.3 L429.2,364.2 L429.6,360.4 L430.0,356.7 L430.5,360.3 L430.9,363.8 L431.3,363.5 L431.7,363.3 L432.1,362.8 L432.5,362.4 L432.9,362.6 L433.4,362.8 L433.8,363.6 L434.2,364.5 L434.6,363.0 L435.0,361.4 L435.4,362.9 L435.8,364.3 L436.3,362.2 L436.7,360.1 L437.1,362.3 L437.5,364.6 L437.9,364.5 L438.3,364.3 L438.7,362.7 L439.2,361.1 L439.6,362.0 L440.0,362.9 L440.4,361.6 L440.8,360.2 L441.2,360.7 L441.6,361.1 L442.1,362.5 L442.5,363.9 L442.9,362.2 L443.3,360.5 L443.7,362.0 L444.1,363.4 L444.5,363.7 L445.0,364.0 L445.4,364.1 L445.8,364.2 L446.2,362.3 L446.6,360.5 L447.0,361.3 L447.4,362.0 L447.9,362.5 L448.3,362.9 L448.7,363.8 L449.1,364.8 L449.5,363.8 L449.9,362.8 L450.3,363.3 L450.8,363.8 L451.2,364.1 L451.6,364.5 L452.0,364.4 L452.4,364.2 L452.8,364.1 L453.2,364.1 L453.7,364.5 L454.1,364.8 L454.5,363.9 L454.9,363.0 L455.3,363.7 L455.7,364.3 L456.1,362.5 L456.6,360.7 L457.0,361.7 L457.4,362.7 L457.8,361.8 L458.2,360.9 L458.6,362.6 L459.0,364.2 L459.5,364.4 L459.9,364.5 L460.3,363.1 L460.7,361.7 L461.1,362.9 L461.5,364.1 L461.9,363.6 L462.4,363.1 L462.8,363.0 L463.2,362.9 L463.6,363.7 L464.0,364.5 L464.4,364.5 L464.8,364.6 L465.3,364.8 L465.7,364.9 L466.1,364.9 L466.5,364.8 L466.9,363.3 L467.3,361.8 L467.7,361.6 L468.2,361.5 L468.6,362.4 L469.0,363.3 L469.4,363.1 L469.8,362.9 L470.2,363.8 L470.6,364.6 L471.1,364.1 L471.5,363.6 L471.9,363.8 L472.3,364.0 L472.7,364.0 L473.1,364.0 L473.5,362.5 L474.0,361.0 L474.4,360.8 L474.8,360.5 L475.2,362.2 L475.6,363.8 L476.0,363.9 L476.4,364.0 L476.9,364.0 L477.3,363.9 L477.7,362.5 L478.1,361.1 L478.5,361.8 L478.9,362.5 L479.3,363.1 L479.8,363.7 L480.2,364.4 L480.6,365.0 L481.0,365.0 L481.4,365.0 L481.8,364.2 L482.2,363.4 L482.7,363.6 L483.1,363.9 L483.5,362.6 L483.9,361.4 L484.3,361.4 L484.7,361.4 L485.1,362.1 L485.6,362.8 L486.0,362.4 L486.4,362.0 L486.8,361.8 L487.2,361.6 L487.6,362.6 L488.0,363.5 L488.5,362.7 L488.9,361.8 L489.3,363.4 L489.7,365.0 L490.1,364.8 L490.5,364.5 L490.9,363.0 L491.4,361.5 L491.8,362.9 L492.2,364.3 L492.6,364.6 L493.0,365.0 L493.4,364.1 L493.8,363.2 L494.3,364.2 L494.7,365.2 L495.1,364.2 L495.5,363.2 L495.9,364.2 L496.3,365.2 L496.7,363.6 L497.2,362.1 L497.6,362.7 L498.0,363.3 L498.4,363.6 L498.8,363.9 L499.2,363.3 L499.6,362.7 L500.1,363.5 L500.5,364.3 L500.9,363.2 L501.3,362.0 L501.7,363.5 L502.1,365.1 L502.5,363.3 L503.0,361.6 L503.4,363.3 L503.8,365.0 L504.2,365.3 L504.6,365.5" fill="none" stroke="#4a1a6b" stroke-width="1.90" stroke-linejoin="round" stroke-dasharray="3.4 2.0"/>
<path d="M305.8,365.6 L306.2,365.5 L306.6,365.5 L307.0,365.5 L307.4,365.5 L307.8,365.5 L308.2,365.5 L308.7,365.5 L309.1,365.5 L309.5,365.5 L309.9,365.5 L310.3,365.5 L310.7,365.5 L311.1,365.5 L311.6,365.5 L312.0,365.5 L312.4,365.5 L312.8,365.5 L313.2,365.5 L313.6,365.5 L314.0,365.5 L314.5,365.5 L314.9,365.5 L315.3,365.5 L315.7,365.5 L316.1,365.5 L316.5,365.5 L316.9,365.5 L317.4,365.5 L317.8,365.5 L318.2,365.5 L318.6,365.5 L319.0,365.5 L319.4,365.5 L319.8,365.5 L320.3,365.5 L320.7,365.5 L321.1,365.5 L321.5,365.5 L321.9,365.5 L322.3,365.5 L322.7,365.5 L323.2,365.5 L323.6,365.5 L324.0,365.5 L324.4,365.4 L324.8,365.4 L325.2,365.4 L325.6,365.4 L326.1,365.4 L326.5,365.4 L326.9,365.4 L327.3,365.3 L327.7,365.2 L328.1,365.1 L328.5,365.0 L329.0,364.8 L329.4,364.7 L329.8,364.5 L330.2,364.2 L330.6,363.9 L331.0,363.5 L331.4,363.1 L331.9,362.6 L332.3,362.1 L332.7,361.6 L333.1,361.0 L333.5,360.4 L333.9,359.8 L334.3,359.0 L334.8,358.2 L335.2,357.3 L335.6,356.4 L336.0,355.3 L336.4,354.0 L336.8,352.4 L337.2,350.7 L337.7,348.8 L338.1,346.8 L338.5,344.6 L338.9,342.1 L339.3,339.3 L339.7,336.1 L340.1,332.1 L340.6,327.6 L341.0,323.1 L341.4,319.0 L341.8,314.3 L342.2,309.7 L342.6,306.0 L343.0,304.2 L343.5,305.2 L343.9,308.8 L344.3,313.8 L344.7,318.9 L345.1,323.2 L345.5,327.6 L345.9,331.5 L346.4,334.4 L346.8,336.9 L347.2,339.8 L347.6,343.5 L348.0,346.3 L348.4,348.0 L348.8,349.3 L349.3,350.5 L349.7,351.6 L350.1,352.7 L350.5,353.7 L350.9,354.6 L351.3,355.3 L351.7,355.9 L352.2,356.3 L352.6,356.6 L353.0,356.9 L353.4,357.2 L353.8,357.4 L354.2,357.6 L354.6,357.8 L355.1,358.0 L355.5,358.1 L355.9,358.3 L356.3,358.5 L356.7,358.6 L357.1,358.8 L357.5,359.0 L358.0,359.1 L358.4,359.3 L358.8,359.4 L359.2,359.5 L359.6,359.6 L360.0,359.7 L360.4,359.8 L360.9,359.9 L361.3,359.9 L361.7,359.9 L362.1,360.0 L362.5,359.9 L362.9,359.6 L363.3,360.2 L363.8,361.5 L364.2,361.2 L364.6,360.5 L365.0,360.9 L365.4,361.4 L365.8,360.4 L366.2,359.3 L366.7,360.3 L367.1,361.4 L367.5,362.6 L367.9,363.8 L368.3,360.6 L368.7,357.4 L369.1,356.0 L369.6,354.6 L370.0,356.0 L370.4,357.4 L370.8,359.2 L371.2,361.0 L371.6,360.3 L372.0,359.6 L372.5,360.0 L372.9,360.3 L373.3,360.0 L373.7,359.7 L374.1,361.0 L374.5,362.3 L374.9,362.2 L375.4,362.1 L375.8,363.2 L376.2,364.3 L376.6,363.2 L377.0,362.1 L377.4,362.4 L377.8,362.6 L378.3,361.4 L378.7,360.1 L379.1,360.1 L379.5,360.1 L379.9,360.5 L380.3,360.8 L380.7,361.6 L381.2,362.3 L381.6,363.2 L382.0,364.2 L382.4,360.5 L382.8,356.9 L383.2,359.4 L383.6,362.0 L384.1,361.4 L384.5,360.8 L384.9,358.9 L385.3,356.9 L385.7,359.1 L386.1,361.3 L386.5,361.8 L387.0,362.3 L387.4,361.5 L387.8,360.7 L388.2,360.5 L388.6,360.2 L389.0,359.1 L389.4,358.0 L389.9,361.2 L390.3,364.4 L390.7,362.8 L391.1,361.2 L391.5,359.9 L391.9,358.7 L392.3,358.9 L392.8,359.2 L393.2,359.7 L393.6,360.3 L394.0,362.6 L394.4,364.8 L394.8,363.5 L395.2,362.3 L395.7,361.4 L396.1,360.5 L396.5,361.6 L396.9,362.7 L397.3,361.9 L397.7,361.1 L398.1,359.6 L398.6,358.1 L399.0,361.1 L399.4,364.2 L399.8,364.7 L400.2,365.1 L400.6,364.1 L401.0,363.0 L401.5,363.9 L401.9,364.9 L402.3,364.6 L402.7,364.4 L403.1,361.8 L403.5,359.1 L403.9,361.2 L404.4,363.2 L404.8,363.8 L405.2,364.4 L405.6,362.5 L406.0,360.6 L406.4,363.0 L406.8,365.4 L407.3,363.2 L407.7,360.9 L408.1,362.0 L408.5,363.0 L408.9,362.6 L409.3,362.2 L409.7,363.8 L410.2,365.5 L410.6,365.4 L411.0,365.3 L411.4,363.6 L411.8,362.0 L412.2,364.2 L412.6,365.6 L413.1,365.6 L413.5,365.0 L413.9,363.9 L414.3,362.9 L414.7,364.0 L415.1,365.2 L415.5,364.6 L416.0,364.1 L416.4,362.1 L416.8,360.1 L417.2,360.1 L417.6,360.1 L418.0,359.6 L418.4,359.2 L418.9,361.1 L419.3,363.0 L419.7,364.9 L420.1,365.6 L420.5,363.3 L420.9,359.9 L421.3,361.3 L421.8,362.8 L422.2,362.0 L422.6,361.3 L423.0,362.1 L423.4,362.9 L423.8,361.8 L424.2,360.7 L424.7,361.8 L425.1,362.8 L425.5,360.8 L425.9,358.9 L426.3,362.4 L426.7,365.6 L427.1,364.9 L427.6,364.0 L428.0,363.0 L428.4,362.1 L428.8,364.2 L429.2,365.6 L429.6,363.2 L430.0,360.1 L430.5,363.0 L430.9,365.6 L431.3,362.8 L431.7,359.8 L432.1,360.6 L432.5,361.4 L432.9,363.9 L433.4,365.6 L433.8,364.0 L434.2,361.6 L434.6,362.4 L435.0,363.2 L435.4,363.1 L435.8,363.0 L436.3,364.4 L436.7,365.6 L437.1,364.9 L437.5,364.1 L437.9,364.6 L438.3,365.1 L438.7,365.6 L439.2,365.6 L439.6,365.6 L440.0,365.6 L440.4,365.5 L440.8,364.1 L441.2,363.1 L441.6,362.1 L442.1,362.8 L442.5,363.4 L442.9,364.0 L443.3,364.6 L443.7,365.3 L444.1,365.6 L444.5,363.8 L445.0,361.6 L445.4,362.4 L445.8,363.2 L446.2,362.6 L446.6,362.0 L447.0,361.8 L447.4,361.6 L447.9,362.4 L448.3,363.2 L448.7,362.7 L449.1,362.1 L449.5,362.7 L449.9,363.2 L450.3,365.1 L450.8,365.6 L451.2,364.7 L451.6,362.4 L452.0,364.2 L452.4,365.6 L452.8,365.2 L453.2,364.3 L453.7,364.1 L454.1,363.9 L454.5,364.0 L454.9,364.1 L455.3,363.0 L455.7,361.9 L456.1,364.0 L456.6,365.6 L457.0,365.6 L457.4,365.6 L457.8,364.5 L458.2,361.9 L458.6,362.3 L459.0,362.6 L459.5,363.5 L459.9,364.4 L460.3,364.5 L460.7,364.6 L461.1,365.6 L461.5,365.6 L461.9,365.6 L462.4,365.1 L462.8,365.6 L463.2,365.6 L463.6,364.7 L464.0,362.8 L464.4,364.8 L464.8,365.6 L465.3,365.6 L465.7,365.6 L466.1,364.9 L466.5,363.8 L466.9,363.7 L467.3,363.7 L467.7,363.5 L468.2,363.3 L468.6,362.8 L469.0,362.4 L469.4,363.8 L469.8,365.2 L470.2,365.6 L470.6,365.6 L471.1,364.6 L471.5,362.4 L471.9,362.5 L472.3,362.6 L472.7,363.8 L473.1,364.9 L473.5,363.5 L474.0,362.1 L474.4,363.6 L474.8,365.0 L475.2,365.4 L475.6,365.6 L476.0,364.1 L476.4,362.4 L476.9,362.7 L477.3,362.9 L477.7,363.6 L478.1,364.3 L478.5,363.9 L478.9,363.5 L479.3,364.8 L479.8,365.6 L480.2,364.1 L480.6,362.1 L481.0,361.9 L481.4,361.7 L481.8,363.6 L482.2,365.5 L482.7,362.6 L483.1,359.8 L483.5,362.7 L483.9,365.6 L484.3,365.6 L484.7,365.6 L485.1,365.6 L485.6,365.6 L486.0,365.6 L486.4,365.6 L486.8,365.6 L487.2,365.6 L487.6,365.6 L488.0,365.6 L488.5,364.0 L488.9,362.1 L489.3,363.4 L489.7,364.8 L490.1,365.6 L490.5,365.6 L490.9,364.7 L491.4,362.8 L491.8,363.9 L492.2,365.1 L492.6,365.6 L493.0,365.6 L493.4,364.9 L493.8,362.5 L494.3,364.2 L494.7,365.6 L495.1,364.6 L495.5,363.4 L495.9,364.4 L496.3,365.4 L496.7,364.2 L497.2,362.9 L497.6,362.8 L498.0,362.7 L498.4,363.5 L498.8,364.4 L499.2,364.4 L499.6,364.3 L500.1,365.6 L500.5,365.6 L500.9,365.6 L501.3,365.4 L501.7,365.2 L502.1,365.1 L502.5,364.9 L503.0,364.6 L503.4,363.6 L503.8,362.5 L504.2,364.2 L504.6,365.6" fill="none" stroke="#b5112e" stroke-width="1.65" stroke-linejoin="round"/>
<text x="299.2" y="368.5" font-size="9.80" text-anchor="end" textLength="4.8" lengthAdjust="spacingAndGlyphs" class="tk">0</text>
<text x="299.2" y="342.1" font-size="9.80" text-anchor="end" textLength="9.7" lengthAdjust="spacingAndGlyphs" class="tk">40</text>
<text x="299.2" y="315.6" font-size="9.80" text-anchor="end" textLength="9.7" lengthAdjust="spacingAndGlyphs" class="tk">80</text>
<text x="299.2" y="289.2" font-size="9.80" text-anchor="end" textLength="14.5" lengthAdjust="spacingAndGlyphs" class="tk">120</text>
<text x="299.2" y="262.8" font-size="9.80" text-anchor="end" textLength="14.5" lengthAdjust="spacingAndGlyphs" class="tk">160</text>
<text x="299.2" y="236.3" font-size="9.80" text-anchor="end" textLength="14.5" lengthAdjust="spacingAndGlyphs" class="tk">200</text>
<text x="305.9" y="379.9" font-size="9.80" text-anchor="middle" textLength="4.8" lengthAdjust="spacingAndGlyphs" class="tk">0</text>
<text x="355.6" y="379.9" font-size="9.80" text-anchor="middle" textLength="9.7" lengthAdjust="spacingAndGlyphs" class="tk">30</text>
<text x="405.3" y="379.9" font-size="9.80" text-anchor="middle" textLength="9.7" lengthAdjust="spacingAndGlyphs" class="tk">60</text>
<text x="455.0" y="379.9" font-size="9.80" text-anchor="middle" textLength="9.7" lengthAdjust="spacingAndGlyphs" class="tk">90</text>
<text x="504.8" y="379.9" font-size="9.80" text-anchor="middle" textLength="14.5" lengthAdjust="spacingAndGlyphs" class="tk">120</text>
<text x="406.9" y="394.5" font-size="10.20" text-anchor="middle" textLength="40.2" lengthAdjust="spacingAndGlyphs" class="ti">Time (min)</text>
<text transform="translate(276.8,296.9) rotate(-90)" font-size="9.6" text-anchor="middle" textLength="45.5" style="stroke-width:0.15px" lengthAdjust="spacingAndGlyphs">IIa (ΔRFU/s)</text>
<text x="268.90" y="222.00" font-size="13.1" font-weight="bold" style="fill:#000;stroke:#000;stroke-width:0.4px">D</text>
<path d="M352.7,234.1 h17.7" fill="none" stroke="#b5112e" stroke-width="1.70"/>
<text x="373.5" y="237.0" font-size="8.40" textLength="61.0" lengthAdjust="spacingAndGlyphs">RBC- MVs+ NPP</text>
<path d="M352.7,251.0 h17.7" fill="none" stroke="#4a1a6b" stroke-width="1.70" stroke-dasharray="4.9 1.5"/>
<text x="373.5" y="253.9" font-size="8.40" textLength="69.1" lengthAdjust="spacingAndGlyphs">RBC- MVs+ Def-XI</text>
<path d="M352.7,268.0 h17.7" fill="none" stroke="#424868" stroke-width="1.70"/>
<text x="373.5" y="270.9" font-size="8.40" textLength="91.1" lengthAdjust="spacingAndGlyphs">RBC- MVs+ Def-XI+SBTI</text>
<path d="M352.7,284.9 h17.7" fill="none" stroke="#2b4892" stroke-width="1.70"/>
<text x="373.5" y="287.8" font-size="8.40" textLength="55.4" lengthAdjust="spacingAndGlyphs">Buffer +Def-XI</text>
<path d="M0,0H520V405H0Z M1.3,1 V403.85 H519 V1 Z" fill="#000" fill-rule="evenodd"/>
</svg>
</body></html>
